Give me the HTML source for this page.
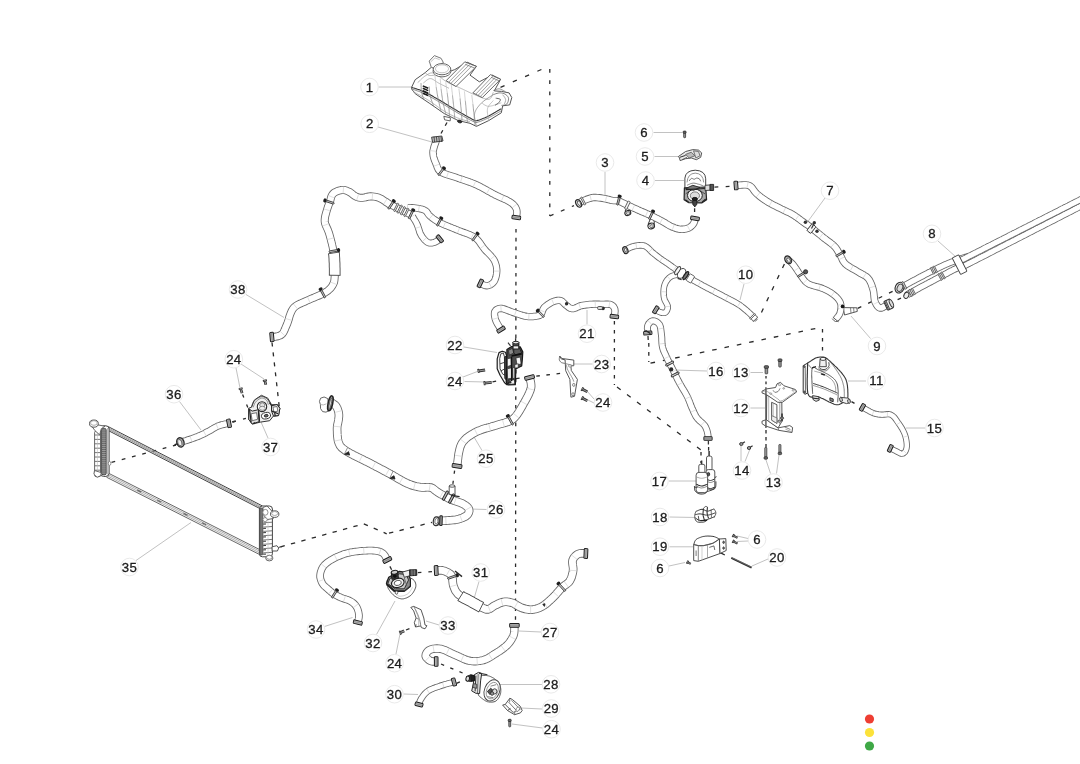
<!DOCTYPE html>
<html><head><meta charset="utf-8"><title>Cooling system</title>
<style>
html,body{margin:0;padding:0;background:#fff;}
body{width:1080px;height:764px;overflow:hidden;font-family:"Liberation Sans",sans-serif;}
svg{display:block;filter:blur(0.45px);}
text{font-family:"Liberation Sans",sans-serif;font-size:13.2px;fill:#1c1c1c;stroke:#1c1c1c;stroke-width:0.3px;letter-spacing:0.3px;}
</style></head><body>
<svg width="1080" height="764" viewBox="0 0 1080 764">
<rect width="1080" height="764" fill="#fff"/>
<path d="M500.5 87.3 L549.5 66" stroke="#2a2a2a" stroke-width="1.3" fill="none" stroke-dasharray="4.4 9"/>
<path d="M549.8 69 L549.8 216" stroke="#2a2a2a" stroke-width="1.3" fill="none" stroke-dasharray="3.8 7.4"/>
<path d="M549.8 216 L574 205.6" stroke="#2a2a2a" stroke-width="1.3" fill="none" stroke-dasharray="4 8"/>
<path d="M516 229 L515.5 620" stroke="#2a2a2a" stroke-width="1.3" fill="none" stroke-dasharray="3.6 5.2"/>
<path d="M447 122.5 L438 139" stroke="#2a2a2a" stroke-width="1.3" fill="none" stroke-dasharray="3.7 5.1"/>
<path d="M714.5 187.1 L731.5 186.3" stroke="#2a2a2a" stroke-width="1.3" fill="none" stroke-dasharray="3.8 7.4"/>
<path d="M694.6 208.3 L694.6 213" stroke="#2a2a2a" stroke-width="1.3" fill="none" stroke-dasharray="3.7 5.1"/>
<path d="M784.4 264 L760 315.5" stroke="#2a2a2a" stroke-width="1.3" fill="none" stroke-dasharray="4.4 7.9"/>
<path d="M857.7 308.4 L893.5 291" stroke="#2a2a2a" stroke-width="1.3" fill="none" stroke-dasharray="4 7.6"/>
<path d="M897.6 299.6 L902.2 297.6" stroke="#2a2a2a" stroke-width="1.3" fill="none" stroke-dasharray="3.7 5.1"/>
<path d="M614.4 321 L614.4 385" stroke="#2a2a2a" stroke-width="1.3" fill="none" stroke-dasharray="3.6 5.4"/>
<path d="M617 387 L701 450" stroke="#2a2a2a" stroke-width="1.3" fill="none" stroke-dasharray="4.6 7.9"/>
<path d="M701 452 L701 463" stroke="#2a2a2a" stroke-width="1.3" fill="none" stroke-dasharray="3.6 5.4"/>
<path d="M708.6 447 L708.6 453" stroke="#2a2a2a" stroke-width="1.3" fill="none" stroke-dasharray="3.7 5.1"/>
<path d="M648.8 343 L648.8 362" stroke="#2a2a2a" stroke-width="1.3" fill="none" stroke-dasharray="3.8 5.2"/>
<path d="M650.5 363.2 L822.5 327" stroke="#2a2a2a" stroke-width="1.3" fill="none" stroke-dasharray="4.6 8"/>
<path d="M822.5 329 L822.5 356" stroke="#2a2a2a" stroke-width="1.3" fill="none" stroke-dasharray="3.6 5.4"/>
<path d="M492.5 381.8 L499.5 380.4" stroke="#2a2a2a" stroke-width="1.3" fill="none" stroke-dasharray="3.7 5.1"/>
<path d="M516 378.6 L563 373" stroke="#2a2a2a" stroke-width="1.3" fill="none" stroke-dasharray="3.6 6.6"/>
<path d="M766 376 L766 387" stroke="#2a2a2a" stroke-width="1.3" fill="none" stroke-dasharray="2.6 3"/>
<path d="M766 430 L766 451" stroke="#2a2a2a" stroke-width="1.3" fill="none" stroke-dasharray="3.4 3.6"/>
<path d="M851.5 401.6 L854.5 403.4" stroke="#2a2a2a" stroke-width="1.3" fill="none" stroke-dasharray="4 4"/>
<path d="M720.7 552.9 L725.2 555.2" stroke="#2a2a2a" stroke-width="1.3" fill="none" stroke-dasharray="4.6 4"/>
<path d="M272 342.5 L279.5 409" stroke="#2a2a2a" stroke-width="1.3" fill="none" stroke-dasharray="4 6"/>
<path d="M242.6 394.6 L248 408" stroke="#2a2a2a" stroke-width="1.3" fill="none" stroke-dasharray="3.2 7.5"/>
<path d="M233 422 L247 418" stroke="#2a2a2a" stroke-width="1.3" fill="none" stroke-dasharray="3 7.4"/>
<path d="M111.5 462.4 L176 445" stroke="#2a2a2a" stroke-width="1.3" fill="none" stroke-dasharray="3.8 6.8"/>
<path d="M280.5 546.8 L363.8 523.8" stroke="#2a2a2a" stroke-width="1.3" fill="none" stroke-dasharray="4.4 6.4"/>
<path d="M363.8 523.8 L386.7 533.8" stroke="#2a2a2a" stroke-width="1.3" fill="none" stroke-dasharray="4.4 6.4"/>
<path d="M389 533.2 L432 522.4" stroke="#2a2a2a" stroke-width="1.3" fill="none" stroke-dasharray="4.4 6.4"/>
<path d="M454.6 470.6 L452.8 484.5" stroke="#2a2a2a" stroke-width="1.3" fill="none" stroke-dasharray="3.2 7"/>
<path d="M389.9 566.4 L392 570.5" stroke="#2a2a2a" stroke-width="1.3" fill="none" stroke-dasharray="3.7 5.1"/>
<path d="M417.8 572.6 L432.2 571.7" stroke="#2a2a2a" stroke-width="1.3" fill="none" stroke-dasharray="3.6 7"/>
<path d="M406 630 L409.8 628.5" stroke="#2a2a2a" stroke-width="1.3" fill="none" stroke-dasharray="3.7 5.1"/>
<path d="M441 664 L465 674" stroke="#2a2a2a" stroke-width="1.3" fill="none" stroke-dasharray="3.4 6.6"/>
<path d="M456.5 683.4 L461 681.4" stroke="#2a2a2a" stroke-width="1.3" fill="none" stroke-dasharray="3.7 5.1"/>
<line x1="378.5" y1="87" x2="412" y2="87" stroke="#c2c2c2" stroke-width="1" />
<line x1="378" y1="127" x2="432" y2="142" stroke="#c2c2c2" stroke-width="1" />
<line x1="605" y1="172" x2="605" y2="196" stroke="#c2c2c2" stroke-width="1" />
<line x1="655" y1="180.5" x2="684" y2="180.5" stroke="#c2c2c2" stroke-width="1" />
<line x1="654.5" y1="156.5" x2="680" y2="156.5" stroke="#c2c2c2" stroke-width="1" />
<line x1="653.5" y1="132.5" x2="682" y2="132.5" stroke="#c2c2c2" stroke-width="1" />
<line x1="825" y1="198" x2="807.5" y2="222" stroke="#c2c2c2" stroke-width="1" />
<line x1="938" y1="241" x2="956" y2="257" stroke="#c2c2c2" stroke-width="1" />
<line x1="870.5" y1="338.5" x2="851" y2="316" stroke="#c2c2c2" stroke-width="1" />
<line x1="744" y1="284" x2="740" y2="300" stroke="#c2c2c2" stroke-width="1" />
<line x1="866" y1="381" x2="848" y2="381" stroke="#c2c2c2" stroke-width="1" />
<line x1="750.5" y1="408" x2="765" y2="408" stroke="#c2c2c2" stroke-width="1" />
<line x1="750.5" y1="372.5" x2="763" y2="372.5" stroke="#c2c2c2" stroke-width="1" />
<line x1="741" y1="461" x2="741" y2="446" stroke="#c2c2c2" stroke-width="1" />
<line x1="745" y1="461.5" x2="750" y2="449" stroke="#c2c2c2" stroke-width="1" />
<line x1="770.5" y1="473.5" x2="766" y2="460" stroke="#c2c2c2" stroke-width="1" />
<line x1="776.5" y1="473.5" x2="779" y2="455" stroke="#c2c2c2" stroke-width="1" />
<line x1="925" y1="428" x2="906" y2="428" stroke="#c2c2c2" stroke-width="1" />
<line x1="707" y1="371" x2="674" y2="370" stroke="#c2c2c2" stroke-width="1" />
<line x1="669" y1="481" x2="696" y2="481" stroke="#c2c2c2" stroke-width="1" />
<line x1="669.5" y1="517" x2="696" y2="517.5" stroke="#c2c2c2" stroke-width="1" />
<line x1="669.5" y1="546.8" x2="693" y2="546.8" stroke="#c2c2c2" stroke-width="1" />
<line x1="669" y1="566" x2="685" y2="562.5" stroke="#c2c2c2" stroke-width="1" />
<line x1="748" y1="538.5" x2="737" y2="536" stroke="#c2c2c2" stroke-width="1" />
<line x1="748" y1="541" x2="737" y2="541.5" stroke="#c2c2c2" stroke-width="1" />
<line x1="768" y1="559" x2="752" y2="566" stroke="#c2c2c2" stroke-width="1" />
<line x1="587" y1="324.5" x2="587" y2="310" stroke="#c2c2c2" stroke-width="1" />
<line x1="464" y1="347" x2="497" y2="352.5" stroke="#c2c2c2" stroke-width="1" />
<line x1="592.5" y1="364" x2="573" y2="364" stroke="#c2c2c2" stroke-width="1" />
<line x1="463" y1="377" x2="480" y2="370.5" stroke="#c2c2c2" stroke-width="1" />
<line x1="464.5" y1="381.5" x2="486" y2="382" stroke="#c2c2c2" stroke-width="1" />
<line x1="594" y1="399" x2="587" y2="391" stroke="#c2c2c2" stroke-width="1" />
<line x1="594" y1="403" x2="588" y2="400" stroke="#c2c2c2" stroke-width="1" />
<line x1="482" y1="450.5" x2="474" y2="437" stroke="#c2c2c2" stroke-width="1" />
<line x1="486.5" y1="509.5" x2="470" y2="509" stroke="#c2c2c2" stroke-width="1" />
<line x1="541" y1="632" x2="519" y2="631" stroke="#c2c2c2" stroke-width="1" />
<line x1="542" y1="684.5" x2="500" y2="684.5" stroke="#c2c2c2" stroke-width="1" />
<line x1="542" y1="709" x2="521" y2="708" stroke="#c2c2c2" stroke-width="1" />
<line x1="542.5" y1="728" x2="512" y2="724" stroke="#c2c2c2" stroke-width="1" />
<line x1="403.5" y1="694" x2="418" y2="694.5" stroke="#c2c2c2" stroke-width="1" />
<line x1="479" y1="581.5" x2="474.5" y2="597" stroke="#c2c2c2" stroke-width="1" />
<line x1="376.5" y1="634.5" x2="395" y2="601" stroke="#c2c2c2" stroke-width="1" />
<line x1="439" y1="625" x2="426" y2="621" stroke="#c2c2c2" stroke-width="1" />
<line x1="396" y1="654" x2="400" y2="634" stroke="#c2c2c2" stroke-width="1" />
<line x1="324.5" y1="626.5" x2="352.5" y2="617.5" stroke="#c2c2c2" stroke-width="1" />
<line x1="136" y1="560.5" x2="191" y2="522.5" stroke="#c2c2c2" stroke-width="1" />
<line x1="179.5" y1="401.5" x2="201" y2="430" stroke="#c2c2c2" stroke-width="1" />
<line x1="268" y1="438" x2="261" y2="422" stroke="#c2c2c2" stroke-width="1" />
<line x1="246" y1="294.5" x2="284" y2="317.5" stroke="#c2c2c2" stroke-width="1" />
<line x1="236" y1="368" x2="240" y2="388" stroke="#c2c2c2" stroke-width="1" />
<line x1="241" y1="364" x2="264" y2="379" stroke="#c2c2c2" stroke-width="1" />
<path d="M436.8 139 L436.5 139.9 L436.1 141.1 L435.6 142.6 L435 144.2 L434.4 145.9 L433.9 147.6 L433.5 149.3 L433.1 150.9 L433 152.4 L433.1 154.1 L433.3 155.8 L433.7 157.5 L434.2 159.1 L434.8 160.7 L435.4 162.2 L436 163.6 L436.6 165.2 L437.1 166.7 L437.7 168.1 L438.4 169.5 L439.5 170.8 L441 172 L442 172.6 L443.2 173.2 L444.6 173.8 L446 174.3 L447.5 174.8 L449.1 175.3 L450.7 175.8 L452.4 176.3 L454 176.8 L455.7 177.3 L457.3 177.9 L458.7 178.4 L460 178.9 L461.4 179.3 L462.9 179.8 L464.3 180.3 L465.7 180.7 L467.2 181.2 L468.6 181.7 L470.1 182.3 L471.6 182.8 L473 183.4 L474.5 184 L475.9 184.6 L477.2 185.2 L478.6 185.9 L480 186.6 L481.3 187.3 L482.7 188 L484.1 188.8 L485.4 189.5 L486.8 190.3 L488.1 191.1 L489.5 191.8 L490.8 192.5 L492.1 193.3 L493.4 193.9 L494.6 194.6 L496.2 195.4 L497.8 196.1 L499.4 196.9 L501 197.6 L502.6 198.3 L504.1 199 L505.6 199.6 L506.9 200.3 L508.2 201 L509.4 201.6 L510.5 202.3 L512.2 203.5 L513.5 204.7 L514.6 205.9 L515.4 207.1 L516.1 208.4 L516.6 209.6 L516.9 211.3 L516.9 213.1 L516.7 214.9 L516.4 216.4 L516.3 217.5" stroke="#666" stroke-width="7.4" fill="none" stroke-linejoin="round"/>
<path d="M436.8 139 L436.5 139.9 L436.1 141.1 L435.6 142.6 L435 144.2 L434.4 145.9 L433.9 147.6 L433.5 149.3 L433.1 150.9 L433 152.4 L433.1 154.1 L433.3 155.8 L433.7 157.5 L434.2 159.1 L434.8 160.7 L435.4 162.2 L436 163.6 L436.6 165.2 L437.1 166.7 L437.7 168.1 L438.4 169.5 L439.5 170.8 L441 172 L442 172.6 L443.2 173.2 L444.6 173.8 L446 174.3 L447.5 174.8 L449.1 175.3 L450.7 175.8 L452.4 176.3 L454 176.8 L455.7 177.3 L457.3 177.9 L458.7 178.4 L460 178.9 L461.4 179.3 L462.9 179.8 L464.3 180.3 L465.7 180.7 L467.2 181.2 L468.6 181.7 L470.1 182.3 L471.6 182.8 L473 183.4 L474.5 184 L475.9 184.6 L477.2 185.2 L478.6 185.9 L480 186.6 L481.3 187.3 L482.7 188 L484.1 188.8 L485.4 189.5 L486.8 190.3 L488.1 191.1 L489.5 191.8 L490.8 192.5 L492.1 193.3 L493.4 193.9 L494.6 194.6 L496.2 195.4 L497.8 196.1 L499.4 196.9 L501 197.6 L502.6 198.3 L504.1 199 L505.6 199.6 L506.9 200.3 L508.2 201 L509.4 201.6 L510.5 202.3 L512.2 203.5 L513.5 204.7 L514.6 205.9 L515.4 207.1 L516.1 208.4 L516.6 209.6 L516.9 211.3 L516.9 213.1 L516.7 214.9 L516.4 216.4 L516.3 217.5" stroke="#fff" stroke-width="5.7" fill="none" stroke-linejoin="round"/>
<line x1="436" y1="151.3" x2="430.3" y2="150.6" stroke="#d2d2d2" stroke-width="0.7" />
<line x1="439.3" y1="164.2" x2="433.9" y2="166.2" stroke="#d2d2d2" stroke-width="0.7" />
<line x1="448.4" y1="172.1" x2="446.6" y2="177.5" stroke="#d2d2d2" stroke-width="0.7" />
<line x1="462.3" y1="176.6" x2="460.5" y2="182" stroke="#d2d2d2" stroke-width="0.7" />
<line x1="475.6" y1="181.3" x2="473.3" y2="186.6" stroke="#d2d2d2" stroke-width="0.7" />
<line x1="489.5" y1="188.6" x2="486.7" y2="193.5" stroke="#d2d2d2" stroke-width="0.7" />
<line x1="503.7" y1="195.7" x2="501.4" y2="200.9" stroke="#d2d2d2" stroke-width="0.7" />
<line x1="516.8" y1="204.1" x2="512.3" y2="207.7" stroke="#d2d2d2" stroke-width="0.7" />
<rect x="440.1" y="167.8" width="1.7" height="8.4" rx="0.8" transform="rotate(37.7 441 172)" fill="#c8c8c8" stroke="#333" stroke-width="0.8"/>
<ellipse cx="444" cy="168.1" rx="2.1" ry="1.6" transform="rotate(37.7 444 168.1)" fill="#1e1e1e"/>
<rect x="514.5" y="213.2" width="3.6" height="8.6" rx="0.8" transform="rotate(98.8 516.3 217.5)" fill="#7a7a7a" stroke="#1e1e1e" stroke-width="1"/>
<line x1="512.6" y1="216.2" x2="520.3" y2="217.4" stroke="#d4d4d4" stroke-width="0.6" />
<line x1="512.3" y1="217.6" x2="520" y2="218.8" stroke="#d4d4d4" stroke-width="0.6" />
<path d="M431.6 137.2 L441.8 136 L443 141 L432.6 142.4 Z" stroke="#333" stroke-width="0.9" fill="#bdbdbd" stroke-linejoin="round" />
<line x1="434" y1="136.6" x2="434.6" y2="142" stroke="#333" stroke-width="0.8" />
<line x1="436.4" y1="136.6" x2="437" y2="142" stroke="#333" stroke-width="0.8" />
<line x1="438.8" y1="136.6" x2="439.4" y2="142" stroke="#333" stroke-width="0.8" />
<line x1="441" y1="136.6" x2="441.6" y2="142" stroke="#333" stroke-width="0.8" />
<path d="M412.3 216.1 L412.8 217 L413.6 218.2 L414.4 219.6 L415.4 221.1 L416.3 222.8 L417.1 224.4 L417.7 225.9 L418.2 227.4 L418.8 229.1 L419.3 230.7 L419.8 232.4 L420.5 233.9 L421.2 235.3 L422.2 236.8 L423.3 238.3 L424.5 239.7 L425.7 240.9 L426.9 241.9 L428.1 242.6 L429.9 243.1 L431.7 243.1 L433.4 242.7 L435 242.2 L436.9 241.2 L438.6 239.8 L439.8 238.8" stroke="#666" stroke-width="7" fill="none" stroke-linejoin="round"/>
<path d="M412.3 216.1 L412.8 217 L413.6 218.2 L414.4 219.6 L415.4 221.1 L416.3 222.8 L417.1 224.4 L417.7 225.9 L418.2 227.4 L418.8 229.1 L419.3 230.7 L419.8 232.4 L420.5 233.9 L421.2 235.3 L422.2 236.8 L423.3 238.3 L424.5 239.7 L425.7 240.9 L426.9 241.9 L428.1 242.6 L429.9 243.1 L431.7 243.1 L433.4 242.7 L435 242.2 L436.9 241.2 L438.6 239.8 L439.8 238.8" stroke="#fff" stroke-width="5.3" fill="none" stroke-linejoin="round"/>
<line x1="420.7" y1="226.6" x2="415.7" y2="228.3" stroke="#d2d2d2" stroke-width="0.7" />
<line x1="426.4" y1="237.8" x2="422.5" y2="241.5" stroke="#d2d2d2" stroke-width="0.7" />
<rect x="438" y="234.7" width="3.6" height="8.2" rx="0.8" transform="rotate(-39.5 439.8 238.8)" fill="#7a7a7a" stroke="#1e1e1e" stroke-width="1"/>
<line x1="441.6" y1="242.1" x2="436.9" y2="236.4" stroke="#d4d4d4" stroke-width="0.6" />
<line x1="442.7" y1="241.2" x2="438" y2="235.5" stroke="#d4d4d4" stroke-width="0.6" />
<path d="M407.5 207.5 L408.6 207.6 L410 207.6 L411.8 207.7 L413.6 207.8 L415.5 208 L417.1 208.2 L418.9 208.5 L420.6 208.9 L422.3 209.3 L423.9 209.9 L425.3 210.6 L426.6 211.7 L427.6 213.1 L428.6 214.6 L430 216.1 L431 216.9 L432 217.8 L433.1 218.6 L434.4 219.5 L435.7 220.4 L437.3 221.3 L439.1 222.3 L440.3 222.9 L441.6 223.5 L443 224.1 L444.4 224.7 L445.9 225.4 L447.5 226 L449.1 226.7 L450.7 227.3 L452.3 228 L453.9 228.6 L455.5 229.3 L457 229.9 L458.5 230.5 L460.1 231.1 L461.6 231.7 L463.2 232.3 L464.8 232.8 L466.4 233.4 L468 234 L469.5 234.6 L470.9 235.2 L472.3 235.9 L473.6 236.6 L474.8 237.4 L476.1 238.4 L477.2 239.5 L478.3 240.6 L479.2 241.8 L480.1 243 L480.9 244.3 L481.8 245.5 L482.6 246.7 L483.5 247.9 L484.4 249.1 L485.5 250.4 L486.7 251.6 L487.9 252.8 L489.1 254 L490.3 255.2 L491.4 256.5 L492.4 257.7 L493.3 258.9 L494.1 260.1 L494.9 261.7 L495.5 263.3 L496 264.8 L496.4 266.4 L496.6 268 L496.8 269.6 L496.8 271.1 L496.7 272.7 L496.5 274.3 L496.2 275.9 L495.8 277.5 L495.3 279 L494.8 280.3 L494.1 281.5 L493 282.9 L491.6 284 L490.2 284.9 L488.6 285.5 L487.2 285.8 L485.3 285.6 L483.3 284.9 L481.5 284 L480.3 283.4" stroke="#666" stroke-width="7.2" fill="none" stroke-linejoin="round"/>
<path d="M407.5 207.5 L408.6 207.6 L410 207.6 L411.8 207.7 L413.6 207.8 L415.5 208 L417.1 208.2 L418.9 208.5 L420.6 208.9 L422.3 209.3 L423.9 209.9 L425.3 210.6 L426.6 211.7 L427.6 213.1 L428.6 214.6 L430 216.1 L431 216.9 L432 217.8 L433.1 218.6 L434.4 219.5 L435.7 220.4 L437.3 221.3 L439.1 222.3 L440.3 222.9 L441.6 223.5 L443 224.1 L444.4 224.7 L445.9 225.4 L447.5 226 L449.1 226.7 L450.7 227.3 L452.3 228 L453.9 228.6 L455.5 229.3 L457 229.9 L458.5 230.5 L460.1 231.1 L461.6 231.7 L463.2 232.3 L464.8 232.8 L466.4 233.4 L468 234 L469.5 234.6 L470.9 235.2 L472.3 235.9 L473.6 236.6 L474.8 237.4 L476.1 238.4 L477.2 239.5 L478.3 240.6 L479.2 241.8 L480.1 243 L480.9 244.3 L481.8 245.5 L482.6 246.7 L483.5 247.9 L484.4 249.1 L485.5 250.4 L486.7 251.6 L487.9 252.8 L489.1 254 L490.3 255.2 L491.4 256.5 L492.4 257.7 L493.3 258.9 L494.1 260.1 L494.9 261.7 L495.5 263.3 L496 264.8 L496.4 266.4 L496.6 268 L496.8 269.6 L496.8 271.1 L496.7 272.7 L496.5 274.3 L496.2 275.9 L495.8 277.5 L495.3 279 L494.8 280.3 L494.1 281.5 L493 282.9 L491.6 284 L490.2 284.9 L488.6 285.5 L487.2 285.8 L485.3 285.6 L483.3 284.9 L481.5 284 L480.3 283.4" stroke="#fff" stroke-width="5.5" fill="none" stroke-linejoin="round"/>
<line x1="419.4" y1="205.8" x2="418.4" y2="211.2" stroke="#d2d2d2" stroke-width="0.7" />
<line x1="432.8" y1="214.9" x2="429.2" y2="219" stroke="#d2d2d2" stroke-width="0.7" />
<line x1="445.5" y1="222.2" x2="443.3" y2="227.3" stroke="#d2d2d2" stroke-width="0.7" />
<line x1="459.5" y1="228" x2="457.5" y2="233.1" stroke="#d2d2d2" stroke-width="0.7" />
<line x1="473.6" y1="233.5" x2="471" y2="238.3" stroke="#d2d2d2" stroke-width="0.7" />
<line x1="484.8" y1="245.1" x2="480.4" y2="248.3" stroke="#d2d2d2" stroke-width="0.7" />
<line x1="494.6" y1="256" x2="490.3" y2="259.4" stroke="#d2d2d2" stroke-width="0.7" />
<line x1="499.5" y1="271.1" x2="494.1" y2="271.1" stroke="#d2d2d2" stroke-width="0.7" />
<line x1="491.4" y1="287.3" x2="488.9" y2="282.4" stroke="#d2d2d2" stroke-width="0.7" />
<rect x="438.2" y="218.2" width="1.7" height="8.2" rx="0.8" transform="rotate(27.8 439.1 222.3)" fill="#c8c8c8" stroke="#333" stroke-width="0.8"/>
<ellipse cx="441.3" cy="218.1" rx="2.1" ry="1.6" transform="rotate(27.8 441.3 218.1)" fill="#1e1e1e"/>
<rect x="473.9" y="233.3" width="1.7" height="8.2" rx="0.8" transform="rotate(35.9 474.8 237.4)" fill="#c8c8c8" stroke="#333" stroke-width="0.8"/>
<ellipse cx="477.6" cy="233.5" rx="2.1" ry="1.6" transform="rotate(35.9 477.6 233.5)" fill="#1e1e1e"/>
<rect x="478.5" y="279.2" width="3.6" height="8.4" rx="0.8" transform="rotate(-154.1 480.3 283.4)" fill="#7a7a7a" stroke="#1e1e1e" stroke-width="1"/>
<line x1="482.6" y1="280.3" x2="479.3" y2="287.1" stroke="#d4d4d4" stroke-width="0.6" />
<line x1="481.3" y1="279.7" x2="478" y2="286.5" stroke="#d4d4d4" stroke-width="0.6" />
<path d="M390.3 204.4 L391.7 205.1 L393.1 205.8 L394.4 206.5 L395.8 207.2 L397.2 207.9 L398.6 208.6 L400 209.3 L401.3 209.9 L402.7 210.6 L404.1 211.3 L405.5 212 L406.9 212.7 L408.2 213.4 L409.6 214.1 L411 214.8" stroke="#666" stroke-width="7.6" fill="none" stroke-linejoin="round"/>
<path d="M390.3 204.4 L391.7 205.1 L393.1 205.8 L394.4 206.5 L395.8 207.2 L397.2 207.9 L398.6 208.6 L400 209.3 L401.3 209.9 L402.7 210.6 L404.1 211.3 L405.5 212 L406.9 212.7 L408.2 213.4 L409.6 214.1 L411 214.8" stroke="#fff" stroke-width="5.9" fill="none" stroke-linejoin="round"/>
<rect x="395.4" y="202.9" width="1.6" height="9" rx="0.8" transform="rotate(26.5 396.2 207.4)" fill="#eee" stroke="#555" stroke-width="0.8"/>
<rect x="398.8" y="204.6" width="1.6" height="9" rx="0.8" transform="rotate(26.5 399.6 209.1)" fill="#eee" stroke="#555" stroke-width="0.8"/>
<rect x="402.2" y="206.3" width="1.6" height="9" rx="0.8" transform="rotate(26.5 403 210.8)" fill="#eee" stroke="#555" stroke-width="0.8"/>
<rect x="405.6" y="208" width="1.6" height="9" rx="0.8" transform="rotate(26.5 406.4 212.5)" fill="#eee" stroke="#555" stroke-width="0.8"/>
<rect x="410" y="210.2" width="1.7" height="9" rx="0.8" transform="rotate(26.5 410.9 214.7)" fill="#c8c8c8" stroke="#333" stroke-width="0.8"/>
<ellipse cx="413.2" cy="210" rx="2.1" ry="1.6" transform="rotate(26.5 413.2 210)" fill="#1e1e1e"/>
<path d="M271.9 337 L273 336.9 L274.7 336.8 L276.4 336.5 L278 336.2 L279.7 335.6 L281.3 334.8 L282.6 333.6 L283.4 332.4 L284.1 331 L284.8 329.5 L285.4 328 L286 326.6 L286.6 325.2 L287.2 323.8 L287.8 322.2 L288.2 320.8 L288.7 319.4 L289.1 317.9 L289.5 316.4 L290 315 L290.6 313.4 L291.3 311.8 L292 310.3 L292.8 309 L294 307.5 L295.4 306.3 L297 305.2 L298.3 304.5 L299.7 303.8 L301.2 303.2 L303 302.4 L304.3 301.8 L305.7 301.2 L307.2 300.5 L308.7 299.8 L310.3 299.1 L312 298.4 L313.5 297.8 L315.1 297.1 L316.8 296.4 L318.5 295.7 L320.2 295 L321.7 294.3 L323 293.7 L324.9 292.7 L326.4 291.7 L327.8 290.7 L329 289.6 L330.2 288.5 L331.3 287.3 L332.2 286 L333 284.6 L333.6 283.3 L334.1 282 L334.4 280.3 L334.6 278 L334.7 276.8 L334.7 275.3 L334.7 273.7 L334.7 272 L334.7 270.3 L334.7 268.5 L334.6 266.7 L334.6 265 L334.6 263.4 L334.5 262 L334.4 260.2 L334.4 258.7 L334.3 257.3 L334.2 255.9 L334.1 254.5 L333.8 252.9 L333.5 251 L333.2 249.7 L332.9 248.3 L332.6 246.8 L332.2 245.3 L331.9 243.6 L331.4 242 L331 240.4 L330.6 238.7 L330.2 237.2 L329.8 235.7 L329.4 234.3 L329 233 L328.3 231.1 L327.6 229.3 L326.9 227.8 L326.2 226.3 L325.6 224.9 L325.1 223.5 L324.8 222 L324.7 220.5 L324.8 218.9 L325 217.4 L325.3 215.9 L325.7 214.4 L326.1 212.9 L326.5 211.5 L327 209.8 L327.5 208.2 L328.1 206.6 L328.6 205 L329.2 203.5 L329.8 202 L330.4 200.2 L330.8 198.4 L331.3 196.7 L332 195.1 L333 193.8 L334.1 192.8 L335.5 192 L337 191.3 L338.6 190.7 L340.1 190.3 L341.5 190 L343.4 189.9 L345.2 190.2 L346.9 190.8 L348.7 191.6 L350.2 192.4 L351.7 193.5 L353.1 194.7 L354.6 195.8 L356 196.6 L357.6 197.2 L359.1 197.6 L360.6 197.8 L362.3 197.8 L363.8 197.6 L365.5 197.3 L367.2 196.8 L369 196.5 L370.7 196.3 L372.4 196.4 L374.1 196.6 L375.8 196.9 L377.5 197.3 L379 197.8 L380.7 198.6 L382.3 199.5 L383.8 200.5 L385.3 201.5 L386.9 202.5 L388.5 203.6 L390 204.6 L391 205.3" stroke="#666" stroke-width="8" fill="none" stroke-linejoin="round"/>
<path d="M271.9 337 L273 336.9 L274.7 336.8 L276.4 336.5 L278 336.2 L279.7 335.6 L281.3 334.8 L282.6 333.6 L283.4 332.4 L284.1 331 L284.8 329.5 L285.4 328 L286 326.6 L286.6 325.2 L287.2 323.8 L287.8 322.2 L288.2 320.8 L288.7 319.4 L289.1 317.9 L289.5 316.4 L290 315 L290.6 313.4 L291.3 311.8 L292 310.3 L292.8 309 L294 307.5 L295.4 306.3 L297 305.2 L298.3 304.5 L299.7 303.8 L301.2 303.2 L303 302.4 L304.3 301.8 L305.7 301.2 L307.2 300.5 L308.7 299.8 L310.3 299.1 L312 298.4 L313.5 297.8 L315.1 297.1 L316.8 296.4 L318.5 295.7 L320.2 295 L321.7 294.3 L323 293.7 L324.9 292.7 L326.4 291.7 L327.8 290.7 L329 289.6 L330.2 288.5 L331.3 287.3 L332.2 286 L333 284.6 L333.6 283.3 L334.1 282 L334.4 280.3 L334.6 278 L334.7 276.8 L334.7 275.3 L334.7 273.7 L334.7 272 L334.7 270.3 L334.7 268.5 L334.6 266.7 L334.6 265 L334.6 263.4 L334.5 262 L334.4 260.2 L334.4 258.7 L334.3 257.3 L334.2 255.9 L334.1 254.5 L333.8 252.9 L333.5 251 L333.2 249.7 L332.9 248.3 L332.6 246.8 L332.2 245.3 L331.9 243.6 L331.4 242 L331 240.4 L330.6 238.7 L330.2 237.2 L329.8 235.7 L329.4 234.3 L329 233 L328.3 231.1 L327.6 229.3 L326.9 227.8 L326.2 226.3 L325.6 224.9 L325.1 223.5 L324.8 222 L324.7 220.5 L324.8 218.9 L325 217.4 L325.3 215.9 L325.7 214.4 L326.1 212.9 L326.5 211.5 L327 209.8 L327.5 208.2 L328.1 206.6 L328.6 205 L329.2 203.5 L329.8 202 L330.4 200.2 L330.8 198.4 L331.3 196.7 L332 195.1 L333 193.8 L334.1 192.8 L335.5 192 L337 191.3 L338.6 190.7 L340.1 190.3 L341.5 190 L343.4 189.9 L345.2 190.2 L346.9 190.8 L348.7 191.6 L350.2 192.4 L351.7 193.5 L353.1 194.7 L354.6 195.8 L356 196.6 L357.6 197.2 L359.1 197.6 L360.6 197.8 L362.3 197.8 L363.8 197.6 L365.5 197.3 L367.2 196.8 L369 196.5 L370.7 196.3 L372.4 196.4 L374.1 196.6 L375.8 196.9 L377.5 197.3 L379 197.8 L380.7 198.6 L382.3 199.5 L383.8 200.5 L385.3 201.5 L386.9 202.5 L388.5 203.6 L390 204.6 L391 205.3" stroke="#fff" stroke-width="6.3" fill="none" stroke-linejoin="round"/>
<line x1="280.3" y1="331.4" x2="284.9" y2="335.8" stroke="#d2d2d2" stroke-width="0.7" />
<line x1="285.6" y1="318.5" x2="291.7" y2="320.3" stroke="#d2d2d2" stroke-width="0.7" />
<line x1="293.4" y1="303.9" x2="297.4" y2="308.7" stroke="#d2d2d2" stroke-width="0.7" />
<line x1="307.5" y1="296.9" x2="310" y2="302.7" stroke="#d2d2d2" stroke-width="0.7" />
<line x1="321.5" y1="290.9" x2="324.5" y2="296.5" stroke="#d2d2d2" stroke-width="0.7" />
<line x1="330.7" y1="282.2" x2="336.5" y2="284.4" stroke="#d2d2d2" stroke-width="0.7" />
<line x1="331.5" y1="268.5" x2="337.8" y2="268.4" stroke="#d2d2d2" stroke-width="0.7" />
<line x1="330.9" y1="254.9" x2="337.2" y2="254.1" stroke="#d2d2d2" stroke-width="0.7" />
<line x1="327.6" y1="239.5" x2="333.7" y2="237.9" stroke="#d2d2d2" stroke-width="0.7" />
<line x1="322.6" y1="226" x2="328.5" y2="223.8" stroke="#d2d2d2" stroke-width="0.7" />
<line x1="323.9" y1="208.9" x2="330" y2="210.8" stroke="#d2d2d2" stroke-width="0.7" />
<line x1="328.4" y1="195.5" x2="334.3" y2="197.9" stroke="#d2d2d2" stroke-width="0.7" />
<line x1="343.6" y1="186.8" x2="343.1" y2="193.1" stroke="#d2d2d2" stroke-width="0.7" />
<line x1="358.6" y1="194.2" x2="356.6" y2="200.2" stroke="#d2d2d2" stroke-width="0.7" />
<line x1="372.6" y1="193.2" x2="372.2" y2="199.5" stroke="#d2d2d2" stroke-width="0.7" />
<line x1="387" y1="198.9" x2="383.6" y2="204.1" stroke="#d2d2d2" stroke-width="0.7" />
<path d="M334.7 275.3 L334.7 273.7 L334.7 272 L334.7 270.3 L334.7 268.5 L334.6 266.7 L334.6 265 L334.6 263.4 L334.5 262 L334.4 260.2 L334.4 258.7 L334.3 257.3 L334.2 255.9 L334.1 254.5 L333.8 252.9" stroke="#3c3c3c" stroke-width="11.6" fill="none" stroke-linejoin="round"/>
<path d="M334.7 275.3 L334.7 273.7 L334.7 272 L334.7 270.3 L334.7 268.5 L334.6 266.7 L334.6 265 L334.6 263.4 L334.5 262 L334.4 260.2 L334.4 258.7 L334.3 257.3 L334.2 255.9 L334.1 254.5 L333.8 252.9" stroke="#fff" stroke-width="9.9" fill="none" stroke-linejoin="round" />
<line x1="328.9" y1="275.2" x2="340.5" y2="275.4" stroke="#3c3c3c" stroke-width="0.8" />
<line x1="328.1" y1="253.8" x2="339.6" y2="252" stroke="#3c3c3c" stroke-width="0.8" />
<rect x="322.1" y="289.2" width="1.7" height="9" rx="0.8" transform="rotate(-28.1 323 293.7)" fill="#c8c8c8" stroke="#333" stroke-width="0.8"/>
<ellipse cx="320.6" cy="289.1" rx="2.1" ry="1.6" transform="rotate(-28.1 320.6 289.1)" fill="#1e1e1e"/>
<rect x="332.6" y="246.5" width="1.7" height="9" rx="0.8" transform="rotate(-100.2 333.5 251)" fill="#c8c8c8" stroke="#333" stroke-width="0.8"/>
<ellipse cx="338.6" cy="250.1" rx="2.1" ry="1.6" transform="rotate(-100.2 338.6 250.1)" fill="#1e1e1e"/>
<rect x="328.9" y="197.5" width="1.7" height="9" rx="0.8" transform="rotate(-71.7 329.8 202)" fill="#c8c8c8" stroke="#333" stroke-width="0.8"/>
<ellipse cx="324.9" cy="200.4" rx="2.1" ry="1.6" transform="rotate(-71.7 324.9 200.4)" fill="#1e1e1e"/>
<rect x="390.1" y="200.8" width="1.7" height="9" rx="0.8" transform="rotate(34.2 391 205.3)" fill="#c8c8c8" stroke="#333" stroke-width="0.8"/>
<ellipse cx="393.9" cy="201" rx="2.1" ry="1.6" transform="rotate(34.2 393.9 201)" fill="#1e1e1e"/>
<rect x="270.1" y="332.4" width="3.6" height="9.2" rx="0.8" transform="rotate(-4.9 271.9 337)" fill="#7a7a7a" stroke="#1e1e1e" stroke-width="1"/>
<line x1="271.6" y1="341.2" x2="270.8" y2="332.9" stroke="#d4d4d4" stroke-width="0.6" />
<line x1="273" y1="341.1" x2="272.2" y2="332.8" stroke="#d4d4d4" stroke-width="0.6" />
<ellipse cx="627.8" cy="213" rx="3" ry="2.5" transform="rotate(-20 627.8 213)" stroke="#2a2a2a" stroke-width="1.1" fill="#fff"/>
<ellipse cx="628.1" cy="213.2" rx="1.7" ry="1.4" transform="rotate(-20 628.1 213.2)" stroke="#555" stroke-width="0.8" fill="#ddd"/>
<line x1="625.1" y1="211.2" x2="627.2" y2="206.4" stroke="#333" stroke-width="1" />
<line x1="630.5" y1="212.4" x2="630.5" y2="207.3" stroke="#333" stroke-width="1" />
<ellipse cx="651.2" cy="226" rx="3.3" ry="2.8" transform="rotate(-20 651.2 226)" stroke="#2a2a2a" stroke-width="1.1" fill="#fff"/>
<ellipse cx="651.5" cy="226.2" rx="1.8" ry="1.5" transform="rotate(-20 651.5 226.2)" stroke="#555" stroke-width="0.8" fill="#ddd"/>
<line x1="648.2" y1="224" x2="650.5" y2="218.7" stroke="#333" stroke-width="1" />
<line x1="654.2" y1="225.3" x2="654.2" y2="219.7" stroke="#333" stroke-width="1" />
<path d="M579.4 202.8 L580.3 202.3 L581.6 201.6 L583.1 200.8 L584.9 200.1 L586.2 199.6 L587.6 199.1 L589.1 198.6 L590.7 198.1 L592.3 197.7 L593.9 197.5 L595.6 197.5 L597.4 197.6 L599.2 197.8 L601 198 L602.7 198.3 L604.3 198.6 L606 198.9 L607.7 199.3 L609.2 199.7 L610.7 200.1 L612.1 200.4 L613.8 200.6 L615.3 200.6 L616.8 200.7 L618.5 201 L619.9 201.5 L621.3 202.1 L622.7 202.9 L624.4 203.7 L626.3 204.6 L627.5 205.2 L628.9 205.8 L630.3 206.4 L631.8 207.1 L633.3 207.8 L634.9 208.5 L636.4 209.2 L637.9 209.9 L639.3 210.5 L640.8 211.2 L642.3 211.8 L643.8 212.4 L645.2 213 L646.7 213.7 L648.1 214.3 L649.6 214.9 L651 215.6 L652.5 216.3 L654 217 L655.5 217.8 L657 218.5 L658.4 219.3 L659.9 220.1 L661.3 220.8 L662.6 221.5 L664.3 222.4 L665.8 223.4 L667.3 224.3 L668.8 225.2 L670.2 226 L671.7 226.7 L673.2 227.3 L674.8 227.9 L676.3 228.4 L677.9 228.8 L679.4 229.1 L680.8 229.3 L682.5 229.3 L684.1 229.2 L685.7 228.9 L687.2 228.5 L688.6 228 L690.2 227.1 L691.6 225.9 L692.8 224.7 L693.7 223.4 L694.5 221.6 L694.8 219.7 L695 218.4" stroke="#666" stroke-width="7.4" fill="none" stroke-linejoin="round"/>
<path d="M579.4 202.8 L580.3 202.3 L581.6 201.6 L583.1 200.8 L584.9 200.1 L586.2 199.6 L587.6 199.1 L589.1 198.6 L590.7 198.1 L592.3 197.7 L593.9 197.5 L595.6 197.5 L597.4 197.6 L599.2 197.8 L601 198 L602.7 198.3 L604.3 198.6 L606 198.9 L607.7 199.3 L609.2 199.7 L610.7 200.1 L612.1 200.4 L613.8 200.6 L615.3 200.6 L616.8 200.7 L618.5 201 L619.9 201.5 L621.3 202.1 L622.7 202.9 L624.4 203.7 L626.3 204.6 L627.5 205.2 L628.9 205.8 L630.3 206.4 L631.8 207.1 L633.3 207.8 L634.9 208.5 L636.4 209.2 L637.9 209.9 L639.3 210.5 L640.8 211.2 L642.3 211.8 L643.8 212.4 L645.2 213 L646.7 213.7 L648.1 214.3 L649.6 214.9 L651 215.6 L652.5 216.3 L654 217 L655.5 217.8 L657 218.5 L658.4 219.3 L659.9 220.1 L661.3 220.8 L662.6 221.5 L664.3 222.4 L665.8 223.4 L667.3 224.3 L668.8 225.2 L670.2 226 L671.7 226.7 L673.2 227.3 L674.8 227.9 L676.3 228.4 L677.9 228.8 L679.4 229.1 L680.8 229.3 L682.5 229.3 L684.1 229.2 L685.7 228.9 L687.2 228.5 L688.6 228 L690.2 227.1 L691.6 225.9 L692.8 224.7 L693.7 223.4 L694.5 221.6 L694.8 219.7 L695 218.4" stroke="#fff" stroke-width="5.7" fill="none" stroke-linejoin="round"/>
<line x1="590" y1="195.3" x2="591.4" y2="200.9" stroke="#d2d2d2" stroke-width="0.7" />
<line x1="606.6" y1="196.1" x2="605.4" y2="201.7" stroke="#d2d2d2" stroke-width="0.7" />
<line x1="620.9" y1="198.8" x2="618.9" y2="204.2" stroke="#d2d2d2" stroke-width="0.7" />
<line x1="634.5" y1="205.2" x2="632.1" y2="210.4" stroke="#d2d2d2" stroke-width="0.7" />
<line x1="647.8" y1="211" x2="645.5" y2="216.3" stroke="#d2d2d2" stroke-width="0.7" />
<line x1="662.6" y1="218.3" x2="659.9" y2="223.3" stroke="#d2d2d2" stroke-width="0.7" />
<line x1="674.3" y1="224.7" x2="672.2" y2="230" stroke="#d2d2d2" stroke-width="0.7" />
<line x1="687.3" y1="225.5" x2="689.9" y2="230.5" stroke="#d2d2d2" stroke-width="0.7" />
<rect x="617.6" y="196.8" width="1.7" height="8.4" rx="0.8" transform="rotate(14.3 618.5 201)" fill="#c8c8c8" stroke="#333" stroke-width="0.8"/>
<ellipse cx="619.7" cy="196.3" rx="2.1" ry="1.6" transform="rotate(14.3 619.7 196.3)" fill="#1e1e1e"/>
<rect x="650.1" y="211.4" width="1.7" height="8.4" rx="0.8" transform="rotate(25.1 651 215.6)" fill="#c8c8c8" stroke="#333" stroke-width="0.8"/>
<ellipse cx="653.1" cy="211.2" rx="2.1" ry="1.6" transform="rotate(25.1 653.1 211.2)" fill="#1e1e1e"/>
<rect x="693.2" y="214.1" width="3.6" height="8.6" rx="0.8" transform="rotate(-80.4 695 218.4)" fill="#7a7a7a" stroke="#1e1e1e" stroke-width="1"/>
<line x1="698.7" y1="219.7" x2="691" y2="218.4" stroke="#d4d4d4" stroke-width="0.6" />
<line x1="699" y1="218.4" x2="691.3" y2="217.1" stroke="#d4d4d4" stroke-width="0.6" />
<rect x="626.2" y="200.9" width="2.4" height="8.6" rx="0.8" transform="rotate(26 627.4 205.2)" fill="#f2f2f2" stroke="#555" stroke-width="0.8"/>
<ellipse cx="578.6" cy="203.4" rx="2.6" ry="4" transform="rotate(-28 578.6 203.4)" stroke="#2a2a2a" stroke-width="1.2" fill="#ddd"/>
<ellipse cx="579" cy="203.2" rx="1.3" ry="2.5" transform="rotate(-28 579 203.2)" stroke="#555" stroke-width="0.8" fill="#f4f4f4"/>
<rect x="582.4" y="196.7" width="1.6" height="8.6" rx="0.8" transform="rotate(-28 583.2 201)" fill="#eee" stroke="#555" stroke-width="0.8"/>
<path d="M736 185.5 L737 185.4 L738.5 185.3 L740.1 185.1 L742 185 L743.9 184.9 L745.8 184.9 L747.5 185.1 L749 185.5 L750.4 186.3 L751.6 187.3 L752.6 188.6 L753.6 189.9 L754.6 191.4 L755.7 192.7 L757 194 L758.1 194.9 L759.2 195.8 L760.4 196.8 L761.6 197.7 L762.9 198.6 L764.1 199.5 L765.4 200.3 L766.7 201.2 L768 202 L769.3 202.8 L770.6 203.5 L771.9 204.2 L773.2 204.9 L774.5 205.6 L775.9 206.2 L777.2 206.9 L778.6 207.6 L780 208.3 L781.4 209 L782.9 209.7 L784.3 210.4 L785.8 211.1 L787.3 211.8 L788.8 212.5 L790.3 213.2 L791.7 214 L793.1 214.8 L794.5 215.7 L795.8 216.6 L797.2 217.5 L798.5 218.5 L799.9 219.5 L801.1 220.5 L802.3 221.4 L803.5 222.2 L804.5 223 L806.1 224.1 L807.3 224.8 L808.3 225.5 L809.5 226.3 L811.1 227.5 L812.2 228.3 L813.3 229.3 L814.5 230.3 L815.8 231.4 L817.2 232.5 L818.5 233.6 L819.9 234.7 L821.2 235.8 L822.5 236.9 L823.8 237.9 L825.2 238.9 L826.5 240 L827.9 241 L829.3 242 L830.6 243 L831.8 244 L833 244.9 L834 245.9 L835.3 247.3 L836.3 248.6 L837.2 249.9 L838 251.3 L838.8 252.7 L839.7 254.1 L840.4 255.4 L841.1 256.8 L841.8 258.3 L842.4 259.7 L843.2 261.2 L844.2 262.6 L845.4 263.9 L846.4 264.8 L847.6 265.7 L848.9 266.5 L850.3 267.4 L851.7 268.2 L853.1 269 L854.6 269.8 L856 270.6 L857.3 271.4 L858.5 272.1 L860.1 273.1 L861.7 273.9 L863.2 274.7 L864.6 275.6 L866 276.4 L867.2 277.4 L868.3 278.6 L869.2 279.8 L869.9 281.1 L870.6 282.5 L871.3 284 L871.8 285.5 L872.3 287 L872.8 288.5 L873.2 290 L873.6 291.7 L873.8 293.4 L874 295.2 L874.1 296.9 L874.3 298.6 L874.5 300.1 L874.9 301.5 L875.7 303.3 L876.6 304.9 L877.6 306.3 L878.7 307.3 L879.8 308 L881.3 308 L883 307.3 L884.5 306.4 L885.6 305.8" stroke="#666" stroke-width="7.4" fill="none" stroke-linejoin="round"/>
<path d="M736 185.5 L737 185.4 L738.5 185.3 L740.1 185.1 L742 185 L743.9 184.9 L745.8 184.9 L747.5 185.1 L749 185.5 L750.4 186.3 L751.6 187.3 L752.6 188.6 L753.6 189.9 L754.6 191.4 L755.7 192.7 L757 194 L758.1 194.9 L759.2 195.8 L760.4 196.8 L761.6 197.7 L762.9 198.6 L764.1 199.5 L765.4 200.3 L766.7 201.2 L768 202 L769.3 202.8 L770.6 203.5 L771.9 204.2 L773.2 204.9 L774.5 205.6 L775.9 206.2 L777.2 206.9 L778.6 207.6 L780 208.3 L781.4 209 L782.9 209.7 L784.3 210.4 L785.8 211.1 L787.3 211.8 L788.8 212.5 L790.3 213.2 L791.7 214 L793.1 214.8 L794.5 215.7 L795.8 216.6 L797.2 217.5 L798.5 218.5 L799.9 219.5 L801.1 220.5 L802.3 221.4 L803.5 222.2 L804.5 223 L806.1 224.1 L807.3 224.8 L808.3 225.5 L809.5 226.3 L811.1 227.5 L812.2 228.3 L813.3 229.3 L814.5 230.3 L815.8 231.4 L817.2 232.5 L818.5 233.6 L819.9 234.7 L821.2 235.8 L822.5 236.9 L823.8 237.9 L825.2 238.9 L826.5 240 L827.9 241 L829.3 242 L830.6 243 L831.8 244 L833 244.9 L834 245.9 L835.3 247.3 L836.3 248.6 L837.2 249.9 L838 251.3 L838.8 252.7 L839.7 254.1 L840.4 255.4 L841.1 256.8 L841.8 258.3 L842.4 259.7 L843.2 261.2 L844.2 262.6 L845.4 263.9 L846.4 264.8 L847.6 265.7 L848.9 266.5 L850.3 267.4 L851.7 268.2 L853.1 269 L854.6 269.8 L856 270.6 L857.3 271.4 L858.5 272.1 L860.1 273.1 L861.7 273.9 L863.2 274.7 L864.6 275.6 L866 276.4 L867.2 277.4 L868.3 278.6 L869.2 279.8 L869.9 281.1 L870.6 282.5 L871.3 284 L871.8 285.5 L872.3 287 L872.8 288.5 L873.2 290 L873.6 291.7 L873.8 293.4 L874 295.2 L874.1 296.9 L874.3 298.6 L874.5 300.1 L874.9 301.5 L875.7 303.3 L876.6 304.9 L877.6 306.3 L878.7 307.3 L879.8 308 L881.3 308 L883 307.3 L884.5 306.4 L885.6 305.8" stroke="#fff" stroke-width="5.7" fill="none" stroke-linejoin="round"/>
<line x1="748.1" y1="182.3" x2="746.9" y2="187.9" stroke="#d2d2d2" stroke-width="0.7" />
<line x1="759.9" y1="192.8" x2="756.2" y2="197.1" stroke="#d2d2d2" stroke-width="0.7" />
<line x1="772" y1="201" x2="769.2" y2="206" stroke="#d2d2d2" stroke-width="0.7" />
<line x1="785.6" y1="207.8" x2="783.1" y2="213" stroke="#d2d2d2" stroke-width="0.7" />
<line x1="798.9" y1="215.2" x2="795.5" y2="219.9" stroke="#d2d2d2" stroke-width="0.7" />
<line x1="811.2" y1="224" x2="807.9" y2="228.7" stroke="#d2d2d2" stroke-width="0.7" />
<line x1="823" y1="233.6" x2="819.4" y2="238.1" stroke="#d2d2d2" stroke-width="0.7" />
<line x1="834.9" y1="242.8" x2="831" y2="247" stroke="#d2d2d2" stroke-width="0.7" />
<line x1="844.3" y1="257" x2="839.2" y2="259.5" stroke="#d2d2d2" stroke-width="0.7" />
<line x1="853.1" y1="265.7" x2="850.3" y2="270.7" stroke="#d2d2d2" stroke-width="0.7" />
<line x1="866.1" y1="273.2" x2="863.1" y2="278" stroke="#d2d2d2" stroke-width="0.7" />
<line x1="875" y1="286.2" x2="869.6" y2="287.9" stroke="#d2d2d2" stroke-width="0.7" />
<line x1="878.2" y1="302" x2="873.1" y2="304.5" stroke="#d2d2d2" stroke-width="0.7" />
<rect x="838.9" y="249.9" width="1.7" height="8.4" rx="0.8" transform="rotate(60.8 839.7 254.1)" fill="#c8c8c8" stroke="#333" stroke-width="0.8"/>
<ellipse cx="844" cy="251.7" rx="2.1" ry="1.6" transform="rotate(60.8 844 251.7)" fill="#1e1e1e"/>
<rect x="734.2" y="181.2" width="3.6" height="8.6" rx="0.8" transform="rotate(-4.6 736 185.5)" fill="#7a7a7a" stroke="#1e1e1e" stroke-width="1"/>
<line x1="735.6" y1="189.4" x2="735" y2="181.7" stroke="#d4d4d4" stroke-width="0.6" />
<line x1="737" y1="189.3" x2="736.4" y2="181.6" stroke="#d4d4d4" stroke-width="0.6" />
<rect x="885.4" y="299.8" width="6.4" height="9.6" rx="0.8" transform="rotate(-24 888.6 304.6)" fill="#f0f0f0" stroke="#333" stroke-width="1"/>
<rect x="886.5" y="300.4" width="1.4" height="9.6" rx="0.8" transform="rotate(-24 887.2 305.2)" fill="#bbb" stroke="#333" stroke-width="0.8"/>
<ellipse cx="891.4" cy="303.4" rx="1.6" ry="4.2" transform="rotate(-24 891.4 303.4)" stroke="#333" stroke-width="0.9" fill="#ddd"/>
<rect x="808.9" y="224.3" width="5" height="8.6" rx="0.8" transform="rotate(38 811.4 228.6)" fill="#f4f4f4" stroke="#333" stroke-width="0.9"/>
<circle cx="805.4" cy="222.2" r="1.7" fill="#333"/>
<circle cx="814.3" cy="222.8" r="1.7" fill="#333"/>
<circle cx="817" cy="231.2" r="1.7" fill="#333"/>
<line x1="811.5" y1="228.5" x2="814.3" y2="223" stroke="#333" stroke-width="1.2" />
<path d="M679.5 274.5 L678.4 274.6 L676.9 274.8 L675.2 275.1 L673.5 275.5 L672 276 L670.4 276.9 L668.9 278.1 L667.6 279.5 L666.5 281 L665.7 282.3 L665.1 283.7 L664.5 285.2 L664.1 286.8 L663.8 288.5 L663.7 290 L663.6 291.7 L663.6 293.5 L663.7 295.2 L663.9 296.9 L664.2 298.5 L664.8 300.3 L665.7 301.9 L666.6 303.5 L667.4 305.1 L667.8 306.5 L667.7 308.3 L667.2 309.9 L666.4 311.4 L665.5 312.4 L664 312.9 L662.2 312.8 L660.5 312.4 L658.7 311.6 L657 310.6 L655.8 309.8" stroke="#666" stroke-width="6.4" fill="none" stroke-linejoin="round"/>
<path d="M679.5 274.5 L678.4 274.6 L676.9 274.8 L675.2 275.1 L673.5 275.5 L672 276 L670.4 276.9 L668.9 278.1 L667.6 279.5 L666.5 281 L665.7 282.3 L665.1 283.7 L664.5 285.2 L664.1 286.8 L663.8 288.5 L663.7 290 L663.6 291.7 L663.6 293.5 L663.7 295.2 L663.9 296.9 L664.2 298.5 L664.8 300.3 L665.7 301.9 L666.6 303.5 L667.4 305.1 L667.8 306.5 L667.7 308.3 L667.2 309.9 L666.4 311.4 L665.5 312.4 L664 312.9 L662.2 312.8 L660.5 312.4 L658.7 311.6 L657 310.6 L655.8 309.8" stroke="#fff" stroke-width="4.7" fill="none" stroke-linejoin="round"/>
<line x1="670.5" y1="279.9" x2="667.4" y2="276.4" stroke="#d2d2d2" stroke-width="0.7" />
<line x1="665.9" y1="291.8" x2="661.2" y2="291.7" stroke="#d2d2d2" stroke-width="0.7" />
<line x1="670.1" y1="306.3" x2="665.5" y2="306.7" stroke="#d2d2d2" stroke-width="0.7" />
<rect x="654" y="306" width="3.6" height="7.6" rx="0.8" transform="rotate(-148.1 655.8 309.8)" fill="#7a7a7a" stroke="#1e1e1e" stroke-width="1"/>
<line x1="658.2" y1="307.3" x2="654.6" y2="313.1" stroke="#d4d4d4" stroke-width="0.6" />
<line x1="657" y1="306.5" x2="653.4" y2="312.3" stroke="#d4d4d4" stroke-width="0.6" />
<path d="M625.6 249.9 L626.6 249.4 L628 248.6 L629.6 247.8 L631.4 247 L633.3 246.4 L634.7 246.1 L636.3 245.8 L638 245.5 L639.7 245.4 L641.3 245.3 L642.9 245.5 L644.4 245.8 L645.7 246.4 L647 247.3 L648.2 248.3 L649.4 249.4 L650.5 250.6 L651.6 251.7 L652.7 252.7 L654 253.7 L655.2 254.7 L656.4 255.6 L657.6 256.6 L658.8 257.5 L660 258.4 L661.3 259.3 L662.6 260.2 L664 261.1 L665.3 262 L666.7 262.9 L668 263.8 L669.3 264.7 L670.7 265.7 L672 266.7 L673.3 267.6 L674.7 268.6 L676 269.5 L677.3 270.4 L678.7 271.3 L680 272.2 L681.3 273.1 L682.7 274 L684 274.8 L685.3 275.6 L686.5 276.3 L687.7 277.1 L689 277.8 L690.4 278.6 L692 279.5 L693.1 280.1 L694.3 280.8 L695.5 281.5 L696.7 282.1 L698 282.9 L699.4 283.6 L700.8 284.4 L702.4 285.3 L704.1 286.2 L705.3 286.8 L706.5 287.5 L707.9 288.2 L709.3 288.9 L710.7 289.7 L712.2 290.4 L713.7 291.2 L715.2 292 L716.6 292.8 L718.1 293.5 L719.6 294.3 L721 295 L722.3 295.7 L723.6 296.4 L725.2 297.2 L726.7 298 L728.2 298.8 L729.7 299.5 L731.1 300.3 L732.5 301 L733.9 301.7 L735.2 302.4 L736.4 303.2 L737.6 303.9 L738.8 304.6 L740.3 305.6 L741.7 306.6 L743 307.6 L744.2 308.6 L745.4 309.6 L746.5 310.5 L747.6 311.5 L748.6 312.4 L750 313.7 L751.4 315 L752.7 316.3 L753.8 317.5 L754.8 318.6 L755.5 319.3" stroke="#666" stroke-width="6.6" fill="none" stroke-linejoin="round"/>
<path d="M625.6 249.9 L626.6 249.4 L628 248.6 L629.6 247.8 L631.4 247 L633.3 246.4 L634.7 246.1 L636.3 245.8 L638 245.5 L639.7 245.4 L641.3 245.3 L642.9 245.5 L644.4 245.8 L645.7 246.4 L647 247.3 L648.2 248.3 L649.4 249.4 L650.5 250.6 L651.6 251.7 L652.7 252.7 L654 253.7 L655.2 254.7 L656.4 255.6 L657.6 256.6 L658.8 257.5 L660 258.4 L661.3 259.3 L662.6 260.2 L664 261.1 L665.3 262 L666.7 262.9 L668 263.8 L669.3 264.7 L670.7 265.7 L672 266.7 L673.3 267.6 L674.7 268.6 L676 269.5 L677.3 270.4 L678.7 271.3 L680 272.2 L681.3 273.1 L682.7 274 L684 274.8 L685.3 275.6 L686.5 276.3 L687.7 277.1 L689 277.8 L690.4 278.6 L692 279.5 L693.1 280.1 L694.3 280.8 L695.5 281.5 L696.7 282.1 L698 282.9 L699.4 283.6 L700.8 284.4 L702.4 285.3 L704.1 286.2 L705.3 286.8 L706.5 287.5 L707.9 288.2 L709.3 288.9 L710.7 289.7 L712.2 290.4 L713.7 291.2 L715.2 292 L716.6 292.8 L718.1 293.5 L719.6 294.3 L721 295 L722.3 295.7 L723.6 296.4 L725.2 297.2 L726.7 298 L728.2 298.8 L729.7 299.5 L731.1 300.3 L732.5 301 L733.9 301.7 L735.2 302.4 L736.4 303.2 L737.6 303.9 L738.8 304.6 L740.3 305.6 L741.7 306.6 L743 307.6 L744.2 308.6 L745.4 309.6 L746.5 310.5 L747.6 311.5 L748.6 312.4 L750 313.7 L751.4 315 L752.7 316.3 L753.8 317.5 L754.8 318.6 L755.5 319.3" stroke="#fff" stroke-width="4.9" fill="none" stroke-linejoin="round"/>
<line x1="635.9" y1="243.4" x2="636.7" y2="248.2" stroke="#d2d2d2" stroke-width="0.7" />
<line x1="652.2" y1="248.8" x2="648.8" y2="252.3" stroke="#d2d2d2" stroke-width="0.7" />
<line x1="662.7" y1="257.3" x2="659.9" y2="261.3" stroke="#d2d2d2" stroke-width="0.7" />
<line x1="676.1" y1="266.6" x2="673.3" y2="270.6" stroke="#d2d2d2" stroke-width="0.7" />
<line x1="687.8" y1="274.2" x2="685.3" y2="278.4" stroke="#d2d2d2" stroke-width="0.7" />
<line x1="700.5" y1="281.5" x2="698.2" y2="285.8" stroke="#d2d2d2" stroke-width="0.7" />
<line x1="714.8" y1="289" x2="712.5" y2="293.4" stroke="#d2d2d2" stroke-width="0.7" />
<line x1="727.8" y1="295.8" x2="725.6" y2="300.2" stroke="#d2d2d2" stroke-width="0.7" />
<line x1="740.1" y1="302.5" x2="737.5" y2="306.7" stroke="#d2d2d2" stroke-width="0.7" />
<line x1="753.1" y1="313.3" x2="749.7" y2="316.8" stroke="#d2d2d2" stroke-width="0.7" />
<line x1="757.9" y1="317" x2="753.1" y2="321.6" stroke="#3c3c3c" stroke-width="0.8" />
<ellipse cx="681.6" cy="273.4" rx="3.6" ry="5.4" transform="rotate(33 681.6 273.4)" stroke="#444" stroke-width="0.9" fill="#fff"/>
<ellipse cx="677.6" cy="270.6" rx="1.8" ry="4.6" transform="rotate(33 677.6 270.6)" stroke="#444" stroke-width="1" fill="#f6f6f6"/>
<ellipse cx="685.8" cy="275.6" rx="1.6" ry="4.6" transform="rotate(33 685.8 275.6)" stroke="#222" stroke-width="1.3" fill="#777"/>
<rect x="687.7" y="274.5" width="5.4" height="7.8" rx="0.8" transform="rotate(31 690.4 278.4)" fill="#fff" stroke="#555" stroke-width="0.8"/>
<line x1="677.6" y1="278.4" x2="681.6" y2="279.6" stroke="#333" stroke-width="1.2" />
<ellipse cx="625.4" cy="250.2" rx="2.4" ry="3.6" transform="rotate(-22 625.4 250.2)" stroke="#2a2a2a" stroke-width="1.2" fill="#ccc"/>
<ellipse cx="625.7" cy="250.1" rx="1.1" ry="2.2" transform="rotate(-22 625.7 250.1)" stroke="#555" stroke-width="0.8" fill="#f4f4f4"/>
<rect x="751.9" y="312.7" width="1.4" height="7.4" rx="0.8" transform="rotate(45 752.6 316.4)" fill="#eee" stroke="#555" stroke-width="0.8"/>
<line x1="755" y1="321.6" x2="757.6" y2="318.8" stroke="#444" stroke-width="0.9" />
<path d="M843.3 307.6 L856.9 307.8 L857.3 311.4 L844.5 315 Z" stroke="#444" stroke-width="0.9" fill="#fff" stroke-linejoin="round" />
<line x1="850.5" y1="307.6" x2="851" y2="313.2" stroke="#666" stroke-width="0.8" />
<line x1="853.6" y1="307.7" x2="854" y2="312.3" stroke="#666" stroke-width="0.8" />
<path d="M788.8 260.2 L789.7 261.1 L791 262.3 L792.5 263.8 L793.9 265.5 L794.8 266.7 L795.7 268 L796.6 269.3 L797.5 270.7 L798.5 272.2 L799.6 273.7 L800.5 274.9 L801.3 276.2 L802.2 277.5 L803.1 278.8 L804.1 280.1 L805.2 281.4 L806.4 282.5 L807.8 283.5 L809 284.2 L810.4 284.8 L811.8 285.3 L813.4 285.7 L814.9 286.2 L816.5 286.6 L818.1 287 L819.7 287.4 L821.1 287.9 L822.5 288.4 L824.1 289.1 L825.7 289.9 L827.3 290.7 L828.8 291.5 L830.2 292.3 L831.6 293.2 L832.8 294.1 L834 295 L835.5 296.2 L836.8 297.5 L838 298.8 L839 300.2 L839.9 301.6 L840.5 303.1 L840.9 304.7 L841 306.4 L840.9 308.2 L840.7 309.9 L840.4 311.5 L840 313 L839.3 314.6 L838.3 316.2 L837.2 317.5 L836.3 318.7 L835.6 319.5" stroke="#666" stroke-width="7" fill="none" stroke-linejoin="round"/>
<path d="M788.8 260.2 L789.7 261.1 L791 262.3 L792.5 263.8 L793.9 265.5 L794.8 266.7 L795.7 268 L796.6 269.3 L797.5 270.7 L798.5 272.2 L799.6 273.7 L800.5 274.9 L801.3 276.2 L802.2 277.5 L803.1 278.8 L804.1 280.1 L805.2 281.4 L806.4 282.5 L807.8 283.5 L809 284.2 L810.4 284.8 L811.8 285.3 L813.4 285.7 L814.9 286.2 L816.5 286.6 L818.1 287 L819.7 287.4 L821.1 287.9 L822.5 288.4 L824.1 289.1 L825.7 289.9 L827.3 290.7 L828.8 291.5 L830.2 292.3 L831.6 293.2 L832.8 294.1 L834 295 L835.5 296.2 L836.8 297.5 L838 298.8 L839 300.2 L839.9 301.6 L840.5 303.1 L840.9 304.7 L841 306.4 L840.9 308.2 L840.7 309.9 L840.4 311.5 L840 313 L839.3 314.6 L838.3 316.2 L837.2 317.5 L836.3 318.7 L835.6 319.5" stroke="#fff" stroke-width="5.3" fill="none" stroke-linejoin="round"/>
<line x1="798.8" y1="267.8" x2="794.4" y2="270.8" stroke="#d2d2d2" stroke-width="0.7" />
<line x1="807.1" y1="279.5" x2="803.4" y2="283.2" stroke="#d2d2d2" stroke-width="0.7" />
<line x1="820.4" y1="284.9" x2="818.9" y2="289.9" stroke="#d2d2d2" stroke-width="0.7" />
<line x1="834.4" y1="292" x2="831.2" y2="296.2" stroke="#d2d2d2" stroke-width="0.7" />
<line x1="843.5" y1="304.3" x2="838.3" y2="305.1" stroke="#d2d2d2" stroke-width="0.7" />
<line x1="838.3" y1="321.7" x2="832.9" y2="317.3" stroke="#3c3c3c" stroke-width="0.8" />
<ellipse cx="788.2" cy="259.8" rx="3" ry="4.2" transform="rotate(-35 788.2 259.8)" stroke="#2a2a2a" stroke-width="1.3" fill="#bbb"/>
<ellipse cx="788.6" cy="260.2" rx="1.5" ry="2.5" transform="rotate(-35 788.6 260.2)" stroke="#444" stroke-width="0.8" fill="#eee"/>
<path d="M832.2 318.6 Q835.5 323.5 838.8 320.4" stroke="#555" stroke-width="0.9" fill="none" />
<circle cx="842.6" cy="306.4" r="1.9" fill="#1a1a1a"/>
<rect x="800.4" y="270.4" width="1.6" height="8.4" rx="0.8" transform="rotate(58 801.2 274.6)" fill="#ccc" stroke="#333" stroke-width="0.8"/>
<circle cx="805.6" cy="271.8" r="2.1" fill="#555" stroke="#222" stroke-width="0.8"/>
<path d="M907.6 294.7 L908.4 294.2 L909.4 293.7 L910.5 293 L911.8 292.2 L913.3 291.4 L914.8 290.5 L916.5 289.5 L918.2 288.6 L920 287.6 L921.1 287 L922.3 286.3 L923.6 285.7 L924.9 285 L926.3 284.2 L927.7 283.5 L929.1 282.7 L930.6 282 L932 281.2 L933.4 280.5 L934.8 279.7 L936.2 279 L937.5 278.3 L938.8 277.6 L940 277 L941.6 276.2 L943.1 275.4 L944.5 274.6 L945.9 273.8 L947.3 273.1 L948.6 272.3 L949.9 271.6 L951.2 270.9 L952.5 270.3 L953.8 269.6 L955.1 269 L956.6 268.3 L958.2 267.6 L959.8 267 L961.5 266.3 L963.1 265.7 L964.6 265.1 L966 264.6 L967.3 264.1 L968.4 263.7 L969.2 263.4" stroke="#666" stroke-width="6.9" fill="none" stroke-linejoin="round"/>
<path d="M907.6 294.7 L908.4 294.2 L909.4 293.7 L910.5 293 L911.8 292.2 L913.3 291.4 L914.8 290.5 L916.5 289.5 L918.2 288.6 L920 287.6 L921.1 287 L922.3 286.3 L923.6 285.7 L924.9 285 L926.3 284.2 L927.7 283.5 L929.1 282.7 L930.6 282 L932 281.2 L933.4 280.5 L934.8 279.7 L936.2 279 L937.5 278.3 L938.8 277.6 L940 277 L941.6 276.2 L943.1 275.4 L944.5 274.6 L945.9 273.8 L947.3 273.1 L948.6 272.3 L949.9 271.6 L951.2 270.9 L952.5 270.3 L953.8 269.6 L955.1 269 L956.6 268.3 L958.2 267.6 L959.8 267 L961.5 266.3 L963.1 265.7 L964.6 265.1 L966 264.6 L967.3 264.1 L968.4 263.7 L969.2 263.4" stroke="#fff" stroke-width="5.2" fill="none" stroke-linejoin="round"/>
<path d="M900.6 287.6 L901.4 287.2 L902.4 286.6 L903.5 286 L904.8 285.3 L906.2 284.6 L907.7 283.8 L909.3 282.9 L910.9 282 L912.5 281.2 L914.1 280.3 L915.7 279.5 L917.2 278.7 L918.7 277.9 L920 277.2 L921.6 276.4 L923.1 275.6 L924.6 274.8 L926.1 274 L927.5 273.3 L928.9 272.5 L930.4 271.8 L931.8 271.1 L933.2 270.4 L934.6 269.7 L936 269 L937.4 268.3 L938.8 267.6 L940.2 267 L941.6 266.3 L943 265.7 L944.4 265 L945.8 264.4 L947.2 263.8 L948.6 263.2 L950.1 262.6 L951.6 262 L953.1 261.5 L954.6 260.9 L956.3 260.3 L958 259.7 L959.7 259.2 L961.4 258.6 L963 258.1 L964.6 257.6 L966 257.1 L967.3 256.7 L968.3 256.4 L969.2 256.1" stroke="#666" stroke-width="6.9" fill="none" stroke-linejoin="round"/>
<path d="M900.6 287.6 L901.4 287.2 L902.4 286.6 L903.5 286 L904.8 285.3 L906.2 284.6 L907.7 283.8 L909.3 282.9 L910.9 282 L912.5 281.2 L914.1 280.3 L915.7 279.5 L917.2 278.7 L918.7 277.9 L920 277.2 L921.6 276.4 L923.1 275.6 L924.6 274.8 L926.1 274 L927.5 273.3 L928.9 272.5 L930.4 271.8 L931.8 271.1 L933.2 270.4 L934.6 269.7 L936 269 L937.4 268.3 L938.8 267.6 L940.2 267 L941.6 266.3 L943 265.7 L944.4 265 L945.8 264.4 L947.2 263.8 L948.6 263.2 L950.1 262.6 L951.6 262 L953.1 261.5 L954.6 260.9 L956.3 260.3 L958 259.7 L959.7 259.2 L961.4 258.6 L963 258.1 L964.6 257.6 L966 257.1 L967.3 256.7 L968.3 256.4 L969.2 256.1" stroke="#fff" stroke-width="5.2" fill="none" stroke-linejoin="round"/>
<path d="M962 267.1 L963.3 266.4 L964.7 265.7 L966 265 L967.4 264.3 L968.7 263.6 L970.1 263 L971.4 262.3 L972.8 261.6 L974.1 260.9 L975.5 260.2 L976.8 259.5 L978.2 258.8 L979.5 258.1 L980.9 257.4 L982.2 256.7 L983.6 256.1 L984.9 255.4 L986.3 254.7 L987.6 254 L989 253.3 L990.3 252.6 L991.7 251.9 L993 251.2 L994.3 250.5 L995.7 249.8 L997 249.2 L998.4 248.5 L999.7 247.8 L1001.1 247.1 L1002.4 246.4 L1003.8 245.7 L1005.1 245 L1006.5 244.3 L1007.8 243.6 L1009.2 242.9 L1010.5 242.3 L1011.9 241.6 L1013.2 240.9 L1014.6 240.2 L1015.9 239.5 L1017.3 238.8 L1018.6 238.1 L1020 237.4 L1021.3 236.7 L1022.7 236 L1024 235.4 L1025.3 234.7 L1026.7 234 L1028 233.3 L1029.4 232.6 L1030.7 231.9 L1032.1 231.2 L1033.4 230.5 L1034.8 229.8 L1036.1 229.1 L1037.5 228.4 L1038.8 227.8 L1040.2 227.1 L1041.5 226.4 L1042.9 225.7 L1044.2 225 L1045.6 224.3 L1046.9 223.6 L1048.3 222.9 L1049.6 222.2 L1051 221.5 L1052.3 220.9 L1053.7 220.2 L1055 219.5 L1056.3 218.8 L1057.7 218.1 L1059 217.4 L1060.4 216.7 L1061.7 216 L1063.1 215.3 L1064.4 214.6 L1065.8 214 L1067.1 213.3 L1068.5 212.6 L1069.8 211.9 L1071.2 211.2 L1072.5 210.5 L1073.9 209.8 L1075.2 209.1 L1076.6 208.4 L1077.9 207.7 L1079.3 207.1 L1080.6 206.4 L1082 205.7 L1083.3 205 L1084.7 204.3 L1086 203.6" stroke="#666" stroke-width="6.7" fill="none" stroke-linejoin="round"/>
<path d="M962 267.1 L963.3 266.4 L964.7 265.7 L966 265 L967.4 264.3 L968.7 263.6 L970.1 263 L971.4 262.3 L972.8 261.6 L974.1 260.9 L975.5 260.2 L976.8 259.5 L978.2 258.8 L979.5 258.1 L980.9 257.4 L982.2 256.7 L983.6 256.1 L984.9 255.4 L986.3 254.7 L987.6 254 L989 253.3 L990.3 252.6 L991.7 251.9 L993 251.2 L994.3 250.5 L995.7 249.8 L997 249.2 L998.4 248.5 L999.7 247.8 L1001.1 247.1 L1002.4 246.4 L1003.8 245.7 L1005.1 245 L1006.5 244.3 L1007.8 243.6 L1009.2 242.9 L1010.5 242.3 L1011.9 241.6 L1013.2 240.9 L1014.6 240.2 L1015.9 239.5 L1017.3 238.8 L1018.6 238.1 L1020 237.4 L1021.3 236.7 L1022.7 236 L1024 235.4 L1025.3 234.7 L1026.7 234 L1028 233.3 L1029.4 232.6 L1030.7 231.9 L1032.1 231.2 L1033.4 230.5 L1034.8 229.8 L1036.1 229.1 L1037.5 228.4 L1038.8 227.8 L1040.2 227.1 L1041.5 226.4 L1042.9 225.7 L1044.2 225 L1045.6 224.3 L1046.9 223.6 L1048.3 222.9 L1049.6 222.2 L1051 221.5 L1052.3 220.9 L1053.7 220.2 L1055 219.5 L1056.3 218.8 L1057.7 218.1 L1059 217.4 L1060.4 216.7 L1061.7 216 L1063.1 215.3 L1064.4 214.6 L1065.8 214 L1067.1 213.3 L1068.5 212.6 L1069.8 211.9 L1071.2 211.2 L1072.5 210.5 L1073.9 209.8 L1075.2 209.1 L1076.6 208.4 L1077.9 207.7 L1079.3 207.1 L1080.6 206.4 L1082 205.7 L1083.3 205 L1084.7 204.3 L1086 203.6" stroke="#fff" stroke-width="5.1" fill="none" stroke-linejoin="round"/>
<path d="M958 261.8 L959.3 261.1 L960.7 260.4 L962 259.7 L963.4 259.1 L964.7 258.4 L966.1 257.7 L967.4 257 L968.8 256.3 L970.1 255.6 L971.5 255 L972.8 254.3 L974.2 253.6 L975.5 252.9 L976.9 252.2 L978.2 251.5 L979.6 250.9 L980.9 250.2 L982.3 249.5 L983.6 248.8 L984.9 248.1 L986.3 247.4 L987.6 246.7 L989 246.1 L990.3 245.4 L991.7 244.7 L993 244 L994.4 243.3 L995.7 242.6 L997.1 242 L998.4 241.3 L999.8 240.6 L1001.1 239.9 L1002.5 239.2 L1003.8 238.5 L1005.2 237.9 L1006.5 237.2 L1007.9 236.5 L1009.2 235.8 L1010.5 235.1 L1011.9 234.4 L1013.2 233.7 L1014.6 233.1 L1015.9 232.4 L1017.3 231.7 L1018.6 231 L1020 230.3 L1021.3 229.6 L1022.7 229 L1024 228.3 L1025.4 227.6 L1026.7 226.9 L1028.1 226.2 L1029.4 225.5 L1030.8 224.9 L1032.1 224.2 L1033.5 223.5 L1034.8 222.8 L1036.1 222.1 L1037.5 221.4 L1038.8 220.7 L1040.2 220.1 L1041.5 219.4 L1042.9 218.7 L1044.2 218 L1045.6 217.3 L1046.9 216.6 L1048.3 216 L1049.6 215.3 L1051 214.6 L1052.3 213.9 L1053.7 213.2 L1055 212.5 L1056.4 211.9 L1057.7 211.2 L1059.1 210.5 L1060.4 209.8 L1061.7 209.1 L1063.1 208.4 L1064.4 207.7 L1065.8 207.1 L1067.1 206.4 L1068.5 205.7 L1069.8 205 L1071.2 204.3 L1072.5 203.6 L1073.9 203 L1075.2 202.3 L1076.6 201.6 L1077.9 200.9 L1079.3 200.2 L1080.6 199.5 L1082 198.9 L1083.3 198.2 L1084.7 197.5 L1086 196.8" stroke="#666" stroke-width="6.7" fill="none" stroke-linejoin="round"/>
<path d="M958 261.8 L959.3 261.1 L960.7 260.4 L962 259.7 L963.4 259.1 L964.7 258.4 L966.1 257.7 L967.4 257 L968.8 256.3 L970.1 255.6 L971.5 255 L972.8 254.3 L974.2 253.6 L975.5 252.9 L976.9 252.2 L978.2 251.5 L979.6 250.9 L980.9 250.2 L982.3 249.5 L983.6 248.8 L984.9 248.1 L986.3 247.4 L987.6 246.7 L989 246.1 L990.3 245.4 L991.7 244.7 L993 244 L994.4 243.3 L995.7 242.6 L997.1 242 L998.4 241.3 L999.8 240.6 L1001.1 239.9 L1002.5 239.2 L1003.8 238.5 L1005.2 237.9 L1006.5 237.2 L1007.9 236.5 L1009.2 235.8 L1010.5 235.1 L1011.9 234.4 L1013.2 233.7 L1014.6 233.1 L1015.9 232.4 L1017.3 231.7 L1018.6 231 L1020 230.3 L1021.3 229.6 L1022.7 229 L1024 228.3 L1025.4 227.6 L1026.7 226.9 L1028.1 226.2 L1029.4 225.5 L1030.8 224.9 L1032.1 224.2 L1033.5 223.5 L1034.8 222.8 L1036.1 222.1 L1037.5 221.4 L1038.8 220.7 L1040.2 220.1 L1041.5 219.4 L1042.9 218.7 L1044.2 218 L1045.6 217.3 L1046.9 216.6 L1048.3 216 L1049.6 215.3 L1051 214.6 L1052.3 213.9 L1053.7 213.2 L1055 212.5 L1056.4 211.9 L1057.7 211.2 L1059.1 210.5 L1060.4 209.8 L1061.7 209.1 L1063.1 208.4 L1064.4 207.7 L1065.8 207.1 L1067.1 206.4 L1068.5 205.7 L1069.8 205 L1071.2 204.3 L1072.5 203.6 L1073.9 203 L1075.2 202.3 L1076.6 201.6 L1077.9 200.9 L1079.3 200.2 L1080.6 199.5 L1082 198.9 L1083.3 198.2 L1084.7 197.5 L1086 196.8" stroke="#fff" stroke-width="5.1" fill="none" stroke-linejoin="round"/>
<rect x="931.8" y="267.1" width="1.5" height="7.4" rx="0.8" transform="rotate(-27 932.5 270.8)" fill="#ddd" stroke="#555" stroke-width="0.8"/>
<rect x="934.5" y="265.7" width="1.5" height="7.4" rx="0.8" transform="rotate(-27 935.2 269.4)" fill="#ddd" stroke="#555" stroke-width="0.8"/>
<rect x="939.5" y="273.2" width="1.5" height="7.4" rx="0.8" transform="rotate(-28 940.2 276.9)" fill="#ddd" stroke="#555" stroke-width="0.8"/>
<rect x="942.2" y="271.7" width="1.5" height="7.4" rx="0.8" transform="rotate(-28 943 275.4)" fill="#ddd" stroke="#555" stroke-width="0.8"/>
<rect x="956" y="255.4" width="7.2" height="18.5" rx="0.8" transform="rotate(-27 959.6 264.6)" fill="#fff" stroke="#444" stroke-width="0.9"/>
<ellipse cx="899.6" cy="287.6" rx="4.3" ry="5.6" transform="rotate(25 899.6 287.6)" stroke="#333" stroke-width="1.1" fill="#f0f0f0"/>
<ellipse cx="899.9" cy="287.8" rx="2.6" ry="3.8" transform="rotate(25 899.9 287.8)" stroke="#444" stroke-width="1" fill="#ddd"/>
<rect x="903.3" y="281.3" width="1.8" height="8.2" rx="0.8" transform="rotate(-27 904.2 285.4)" fill="#ddd" stroke="#444" stroke-width="0.8"/>
<ellipse cx="906.4" cy="295.3" rx="2.4" ry="3.2" transform="rotate(25 906.4 295.3)" stroke="#333" stroke-width="1" fill="#eee"/>
<rect x="909.7" y="289.4" width="1.8" height="7.2" rx="0.8" transform="rotate(-28 910.6 293)" fill="#ddd" stroke="#444" stroke-width="0.8"/>
<rect x="912.7" y="288" width="1.4" height="7" rx="0.8" transform="rotate(-28 913.4 291.5)" fill="#eee" stroke="#555" stroke-width="0.8"/>
<path d="M501 329.6 L500.4 328.6 L499.5 327.2 L498.5 325.6 L497.4 323.8 L496.5 322.1 L495.8 320.5 L495.2 318.6 L494.8 316.7 L494.5 314.9 L494.5 313.2 L494.8 311.8 L495.7 310.4 L497 309.3 L498.8 308.6 L501 308.4 L502.1 308.5 L503.4 308.8 L504.8 309.3 L506.3 309.8 L507.8 310.4 L509.3 311 L510.9 311.6 L512.4 312.2 L513.9 312.7 L515.4 313.2 L516.8 313.6 L518.3 314.1 L519.8 314.6 L521.3 315.1 L522.8 315.5 L524.2 315.9 L525.6 316.2 L526.9 316.4 L528.9 316.6 L530.8 316.6 L532.7 316.6 L534.4 316.4 L536 316.2 L537.3 316 L539.7 315.4 L541.1 314 L541.8 312.7 L542.4 311 L543.1 309.3 L544.2 307.6 L545.3 306.5 L546.7 305.4 L548.2 304.3 L549.8 303.3 L551.3 302.4 L552.8 301.7 L554.5 301.1 L556.1 300.7 L557.7 300.4 L559.2 300.4 L560.6 300.6 L562.1 301.3 L563.3 302.5 L564.5 303.8 L565.8 305 L567.3 306.1 L568.8 307.3 L570.5 308.3 L572.3 308.7 L573.6 308.6 L575.1 308.1 L576.6 307.5 L578.1 306.8 L579.7 306.1 L581.3 305.6 L583 305.3 L584.7 305 L586.4 304.8 L588.2 304.6 L590 304.4 L591.7 304.3 L593.5 304.2 L595.2 304.2 L597 304.2 L598.8 304.2 L600.5 304.3 L602.1 304.3 L604 304.3 L605.9 304.2 L607.7 304.2 L609.4 304.3 L610.8 304.6 L612.2 305.4 L613.4 306.5 L614.2 307.8 L614.8 309.2 L615 311 L614.8 313.2 L614.6 315.2 L614.4 316.6" stroke="#666" stroke-width="7.3" fill="none" stroke-linejoin="round"/>
<path d="M501 329.6 L500.4 328.6 L499.5 327.2 L498.5 325.6 L497.4 323.8 L496.5 322.1 L495.8 320.5 L495.2 318.6 L494.8 316.7 L494.5 314.9 L494.5 313.2 L494.8 311.8 L495.7 310.4 L497 309.3 L498.8 308.6 L501 308.4 L502.1 308.5 L503.4 308.8 L504.8 309.3 L506.3 309.8 L507.8 310.4 L509.3 311 L510.9 311.6 L512.4 312.2 L513.9 312.7 L515.4 313.2 L516.8 313.6 L518.3 314.1 L519.8 314.6 L521.3 315.1 L522.8 315.5 L524.2 315.9 L525.6 316.2 L526.9 316.4 L528.9 316.6 L530.8 316.6 L532.7 316.6 L534.4 316.4 L536 316.2 L537.3 316 L539.7 315.4 L541.1 314 L541.8 312.7 L542.4 311 L543.1 309.3 L544.2 307.6 L545.3 306.5 L546.7 305.4 L548.2 304.3 L549.8 303.3 L551.3 302.4 L552.8 301.7 L554.5 301.1 L556.1 300.7 L557.7 300.4 L559.2 300.4 L560.6 300.6 L562.1 301.3 L563.3 302.5 L564.5 303.8 L565.8 305 L567.3 306.1 L568.8 307.3 L570.5 308.3 L572.3 308.7 L573.6 308.6 L575.1 308.1 L576.6 307.5 L578.1 306.8 L579.7 306.1 L581.3 305.6 L583 305.3 L584.7 305 L586.4 304.8 L588.2 304.6 L590 304.4 L591.7 304.3 L593.5 304.2 L595.2 304.2 L597 304.2 L598.8 304.2 L600.5 304.3 L602.1 304.3 L604 304.3 L605.9 304.2 L607.7 304.2 L609.4 304.3 L610.8 304.6 L612.2 305.4 L613.4 306.5 L614.2 307.8 L614.8 309.2 L615 311 L614.8 313.2 L614.6 315.2 L614.4 316.6" stroke="#fff" stroke-width="5.6" fill="none" stroke-linejoin="round"/>
<line x1="492.5" y1="319.4" x2="497.9" y2="317.9" stroke="#d2d2d2" stroke-width="0.7" />
<line x1="500.8" y1="305.6" x2="501.2" y2="311.2" stroke="#d2d2d2" stroke-width="0.7" />
<line x1="516.2" y1="310.5" x2="514.5" y2="315.8" stroke="#d2d2d2" stroke-width="0.7" />
<line x1="529" y1="313.8" x2="528.7" y2="319.4" stroke="#d2d2d2" stroke-width="0.7" />
<line x1="539.8" y1="309.8" x2="544.9" y2="312.3" stroke="#d2d2d2" stroke-width="0.7" />
<line x1="551.7" y1="299.1" x2="553.9" y2="304.3" stroke="#d2d2d2" stroke-width="0.7" />
<line x1="567.6" y1="302.9" x2="564" y2="307.1" stroke="#d2d2d2" stroke-width="0.7" />
<line x1="578.8" y1="303.4" x2="580.6" y2="308.7" stroke="#d2d2d2" stroke-width="0.7" />
<line x1="595.2" y1="301.4" x2="595.3" y2="307" stroke="#d2d2d2" stroke-width="0.7" />
<line x1="609.9" y1="301.5" x2="608.9" y2="307" stroke="#d2d2d2" stroke-width="0.7" />
<rect x="540.2" y="309.9" width="1.7" height="8.3" rx="0.8" transform="rotate(-44.5 541.1 314)" fill="#c8c8c8" stroke="#333" stroke-width="0.8"/>
<ellipse cx="537.7" cy="310.5" rx="2.1" ry="1.6" transform="rotate(-44.5 537.7 310.5)" fill="#1e1e1e"/>
<rect x="499.2" y="325.4" width="3.6" height="8.5" rx="0.8" transform="rotate(-122.3 501 329.6)" fill="#7a7a7a" stroke="#1e1e1e" stroke-width="1"/>
<line x1="504.6" y1="328.1" x2="498.1" y2="332.3" stroke="#d4d4d4" stroke-width="0.6" />
<line x1="503.9" y1="326.9" x2="497.4" y2="331.1" stroke="#d4d4d4" stroke-width="0.6" />
<rect x="612.6" y="312.4" width="3.6" height="8.5" rx="0.8" transform="rotate(97.5 614.4 316.6)" fill="#7a7a7a" stroke="#1e1e1e" stroke-width="1"/>
<line x1="610.7" y1="315.4" x2="618.3" y2="316.4" stroke="#d4d4d4" stroke-width="0.6" />
<line x1="610.5" y1="316.8" x2="618.1" y2="317.8" stroke="#d4d4d4" stroke-width="0.6" />
<circle cx="566.6" cy="303.8" r="1.7" fill="#2a2a2a"/>
<circle cx="603" cy="308.4" r="1.8" fill="#2a2a2a"/>
<rect x="597.7" y="306.5" width="4.6" height="3" rx="0.8" transform="rotate(0 600 308)" fill="#ddd" stroke="#333" stroke-width="0.8"/>
<path d="M529.5 377.5 L529.7 378.4 L530.1 379.6 L530.5 381 L530.9 382.6 L531.1 384.4 L531.2 386.2 L531 388 L530.7 389.2 L530.3 390.4 L529.8 391.7 L529.2 393.1 L528.6 394.5 L527.9 395.9 L527.2 397.3 L526.4 398.7 L525.6 400.2 L524.8 401.6 L524 403 L523.2 404.3 L522.5 405.7 L521.6 407.2 L520.8 408.6 L520 410.1 L519.1 411.6 L518.1 413 L517.2 414.4 L516.2 415.7 L515.2 416.9 L514.1 418 L513 419 L511.8 419.9 L510.5 420.7 L509.1 421.3 L507.8 421.9 L506.3 422.3 L504.9 422.8 L503.4 423.2 L501.9 423.6 L500.3 424 L498.7 424.5 L497 425 L495.6 425.5 L494.2 425.9 L492.7 426.3 L491.2 426.8 L489.6 427.2 L488 427.7 L486.4 428.1 L484.8 428.6 L483.2 429.1 L481.7 429.6 L480.2 430.2 L478.7 430.7 L477.3 431.3 L476 432 L474.5 432.8 L473.1 433.6 L471.7 434.4 L470.3 435.3 L469 436.1 L467.7 437.1 L466.5 438 L465.4 439.1 L464.3 440.2 L463.3 441.4 L462.3 442.6 L461.5 444 L460.9 445.3 L460.3 446.8 L459.8 448.4 L459.4 450.2 L459 452 L458.6 453.9 L458.3 455.8 L458.1 457.6 L457.9 459.4 L457.7 461 L457.5 462.6 L457.3 463.9 L457.2 465.1 L457 466" stroke="#666" stroke-width="8.5" fill="none" stroke-linejoin="round"/>
<path d="M529.5 377.5 L529.7 378.4 L530.1 379.6 L530.5 381 L530.9 382.6 L531.1 384.4 L531.2 386.2 L531 388 L530.7 389.2 L530.3 390.4 L529.8 391.7 L529.2 393.1 L528.6 394.5 L527.9 395.9 L527.2 397.3 L526.4 398.7 L525.6 400.2 L524.8 401.6 L524 403 L523.2 404.3 L522.5 405.7 L521.6 407.2 L520.8 408.6 L520 410.1 L519.1 411.6 L518.1 413 L517.2 414.4 L516.2 415.7 L515.2 416.9 L514.1 418 L513 419 L511.8 419.9 L510.5 420.7 L509.1 421.3 L507.8 421.9 L506.3 422.3 L504.9 422.8 L503.4 423.2 L501.9 423.6 L500.3 424 L498.7 424.5 L497 425 L495.6 425.5 L494.2 425.9 L492.7 426.3 L491.2 426.8 L489.6 427.2 L488 427.7 L486.4 428.1 L484.8 428.6 L483.2 429.1 L481.7 429.6 L480.2 430.2 L478.7 430.7 L477.3 431.3 L476 432 L474.5 432.8 L473.1 433.6 L471.7 434.4 L470.3 435.3 L469 436.1 L467.7 437.1 L466.5 438 L465.4 439.1 L464.3 440.2 L463.3 441.4 L462.3 442.6 L461.5 444 L460.9 445.3 L460.3 446.8 L459.8 448.4 L459.4 450.2 L459 452 L458.6 453.9 L458.3 455.8 L458.1 457.6 L457.9 459.4 L457.7 461 L457.5 462.6 L457.3 463.9 L457.2 465.1 L457 466" stroke="#fff" stroke-width="6.8" fill="none" stroke-linejoin="round"/>
<line x1="534" y1="390" x2="527.4" y2="388.4" stroke="#d2d2d2" stroke-width="0.7" />
<line x1="527" y1="404.7" x2="521" y2="401.3" stroke="#d2d2d2" stroke-width="0.7" />
<line x1="518.8" y1="417.8" x2="513.5" y2="413.5" stroke="#d2d2d2" stroke-width="0.7" />
<line x1="504.3" y1="426.4" x2="502.5" y2="419.9" stroke="#d2d2d2" stroke-width="0.7" />
<line x1="490.5" y1="430.5" x2="488.7" y2="423.9" stroke="#d2d2d2" stroke-width="0.7" />
<line x1="477.5" y1="435" x2="474.5" y2="429" stroke="#d2d2d2" stroke-width="0.7" />
<line x1="465.9" y1="443.5" x2="460.6" y2="439.3" stroke="#d2d2d2" stroke-width="0.7" />
<line x1="461.7" y1="456.3" x2="455" y2="455.2" stroke="#d2d2d2" stroke-width="0.7" />
<rect x="509.6" y="415.9" width="1.7" height="9.5" rx="0.8" transform="rotate(151.2 510.5 420.7)" fill="#c8c8c8" stroke="#333" stroke-width="0.8"/>
<ellipse cx="507.8" cy="415.9" rx="2.1" ry="1.6" transform="rotate(151.2 507.8 415.9)" fill="#1e1e1e"/>
<rect x="527.7" y="372.6" width="3.6" height="9.7" rx="0.8" transform="rotate(74.9 529.5 377.5)" fill="#7a7a7a" stroke="#1e1e1e" stroke-width="1"/>
<line x1="525" y1="378" x2="533.6" y2="375.7" stroke="#d4d4d4" stroke-width="0.6" />
<line x1="525.4" y1="379.3" x2="534" y2="377" stroke="#d4d4d4" stroke-width="0.6" />
<rect x="455.2" y="461.1" width="3.6" height="9.7" rx="0.8" transform="rotate(98.7 457 466)" fill="#7a7a7a" stroke="#1e1e1e" stroke-width="1"/>
<line x1="452.7" y1="464.6" x2="461.5" y2="466" stroke="#d4d4d4" stroke-width="0.6" />
<line x1="452.5" y1="466" x2="461.3" y2="467.4" stroke="#d4d4d4" stroke-width="0.6" />
<path d="M647.8 333 L647.7 331.9 L647.6 330.4 L647.4 328.7 L647.5 326.9 L647.8 325.5 L648.6 323.9 L649.8 322.5 L651.2 321.3 L652.7 320.8 L654 320.9 L655.5 321.3 L657 322.1 L658.3 323.2 L659.4 324.5 L660 325.7 L660.4 327 L660.7 328.6 L660.9 330.2 L661.1 331.9 L661.3 333.6 L661.5 335.3 L661.7 336.9 L661.8 338.6 L661.8 340.3 L661.9 342 L662 343.7 L662.2 345.4 L662.5 347.1 L662.9 348.6 L663.4 350.1 L664 351.6 L664.7 353.1 L665.4 354.6 L666.1 356.1 L666.8 357.5 L667.4 358.9 L668.1 360.4 L668.8 361.7 L669.4 363 L670.1 364.3 L670.8 365.7 L671.6 367.1 L672.4 368.7 L673 369.9 L673.6 371.2 L674.3 372.5 L674.9 373.9 L675.6 375.4 L676.3 376.8 L677 378.2 L677.7 379.7 L678.5 381.1 L679.2 382.5 L680 383.9 L680.8 385.3 L681.6 386.7 L682.4 388.1 L683.3 389.5 L684.1 390.9 L684.9 392.2 L685.7 393.6 L686.4 394.9 L687.1 396.2 L687.9 397.8 L688.5 399.3 L689.2 400.9 L689.7 402.3 L690.3 403.8 L690.8 405.2 L691.4 406.6 L692 408 L692.7 409.5 L693.3 411 L693.9 412.4 L694.6 413.8 L695.3 415.2 L696 416.5 L696.9 417.8 L697.9 419 L699.1 420.2 L700.3 421.3 L701.6 422.4 L702.8 423.5 L703.9 424.6 L704.8 425.7 L705.7 427.3 L706.4 429 L707 430.7 L707.4 432.2 L707.7 433.6 L708 435.6 L708 437.3 L708 438.5" stroke="#666" stroke-width="7" fill="none" stroke-linejoin="round"/>
<path d="M647.8 333 L647.7 331.9 L647.6 330.4 L647.4 328.7 L647.5 326.9 L647.8 325.5 L648.6 323.9 L649.8 322.5 L651.2 321.3 L652.7 320.8 L654 320.9 L655.5 321.3 L657 322.1 L658.3 323.2 L659.4 324.5 L660 325.7 L660.4 327 L660.7 328.6 L660.9 330.2 L661.1 331.9 L661.3 333.6 L661.5 335.3 L661.7 336.9 L661.8 338.6 L661.8 340.3 L661.9 342 L662 343.7 L662.2 345.4 L662.5 347.1 L662.9 348.6 L663.4 350.1 L664 351.6 L664.7 353.1 L665.4 354.6 L666.1 356.1 L666.8 357.5 L667.4 358.9 L668.1 360.4 L668.8 361.7 L669.4 363 L670.1 364.3 L670.8 365.7 L671.6 367.1 L672.4 368.7 L673 369.9 L673.6 371.2 L674.3 372.5 L674.9 373.9 L675.6 375.4 L676.3 376.8 L677 378.2 L677.7 379.7 L678.5 381.1 L679.2 382.5 L680 383.9 L680.8 385.3 L681.6 386.7 L682.4 388.1 L683.3 389.5 L684.1 390.9 L684.9 392.2 L685.7 393.6 L686.4 394.9 L687.1 396.2 L687.9 397.8 L688.5 399.3 L689.2 400.9 L689.7 402.3 L690.3 403.8 L690.8 405.2 L691.4 406.6 L692 408 L692.7 409.5 L693.3 411 L693.9 412.4 L694.6 413.8 L695.3 415.2 L696 416.5 L696.9 417.8 L697.9 419 L699.1 420.2 L700.3 421.3 L701.6 422.4 L702.8 423.5 L703.9 424.6 L704.8 425.7 L705.7 427.3 L706.4 429 L707 430.7 L707.4 432.2 L707.7 433.6 L708 435.6 L708 437.3 L708 438.5" stroke="#fff" stroke-width="5.3" fill="none" stroke-linejoin="round"/>
<line x1="648" y1="320.5" x2="651.7" y2="324.4" stroke="#d2d2d2" stroke-width="0.7" />
<line x1="663.3" y1="328.1" x2="658.1" y2="329.1" stroke="#d2d2d2" stroke-width="0.7" />
<line x1="664.6" y1="343.4" x2="659.3" y2="344" stroke="#d2d2d2" stroke-width="0.7" />
<line x1="669.2" y1="356.4" x2="664.4" y2="358.7" stroke="#d2d2d2" stroke-width="0.7" />
<line x1="676" y1="370.1" x2="671.2" y2="372.4" stroke="#d2d2d2" stroke-width="0.7" />
<line x1="682.3" y1="382.6" x2="677.6" y2="385.2" stroke="#d2d2d2" stroke-width="0.7" />
<line x1="690.3" y1="396.7" x2="685.4" y2="398.9" stroke="#d2d2d2" stroke-width="0.7" />
<line x1="695.7" y1="409.9" x2="690.9" y2="412.1" stroke="#d2d2d2" stroke-width="0.7" />
<line x1="704.7" y1="421.6" x2="701" y2="425.4" stroke="#d2d2d2" stroke-width="0.7" />
<rect x="646" y="328.9" width="3.6" height="8.2" rx="0.8" transform="rotate(-95.2 647.8 333)" fill="#7a7a7a" stroke="#1e1e1e" stroke-width="1"/>
<line x1="651.5" y1="333.4" x2="644.2" y2="334" stroke="#d4d4d4" stroke-width="0.6" />
<line x1="651.4" y1="332" x2="644.1" y2="332.6" stroke="#d4d4d4" stroke-width="0.6" />
<rect x="706.2" y="434.4" width="3.6" height="8.2" rx="0.8" transform="rotate(90.1 708 438.5)" fill="#7a7a7a" stroke="#1e1e1e" stroke-width="1"/>
<line x1="704.3" y1="437.8" x2="711.7" y2="437.8" stroke="#d4d4d4" stroke-width="0.6" />
<line x1="704.3" y1="439.2" x2="711.7" y2="439.2" stroke="#d4d4d4" stroke-width="0.6" />
<rect x="668.7" y="359.3" width="1.8" height="8.6" rx="0.8" transform="rotate(63 669.6 363.6)" fill="#ddd" stroke="#333" stroke-width="0.9"/>
<rect x="674.3" y="370.1" width="1.8" height="8.6" rx="0.8" transform="rotate(63 675.2 374.4)" fill="#ddd" stroke="#333" stroke-width="0.9"/>
<circle cx="671.2" cy="369.4" r="2.1" fill="#2a2a2a"/>
<line x1="645.4" y1="330.2" x2="650.5" y2="333.6" stroke="#2a2a2a" stroke-width="1.3" />
<line x1="648" y1="336" x2="648.2" y2="340" stroke="#333" stroke-width="1.3" />
<line x1="708.4" y1="441" x2="708.4" y2="444.5" stroke="#333" stroke-width="1.3" />
<path d="M862.4 407.4 L863.4 408 L865 408.8 L866.7 409.7 L868.3 410.6 L869.8 411.4 L871.4 412.2 L873 413 L874.7 413.6 L876.5 414 L878.4 414.4 L880.3 414.6 L882.1 414.7 L883.9 414.6 L885.7 414.4 L887.4 414.2 L889 414.2 L890.7 414.6 L892.1 415.4 L893.6 416.6 L894.6 417.7 L895.6 419 L896.6 420.4 L897.6 421.9 L898.6 423.4 L899.6 424.8 L900.6 426.3 L901.5 427.7 L902.4 429.2 L903.2 430.7 L903.9 432.2 L904.5 433.6 L905 435.1 L905.5 436.6 L905.9 438.1 L906.2 439.7 L906.5 441.4 L906.7 443.2 L906.8 444.8 L906.8 446.3 L906.5 448.5 L905.8 450.5 L905 452 L903.4 453.4 L901.3 453.7 L900.1 453.3 L898.7 452.6 L897.2 451.8 L895.8 451 L894.3 450.3 L892.7 449.5 L891.3 448.9 L890.3 448.4" stroke="#666" stroke-width="6.2" fill="none" stroke-linejoin="round"/>
<path d="M862.4 407.4 L863.4 408 L865 408.8 L866.7 409.7 L868.3 410.6 L869.8 411.4 L871.4 412.2 L873 413 L874.7 413.6 L876.5 414 L878.4 414.4 L880.3 414.6 L882.1 414.7 L883.9 414.6 L885.7 414.4 L887.4 414.2 L889 414.2 L890.7 414.6 L892.1 415.4 L893.6 416.6 L894.6 417.7 L895.6 419 L896.6 420.4 L897.6 421.9 L898.6 423.4 L899.6 424.8 L900.6 426.3 L901.5 427.7 L902.4 429.2 L903.2 430.7 L903.9 432.2 L904.5 433.6 L905 435.1 L905.5 436.6 L905.9 438.1 L906.2 439.7 L906.5 441.4 L906.7 443.2 L906.8 444.8 L906.8 446.3 L906.5 448.5 L905.8 450.5 L905 452 L903.4 453.4 L901.3 453.7 L900.1 453.3 L898.7 452.6 L897.2 451.8 L895.8 451 L894.3 450.3 L892.7 449.5 L891.3 448.9 L890.3 448.4" stroke="#fff" stroke-width="4.5" fill="none" stroke-linejoin="round"/>
<line x1="873.8" y1="410.9" x2="872.2" y2="415.1" stroke="#d2d2d2" stroke-width="0.7" />
<line x1="887.4" y1="411.9" x2="887.4" y2="416.4" stroke="#d2d2d2" stroke-width="0.7" />
<line x1="900.5" y1="422.1" x2="896.7" y2="424.7" stroke="#d2d2d2" stroke-width="0.7" />
<line x1="907.7" y1="436" x2="903.3" y2="437.2" stroke="#d2d2d2" stroke-width="0.7" />
<line x1="906.6" y1="453.6" x2="903.4" y2="450.4" stroke="#d2d2d2" stroke-width="0.7" />
<rect x="860.6" y="403.7" width="3.6" height="7.4" rx="0.8" transform="rotate(29 862.4 407.4)" fill="#7a7a7a" stroke="#1e1e1e" stroke-width="1"/>
<line x1="860.2" y1="409.9" x2="863.4" y2="404.2" stroke="#d4d4d4" stroke-width="0.6" />
<line x1="861.4" y1="410.6" x2="864.6" y2="404.9" stroke="#d4d4d4" stroke-width="0.6" />
<rect x="888.5" y="444.7" width="3.6" height="7.4" rx="0.8" transform="rotate(-154.8 890.3 448.4)" fill="#7a7a7a" stroke="#1e1e1e" stroke-width="1"/>
<line x1="892.3" y1="445.7" x2="889.5" y2="451.7" stroke="#d4d4d4" stroke-width="0.6" />
<line x1="891.1" y1="445.1" x2="888.3" y2="451.1" stroke="#d4d4d4" stroke-width="0.6" />
<path d="M229 423.3 L228.1 423.5 L226.8 423.8 L225.2 424 L223.6 424.4 L221.8 424.8 L220.1 425.3 L218.6 425.8 L217.2 426.4 L215.8 427.1 L214.4 427.9 L213 428.7 L211.7 429.5 L210.3 430.3 L208.9 431.1 L207.5 431.8 L206.1 432.5 L204.7 433.3 L203.4 434 L202 434.6 L200.6 435.3 L199.2 435.9 L197.6 436.6 L195.9 437.2 L194.3 437.8 L192.6 438.4 L191 439 L189.4 439.5 L187.7 440 L186 440.6 L184.3 441.1 L182.7 441.5 L181.4 441.9 L180.4 442.2" stroke="#666" stroke-width="7.2" fill="none" stroke-linejoin="round"/>
<path d="M229 423.3 L228.1 423.5 L226.8 423.8 L225.2 424 L223.6 424.4 L221.8 424.8 L220.1 425.3 L218.6 425.8 L217.2 426.4 L215.8 427.1 L214.4 427.9 L213 428.7 L211.7 429.5 L210.3 430.3 L208.9 431.1 L207.5 431.8 L206.1 432.5 L204.7 433.3 L203.4 434 L202 434.6 L200.6 435.3 L199.2 435.9 L197.6 436.6 L195.9 437.2 L194.3 437.8 L192.6 438.4 L191 439 L189.4 439.5 L187.7 440 L186 440.6 L184.3 441.1 L182.7 441.5 L181.4 441.9 L180.4 442.2" stroke="#fff" stroke-width="5.5" fill="none" stroke-linejoin="round"/>
<line x1="218.3" y1="428.9" x2="216" y2="423.9" stroke="#d2d2d2" stroke-width="0.7" />
<line x1="206" y1="435.7" x2="203.5" y2="430.8" stroke="#d2d2d2" stroke-width="0.7" />
<line x1="191.9" y1="441.6" x2="190.1" y2="436.4" stroke="#d2d2d2" stroke-width="0.7" />
<rect x="227.2" y="419.1" width="3.6" height="8.4" rx="0.8" transform="rotate(168.6 229 423.3)" fill="#7a7a7a" stroke="#1e1e1e" stroke-width="1"/>
<line x1="228.9" y1="419.4" x2="230.4" y2="426.9" stroke="#d4d4d4" stroke-width="0.6" />
<line x1="227.6" y1="419.7" x2="229.1" y2="427.2" stroke="#d4d4d4" stroke-width="0.6" />
<ellipse cx="180.4" cy="442.4" rx="3.6" ry="4.8" transform="rotate(-18 180.4 442.4)" stroke="#2a2a2a" stroke-width="1.3" fill="#aaa"/>
<ellipse cx="179.8" cy="442.6" rx="2" ry="3.2" transform="rotate(-18 179.8 442.6)" stroke="#555" stroke-width="0.8" fill="#f2f2f2"/>
<line x1="174.6" y1="444.6" x2="177.4" y2="443.8" stroke="#222" stroke-width="1.3" />
<line x1="232" y1="422" x2="235.6" y2="421" stroke="#333" stroke-width="1.3" />
<path d="M327.8 398.6 Q324 395.6 320.6 398.2 Q318.4 401.5 320.4 404.6 Q319.6 409 322.6 411.6 Q326 413.2 329.2 410.6 Z" stroke="#555" stroke-width="0.9" fill="#fff" />
<path d="M320.4 404.6 Q323.5 405.6 326.5 403.8" stroke="#999" stroke-width="0.7" fill="none" />
<path d="M331 402.5 L332 403 L333.3 403.8 L334.8 404.8 L336 406 L336.7 407.2 L337.4 408.5 L337.9 410 L338.4 411.5 L338.7 413 L338.9 414.7 L338.9 416.4 L338.7 418.1 L338.5 420 L338.2 421.5 L337.9 423.1 L337.5 424.7 L337.2 426.6 L337.1 428.7 L337.1 430.1 L337.2 431.7 L337.2 433.4 L337.3 435.1 L337.5 436.9 L337.7 438.7 L338 440.4 L338.4 441.9 L338.9 443.3 L339.6 444.8 L340.3 446 L341.2 447.1 L342.2 448.1 L343.5 449.1 L345.1 450.3 L347.2 451.6 L348.2 452.2 L349.3 452.9 L350.5 453.5 L351.8 454.2 L353.2 454.9 L354.6 455.7 L356.1 456.4 L357.6 457.2 L359.1 457.9 L360.7 458.7 L362.2 459.4 L363.8 460.2 L365.3 461 L366.8 461.7 L368.3 462.4 L369.7 463.1 L371 463.8 L372.5 464.6 L373.9 465.3 L375.3 466.1 L376.7 466.8 L378.1 467.5 L379.5 468.3 L380.8 469 L382.2 469.7 L383.5 470.4 L384.8 471.1 L386.1 471.8 L387.4 472.5 L388.6 473.2 L389.9 473.8 L391.1 474.5 L392.6 475.3 L394.1 476.2 L395.6 477 L397 477.9 L398.4 478.7 L399.8 479.5 L401.2 480.3 L402.5 481 L403.8 481.7 L405.1 482.4 L406.4 483 L407.6 483.6 L409.4 484.3 L411.1 485 L412.8 485.5 L414.4 486 L416 486.4 L417.5 486.7 L419 487 L420.5 487.3 L422.2 487.5 L423.8 487.5 L425.4 487.4 L426.9 487.3 L428.3 487.3 L429.7 487.4 L431 487.6 L432.5 488.2 L433.7 489.1 L434.8 490.1 L436.1 491.1 L437.8 492.3 L439 493 L440.2 493.7 L441.6 494.5 L443.1 495.3 L444.6 496.1 L446.1 497 L447.6 497.8 L449.1 498.5 L450.6 499.2 L452.1 499.8 L453.6 500.4 L455.1 501 L456.6 501.5 L458.1 502 L459.6 502.5 L461 503 L462.2 503.5 L463.3 504.1 L465 505.1 L466.5 506.2 L467.6 507.3 L468.5 508.4 L469 509.5 L469.2 511 L468.8 512.5 L468.1 513.9 L467 515.2 L465.9 516.1 L464.4 516.9 L462.8 517.7 L461.1 518.3 L459.4 518.9 L457.8 519.3 L456.2 519.7 L454.5 519.9 L452.7 520.1 L450.6 520.3 L449.2 520.4 L447.6 520.5 L445.9 520.6 L444.1 520.7 L442.4 520.8 L440.7 520.8 L439.2 520.9 L437.9 521 L437 521" stroke="#666" stroke-width="8.6" fill="none" stroke-linejoin="round"/>
<path d="M331 402.5 L332 403 L333.3 403.8 L334.8 404.8 L336 406 L336.7 407.2 L337.4 408.5 L337.9 410 L338.4 411.5 L338.7 413 L338.9 414.7 L338.9 416.4 L338.7 418.1 L338.5 420 L338.2 421.5 L337.9 423.1 L337.5 424.7 L337.2 426.6 L337.1 428.7 L337.1 430.1 L337.2 431.7 L337.2 433.4 L337.3 435.1 L337.5 436.9 L337.7 438.7 L338 440.4 L338.4 441.9 L338.9 443.3 L339.6 444.8 L340.3 446 L341.2 447.1 L342.2 448.1 L343.5 449.1 L345.1 450.3 L347.2 451.6 L348.2 452.2 L349.3 452.9 L350.5 453.5 L351.8 454.2 L353.2 454.9 L354.6 455.7 L356.1 456.4 L357.6 457.2 L359.1 457.9 L360.7 458.7 L362.2 459.4 L363.8 460.2 L365.3 461 L366.8 461.7 L368.3 462.4 L369.7 463.1 L371 463.8 L372.5 464.6 L373.9 465.3 L375.3 466.1 L376.7 466.8 L378.1 467.5 L379.5 468.3 L380.8 469 L382.2 469.7 L383.5 470.4 L384.8 471.1 L386.1 471.8 L387.4 472.5 L388.6 473.2 L389.9 473.8 L391.1 474.5 L392.6 475.3 L394.1 476.2 L395.6 477 L397 477.9 L398.4 478.7 L399.8 479.5 L401.2 480.3 L402.5 481 L403.8 481.7 L405.1 482.4 L406.4 483 L407.6 483.6 L409.4 484.3 L411.1 485 L412.8 485.5 L414.4 486 L416 486.4 L417.5 486.7 L419 487 L420.5 487.3 L422.2 487.5 L423.8 487.5 L425.4 487.4 L426.9 487.3 L428.3 487.3 L429.7 487.4 L431 487.6 L432.5 488.2 L433.7 489.1 L434.8 490.1 L436.1 491.1 L437.8 492.3 L439 493 L440.2 493.7 L441.6 494.5 L443.1 495.3 L444.6 496.1 L446.1 497 L447.6 497.8 L449.1 498.5 L450.6 499.2 L452.1 499.8 L453.6 500.4 L455.1 501 L456.6 501.5 L458.1 502 L459.6 502.5 L461 503 L462.2 503.5 L463.3 504.1 L465 505.1 L466.5 506.2 L467.6 507.3 L468.5 508.4 L469 509.5 L469.2 511 L468.8 512.5 L468.1 513.9 L467 515.2 L465.9 516.1 L464.4 516.9 L462.8 517.7 L461.1 518.3 L459.4 518.9 L457.8 519.3 L456.2 519.7 L454.5 519.9 L452.7 520.1 L450.6 520.3 L449.2 520.4 L447.6 520.5 L445.9 520.6 L444.1 520.7 L442.4 520.8 L440.7 520.8 L439.2 520.9 L437.9 521 L437 521" stroke="#fff" stroke-width="6.9" fill="none" stroke-linejoin="round"/>
<line x1="341.7" y1="410.7" x2="335" y2="412.4" stroke="#d2d2d2" stroke-width="0.7" />
<line x1="340.6" y1="426.9" x2="333.8" y2="426.2" stroke="#d2d2d2" stroke-width="0.7" />
<line x1="341.4" y1="439.6" x2="334.6" y2="441.1" stroke="#d2d2d2" stroke-width="0.7" />
<line x1="350" y1="449.3" x2="346.4" y2="455.2" stroke="#d2d2d2" stroke-width="0.7" />
<line x1="362.2" y1="455.6" x2="359.2" y2="461.8" stroke="#d2d2d2" stroke-width="0.7" />
<line x1="375.5" y1="462.3" x2="372.3" y2="468.4" stroke="#d2d2d2" stroke-width="0.7" />
<line x1="389" y1="469.4" x2="385.7" y2="475.5" stroke="#d2d2d2" stroke-width="0.7" />
<line x1="402.9" y1="477.3" x2="399.5" y2="483.3" stroke="#d2d2d2" stroke-width="0.7" />
<line x1="415.3" y1="482.7" x2="413.5" y2="489.3" stroke="#d2d2d2" stroke-width="0.7" />
<line x1="430.2" y1="483.9" x2="429.2" y2="490.8" stroke="#d2d2d2" stroke-width="0.7" />
<line x1="443.3" y1="491.5" x2="439.9" y2="497.5" stroke="#d2d2d2" stroke-width="0.7" />
<line x1="456.3" y1="497.7" x2="453.9" y2="504.2" stroke="#d2d2d2" stroke-width="0.7" />
<line x1="471.5" y1="506.7" x2="465.5" y2="510.1" stroke="#d2d2d2" stroke-width="0.7" />
<line x1="462.3" y1="521.6" x2="459.9" y2="515.1" stroke="#d2d2d2" stroke-width="0.7" />
<line x1="446.1" y1="524.1" x2="445.7" y2="517.2" stroke="#d2d2d2" stroke-width="0.7" />
<ellipse cx="330.4" cy="403.3" rx="2.3" ry="7.6" transform="rotate(12 330.4 403.3)" stroke="#222" stroke-width="1.5" fill="#999"/>
<ellipse cx="330.4" cy="403.3" rx="0.9" ry="5.4" transform="rotate(12 330.4 403.3)" stroke="#444" stroke-width="0.7" fill="#eee"/>
<path d="M344.4 454.3 l4.2 -2.6 l1 3.4 z" stroke="#1e1e1e" stroke-width="0.8" fill="#1e1e1e" />
<path d="M389.8 478.3 l4.2 -2.6 l1 3.4 z" stroke="#1e1e1e" stroke-width="0.8" fill="#1e1e1e" />
<line x1="347.6" y1="447.6" x2="344.2" y2="454.5" stroke="#777" stroke-width="0.8" />
<line x1="393.2" y1="471" x2="389.8" y2="478" stroke="#777" stroke-width="0.8" />
<path d="M449.2 486 L455 486 L455 496 L449.2 494 Z" stroke="#444" stroke-width="0.9" fill="#fff" stroke-linejoin="round" />
<ellipse cx="452.1" cy="486" rx="2.9" ry="1.2" transform="rotate(0 452.1 486)" stroke="#444" stroke-width="0.9" fill="#fff"/>
<rect x="444.3" y="490.6" width="2.2" height="10" rx="0.8" transform="rotate(28 445.4 495.6)" fill="#bbb" stroke="#2a2a2a" stroke-width="1"/>
<rect x="450.5" y="493.6" width="2.2" height="10" rx="0.8" transform="rotate(28 451.6 498.6)" fill="#bbb" stroke="#2a2a2a" stroke-width="1"/>
<line x1="451" y1="495.4" x2="459.6" y2="496.6" stroke="#2a2a2a" stroke-width="1.4" />
<rect x="439.8" y="515.8" width="2.4" height="9.6" rx="0.8" transform="rotate(2 441 520.6)" fill="#999" stroke="#222" stroke-width="1"/>
<ellipse cx="436.2" cy="521.2" rx="2.9" ry="4.4" transform="rotate(8 436.2 521.2)" stroke="#333" stroke-width="1.2" fill="#f2f2f2"/>
<ellipse cx="436.4" cy="521.2" rx="1.5" ry="2.9" transform="rotate(8 436.4 521.2)" stroke="#666" stroke-width="0.8" fill="#fff"/>
<path d="M387.3 560 L386.7 559 L386 557.5 L385.1 555.8 L383.9 554.2 L382.6 553 L381.3 552.3 L380 551.7 L378.4 551.3 L376.8 551 L375 550.8 L373.1 550.6 L371.7 550.5 L370.3 550.5 L368.7 550.5 L367.1 550.6 L365.4 550.7 L363.8 550.8 L362.1 550.9 L360.5 551 L359 551.2 L357.3 551.4 L355.7 551.6 L354 551.8 L352.4 552.1 L350.8 552.3 L349.2 552.7 L347.6 553.1 L346 553.5 L344.5 553.9 L343.1 554.4 L341.6 555 L340.1 555.6 L338.6 556.2 L337.1 556.8 L335.7 557.4 L334.4 558.1 L333.1 558.8 L331.5 559.7 L330 560.6 L328.5 561.6 L327.1 562.6 L325.9 563.7 L324.7 564.7 L323.7 565.9 L322.7 567.3 L321.8 568.9 L321.2 570.5 L320.6 572.2 L320.3 573.8 L320.1 575.3 L320.1 577.1 L320.5 578.8 L321 580.5 L321.7 582.1 L322.5 583.6 L323.5 585 L324.6 586.2 L325.9 587.3 L327.2 588.4 L328.4 589.5 L329.6 590.5 L330.7 591.5 L331.9 592.5 L333 593.4 L334.3 594.2 L335.6 595 L336.9 595.7 L338.3 596.4 L339.7 597 L341.3 597.7 L342.8 598.3 L344.4 598.8 L346.1 599.4 L347.8 599.9 L349.4 600.6 L350.8 601.3 L352.3 602.3 L353.6 603.3 L354.8 604.5 L355.8 605.7 L356.7 607.1 L357.4 608.6 L358 610.3 L358.5 612 L358.8 613.8 L359 615.4 L358.9 617.4 L358.5 619.5 L358.1 621.3 L357.8 622.5" stroke="#666" stroke-width="7.6" fill="none" stroke-linejoin="round"/>
<path d="M387.3 560 L386.7 559 L386 557.5 L385.1 555.8 L383.9 554.2 L382.6 553 L381.3 552.3 L380 551.7 L378.4 551.3 L376.8 551 L375 550.8 L373.1 550.6 L371.7 550.5 L370.3 550.5 L368.7 550.5 L367.1 550.6 L365.4 550.7 L363.8 550.8 L362.1 550.9 L360.5 551 L359 551.2 L357.3 551.4 L355.7 551.6 L354 551.8 L352.4 552.1 L350.8 552.3 L349.2 552.7 L347.6 553.1 L346 553.5 L344.5 553.9 L343.1 554.4 L341.6 555 L340.1 555.6 L338.6 556.2 L337.1 556.8 L335.7 557.4 L334.4 558.1 L333.1 558.8 L331.5 559.7 L330 560.6 L328.5 561.6 L327.1 562.6 L325.9 563.7 L324.7 564.7 L323.7 565.9 L322.7 567.3 L321.8 568.9 L321.2 570.5 L320.6 572.2 L320.3 573.8 L320.1 575.3 L320.1 577.1 L320.5 578.8 L321 580.5 L321.7 582.1 L322.5 583.6 L323.5 585 L324.6 586.2 L325.9 587.3 L327.2 588.4 L328.4 589.5 L329.6 590.5 L330.7 591.5 L331.9 592.5 L333 593.4 L334.3 594.2 L335.6 595 L336.9 595.7 L338.3 596.4 L339.7 597 L341.3 597.7 L342.8 598.3 L344.4 598.8 L346.1 599.4 L347.8 599.9 L349.4 600.6 L350.8 601.3 L352.3 602.3 L353.6 603.3 L354.8 604.5 L355.8 605.7 L356.7 607.1 L357.4 608.6 L358 610.3 L358.5 612 L358.8 613.8 L359 615.4 L358.9 617.4 L358.5 619.5 L358.1 621.3 L357.8 622.5" stroke="#fff" stroke-width="5.9" fill="none" stroke-linejoin="round"/>
<line x1="379" y1="554.5" x2="380.9" y2="549" stroke="#d2d2d2" stroke-width="0.7" />
<line x1="364" y1="553.7" x2="363.6" y2="547.8" stroke="#d2d2d2" stroke-width="0.7" />
<line x1="349.9" y1="555.6" x2="348.6" y2="549.8" stroke="#d2d2d2" stroke-width="0.7" />
<line x1="337" y1="560.1" x2="334.4" y2="554.8" stroke="#d2d2d2" stroke-width="0.7" />
<line x1="326" y1="567.7" x2="321.4" y2="564.1" stroke="#d2d2d2" stroke-width="0.7" />
<line x1="323.8" y1="579.5" x2="318.2" y2="581.5" stroke="#d2d2d2" stroke-width="0.7" />
<line x1="332.6" y1="589.3" x2="328.8" y2="593.8" stroke="#d2d2d2" stroke-width="0.7" />
<line x1="345.4" y1="596" x2="343.5" y2="601.6" stroke="#d2d2d2" stroke-width="0.7" />
<line x1="358.2" y1="604" x2="353.4" y2="607.5" stroke="#d2d2d2" stroke-width="0.7" />
<rect x="333.4" y="589.9" width="1.7" height="8.6" rx="0.8" transform="rotate(32.6 334.3 594.2)" fill="#c8c8c8" stroke="#333" stroke-width="0.8"/>
<ellipse cx="337" cy="590" rx="2.1" ry="1.6" transform="rotate(32.6 337 590)" fill="#1e1e1e"/>
<rect x="385.5" y="555.6" width="3.6" height="8.8" rx="0.8" transform="rotate(-117.5 387.3 560)" fill="#7a7a7a" stroke="#1e1e1e" stroke-width="1"/>
<line x1="391.2" y1="558.8" x2="384.1" y2="562.5" stroke="#d4d4d4" stroke-width="0.6" />
<line x1="390.5" y1="557.5" x2="383.4" y2="561.2" stroke="#d4d4d4" stroke-width="0.6" />
<rect x="356" y="618.1" width="3.6" height="8.8" rx="0.8" transform="rotate(103.8 357.8 622.5)" fill="#7a7a7a" stroke="#1e1e1e" stroke-width="1"/>
<line x1="354.1" y1="620.9" x2="361.9" y2="622.8" stroke="#d4d4d4" stroke-width="0.6" />
<line x1="353.7" y1="622.2" x2="361.5" y2="624.1" stroke="#d4d4d4" stroke-width="0.6" />
<path d="M436.2 570.5 L437.2 570.5 L438.7 570.4 L440.4 570.3 L442.2 570.4 L443.8 570.8 L445.1 571.3 L446.6 571.9 L448 572.6 L449.4 573.4 L450.6 574.4 L451.5 575.6 L452.1 577 L452.5 578.7 L452.6 580.5 L452.8 582.3 L453 584.1 L453.4 585.8 L454 587.3 L454.6 588.8 L455.2 590.3 L456.1 591.7 L457.1 593 L458.3 594.3 L459.4 595.2 L460.8 596.1 L462.2 597 L463.8 597.8 L465.4 598.6 L467 599.4 L468.5 600.2 L470 601 L471.5 601.8 L472.9 602.7 L474.4 603.5 L475.9 604.3 L477.3 605.1 L478.7 605.9 L480 606.5 L481.2 607.1 L483.2 608.1 L484.9 608.9 L486.4 609.4 L488 609.4 L489.3 609 L490.7 608.2 L492 607.3 L493.4 606.3 L494.9 605.4 L496.2 604.8 L497.6 604.1 L499 603.4 L500.5 602.8 L502 602.3 L503.4 602 L505.1 601.8 L506.7 601.8 L508.4 602 L510.1 602.3 L511.9 602.8 L513.3 603.3 L514.7 604.1 L516.2 604.9 L517.6 605.8 L519.1 606.6 L520.6 607.4 L522.1 608 L523.8 608.5 L525.5 609 L527.2 609.3 L528.9 609.6 L530.6 609.7 L532.3 609.6 L533.8 609.4 L535.2 609.1 L536.7 608.8 L538.1 608.3 L539.6 607.7 L541 607 L542.5 606.2 L543.8 605.4 L545.1 604.5 L546.4 603.5 L547.7 602.4 L548.9 601.2 L550.2 600.1 L551.5 598.9 L552.7 597.7 L553.8 596.6 L554.9 595.5 L556 594.3 L557 593.1 L558.1 591.9 L559.1 590.7 L560.1 589.6 L561.1 588.5 L562.1 587.5 L563.5 586.2 L564.9 585.2 L566.3 584.3 L567.5 583.3 L568.7 582.3 L569.7 581 L570.4 579.7 L571.1 578.3 L571.7 576.8 L572.1 575.2 L572.5 573.6 L572.9 572 L573.1 570.5 L573.2 568.7 L573 566.9 L572.7 565.1 L572.5 563.4 L572.4 561.8 L572.6 560.3 L573.3 558.7 L574.3 557.2 L575.5 555.9 L576.8 554.8 L578.2 554 L579.7 553.5 L581.5 553.4 L583.3 553.4 L584.8 553.5 L585.9 553.5" stroke="#666" stroke-width="8.6" fill="none" stroke-linejoin="round"/>
<path d="M436.2 570.5 L437.2 570.5 L438.7 570.4 L440.4 570.3 L442.2 570.4 L443.8 570.8 L445.1 571.3 L446.6 571.9 L448 572.6 L449.4 573.4 L450.6 574.4 L451.5 575.6 L452.1 577 L452.5 578.7 L452.6 580.5 L452.8 582.3 L453 584.1 L453.4 585.8 L454 587.3 L454.6 588.8 L455.2 590.3 L456.1 591.7 L457.1 593 L458.3 594.3 L459.4 595.2 L460.8 596.1 L462.2 597 L463.8 597.8 L465.4 598.6 L467 599.4 L468.5 600.2 L470 601 L471.5 601.8 L472.9 602.7 L474.4 603.5 L475.9 604.3 L477.3 605.1 L478.7 605.9 L480 606.5 L481.2 607.1 L483.2 608.1 L484.9 608.9 L486.4 609.4 L488 609.4 L489.3 609 L490.7 608.2 L492 607.3 L493.4 606.3 L494.9 605.4 L496.2 604.8 L497.6 604.1 L499 603.4 L500.5 602.8 L502 602.3 L503.4 602 L505.1 601.8 L506.7 601.8 L508.4 602 L510.1 602.3 L511.9 602.8 L513.3 603.3 L514.7 604.1 L516.2 604.9 L517.6 605.8 L519.1 606.6 L520.6 607.4 L522.1 608 L523.8 608.5 L525.5 609 L527.2 609.3 L528.9 609.6 L530.6 609.7 L532.3 609.6 L533.8 609.4 L535.2 609.1 L536.7 608.8 L538.1 608.3 L539.6 607.7 L541 607 L542.5 606.2 L543.8 605.4 L545.1 604.5 L546.4 603.5 L547.7 602.4 L548.9 601.2 L550.2 600.1 L551.5 598.9 L552.7 597.7 L553.8 596.6 L554.9 595.5 L556 594.3 L557 593.1 L558.1 591.9 L559.1 590.7 L560.1 589.6 L561.1 588.5 L562.1 587.5 L563.5 586.2 L564.9 585.2 L566.3 584.3 L567.5 583.3 L568.7 582.3 L569.7 581 L570.4 579.7 L571.1 578.3 L571.7 576.8 L572.1 575.2 L572.5 573.6 L572.9 572 L573.1 570.5 L573.2 568.7 L573 566.9 L572.7 565.1 L572.5 563.4 L572.4 561.8 L572.6 560.3 L573.3 558.7 L574.3 557.2 L575.5 555.9 L576.8 554.8 L578.2 554 L579.7 553.5 L581.5 553.4 L583.3 553.4 L584.8 553.5 L585.9 553.5" stroke="#fff" stroke-width="6.9" fill="none" stroke-linejoin="round"/>
<line x1="449.7" y1="569.6" x2="446.3" y2="575.6" stroke="#d2d2d2" stroke-width="0.7" />
<line x1="456.7" y1="584.9" x2="450.1" y2="586.7" stroke="#d2d2d2" stroke-width="0.7" />
<line x1="463.9" y1="594" x2="460.5" y2="600" stroke="#d2d2d2" stroke-width="0.7" />
<line x1="477.6" y1="601.3" x2="474.2" y2="607.3" stroke="#d2d2d2" stroke-width="0.7" />
<line x1="488.1" y1="605.8" x2="490.6" y2="612.2" stroke="#d2d2d2" stroke-width="0.7" />
<line x1="501.1" y1="599" x2="502.8" y2="605.7" stroke="#d2d2d2" stroke-width="0.7" />
<line x1="517.8" y1="601.9" x2="514.5" y2="607.9" stroke="#d2d2d2" stroke-width="0.7" />
<line x1="530.6" y1="606.2" x2="530.6" y2="613.1" stroke="#d2d2d2" stroke-width="0.7" />
<line x1="543" y1="601.7" x2="547.1" y2="607.2" stroke="#d2d2d2" stroke-width="0.7" />
<line x1="553.4" y1="592" x2="558.5" y2="596.6" stroke="#d2d2d2" stroke-width="0.7" />
<line x1="564.2" y1="581.5" x2="568.4" y2="587" stroke="#d2d2d2" stroke-width="0.7" />
<line x1="569.7" y1="570.3" x2="576.5" y2="570.7" stroke="#d2d2d2" stroke-width="0.7" />
<line x1="571.6" y1="555.1" x2="577" y2="559.3" stroke="#d2d2d2" stroke-width="0.7" />
<path d="M460.8 596.1 L462.2 597 L463.8 597.8 L465.4 598.6 L467 599.4 L468.5 600.2 L470 601 L471.5 601.8 L472.9 602.7 L474.4 603.5 L475.9 604.3 L477.3 605.1 L478.7 605.9 L480 606.5 L481.2 607.1" stroke="#3c3c3c" stroke-width="11.4" fill="none" stroke-linejoin="round"/>
<path d="M460.8 596.1 L462.2 597 L463.8 597.8 L465.4 598.6 L467 599.4 L468.5 600.2 L470 601 L471.5 601.8 L472.9 602.7 L474.4 603.5 L475.9 604.3 L477.3 605.1 L478.7 605.9 L480 606.5 L481.2 607.1" stroke="#fff" stroke-width="9.7" fill="none" stroke-linejoin="round" />
<line x1="463.8" y1="591.3" x2="457.7" y2="600.9" stroke="#3c3c3c" stroke-width="0.8" />
<line x1="483.7" y1="602" x2="478.7" y2="612.2" stroke="#3c3c3c" stroke-width="0.8" />
<rect x="561.2" y="582.7" width="1.7" height="9.6" rx="0.8" transform="rotate(-42.3 562.1 587.5)" fill="#c8c8c8" stroke="#333" stroke-width="0.8"/>
<ellipse cx="558.4" cy="583.4" rx="2.1" ry="1.6" transform="rotate(-42.3 558.4 583.4)" fill="#1e1e1e"/>
<rect x="451.3" y="572.2" width="1.7" height="9.6" rx="0.8" transform="rotate(71 452.1 577)" fill="#c8c8c8" stroke="#333" stroke-width="0.8"/>
<ellipse cx="457.3" cy="575.2" rx="2.1" ry="1.6" transform="rotate(71 457.3 575.2)" fill="#1e1e1e"/>
<rect x="434.4" y="565.6" width="3.6" height="9.8" rx="0.8" transform="rotate(-2.7 436.2 570.5)" fill="#7a7a7a" stroke="#1e1e1e" stroke-width="1"/>
<line x1="435.7" y1="575" x2="435.3" y2="566" stroke="#d4d4d4" stroke-width="0.6" />
<line x1="437.1" y1="575" x2="436.7" y2="566" stroke="#d4d4d4" stroke-width="0.6" />
<rect x="584.1" y="548.6" width="3.6" height="9.8" rx="0.8" transform="rotate(2.5 585.9 553.5)" fill="#7a7a7a" stroke="#1e1e1e" stroke-width="1"/>
<line x1="585" y1="558" x2="585.4" y2="549" stroke="#d4d4d4" stroke-width="0.6" />
<line x1="586.4" y1="558" x2="586.8" y2="549" stroke="#d4d4d4" stroke-width="0.6" />
<line x1="455" y1="571" x2="462" y2="576.6" stroke="#2a2a2a" stroke-width="1.4" />
<path d="M542.8 604.2 l2.2 -0.4 l-0.6 2.6 z" stroke="#222" stroke-width="0.8" fill="#222" />
<path d="M514.4 625.4 L514.4 626.5 L514.4 627.9 L514.4 629.7 L514.3 631.5 L514.1 633.4 L513.6 635.2 L513.1 636.5 L512.4 637.8 L511.7 639.1 L510.9 640.4 L510 641.7 L509 643 L507.9 644.2 L506.8 645.4 L505.7 646.4 L504.5 647.4 L503.2 648.4 L501.9 649.4 L500.5 650.4 L499.1 651.3 L497.6 652.2 L496.3 653.1 L494.9 653.9 L493.4 654.8 L492 655.8 L490.5 656.7 L489.1 657.6 L487.6 658.4 L486.1 659.1 L484.6 659.7 L483 660.2 L481.6 660.5 L480.1 660.8 L478.6 661 L477.1 661.2 L475.6 661.3 L474.1 661.3 L472.5 661.2 L470.9 661 L469.3 660.7 L468 660.4 L466.6 660 L465.2 659.5 L463.8 658.9 L462.4 658.3 L460.9 657.6 L459.5 656.9 L458.1 656.3 L456.7 655.6 L455.3 655 L454 654.4 L452.4 653.7 L450.8 653 L449.2 652.2 L447.7 651.5 L446.2 650.8 L444.7 650.1 L443.2 649.6 L441.8 649.1 L440.4 648.8 L438.6 648.6 L436.9 648.5 L435.2 648.6 L433.5 648.8 L432 649.1 L430.7 649.5 L429.5 650 L427.8 651.2 L426.6 652.8 L425.8 654.5 L425.6 656 L426.2 657.4 L427.5 658.8 L429 660.1 L430.5 661 L432.6 661.5 L434.7 661.5 L436.2 661.5" stroke="#666" stroke-width="8.3" fill="none" stroke-linejoin="round"/>
<path d="M514.4 625.4 L514.4 626.5 L514.4 627.9 L514.4 629.7 L514.3 631.5 L514.1 633.4 L513.6 635.2 L513.1 636.5 L512.4 637.8 L511.7 639.1 L510.9 640.4 L510 641.7 L509 643 L507.9 644.2 L506.8 645.4 L505.7 646.4 L504.5 647.4 L503.2 648.4 L501.9 649.4 L500.5 650.4 L499.1 651.3 L497.6 652.2 L496.3 653.1 L494.9 653.9 L493.4 654.8 L492 655.8 L490.5 656.7 L489.1 657.6 L487.6 658.4 L486.1 659.1 L484.6 659.7 L483 660.2 L481.6 660.5 L480.1 660.8 L478.6 661 L477.1 661.2 L475.6 661.3 L474.1 661.3 L472.5 661.2 L470.9 661 L469.3 660.7 L468 660.4 L466.6 660 L465.2 659.5 L463.8 658.9 L462.4 658.3 L460.9 657.6 L459.5 656.9 L458.1 656.3 L456.7 655.6 L455.3 655 L454 654.4 L452.4 653.7 L450.8 653 L449.2 652.2 L447.7 651.5 L446.2 650.8 L444.7 650.1 L443.2 649.6 L441.8 649.1 L440.4 648.8 L438.6 648.6 L436.9 648.5 L435.2 648.6 L433.5 648.8 L432 649.1 L430.7 649.5 L429.5 650 L427.8 651.2 L426.6 652.8 L425.8 654.5 L425.6 656 L426.2 657.4 L427.5 658.8 L429 660.1 L430.5 661 L432.6 661.5 L434.7 661.5 L436.2 661.5" stroke="#fff" stroke-width="6.6" fill="none" stroke-linejoin="round"/>
<line x1="515.4" y1="639.3" x2="509.5" y2="636.2" stroke="#d2d2d2" stroke-width="0.7" />
<line x1="505.2" y1="651.1" x2="501.2" y2="645.8" stroke="#d2d2d2" stroke-width="0.7" />
<line x1="492.2" y1="659.5" x2="488.8" y2="653.9" stroke="#d2d2d2" stroke-width="0.7" />
<line x1="477.4" y1="664.5" x2="476.9" y2="657.9" stroke="#d2d2d2" stroke-width="0.7" />
<line x1="461" y1="661.3" x2="463.7" y2="655.2" stroke="#d2d2d2" stroke-width="0.7" />
<line x1="446.3" y1="654.5" x2="449.1" y2="648.5" stroke="#d2d2d2" stroke-width="0.7" />
<line x1="434.1" y1="652.1" x2="433" y2="645.5" stroke="#d2d2d2" stroke-width="0.7" />
<line x1="429.8" y1="656.5" x2="425.1" y2="661.2" stroke="#d2d2d2" stroke-width="0.7" />
<rect x="512.6" y="620.6" width="3.6" height="9.5" rx="0.8" transform="rotate(89.7 514.4 625.4)" fill="#7a7a7a" stroke="#1e1e1e" stroke-width="1"/>
<line x1="510" y1="624.7" x2="518.7" y2="624.7" stroke="#d4d4d4" stroke-width="0.6" />
<line x1="510.1" y1="626.1" x2="518.8" y2="626.1" stroke="#d4d4d4" stroke-width="0.6" />
<rect x="434.4" y="656.8" width="3.6" height="9.5" rx="0.8" transform="rotate(-0.3 436.2 661.5)" fill="#7a7a7a" stroke="#1e1e1e" stroke-width="1"/>
<line x1="435.5" y1="665.9" x2="435.5" y2="657.2" stroke="#d4d4d4" stroke-width="0.6" />
<line x1="436.9" y1="665.8" x2="436.9" y2="657.1" stroke="#d4d4d4" stroke-width="0.6" />
<path d="M454 682 L453 682.3 L451.8 682.6 L450.3 683 L448.6 683.4 L446.9 683.9 L445 684.4 L443.2 685 L441.5 685.5 L440 686 L438.4 686.6 L436.7 687.1 L435.1 687.7 L433.6 688.2 L432 688.9 L430.6 689.5 L429.2 690.2 L428 691 L426.7 692 L425.5 693.1 L424.4 694.3 L423.4 695.6 L422.5 696.8 L421.7 698 L421 699 L419.9 701.2 L419.3 703.2 L419 704.5" stroke="#666" stroke-width="6.6" fill="none" stroke-linejoin="round"/>
<path d="M454 682 L453 682.3 L451.8 682.6 L450.3 683 L448.6 683.4 L446.9 683.9 L445 684.4 L443.2 685 L441.5 685.5 L440 686 L438.4 686.6 L436.7 687.1 L435.1 687.7 L433.6 688.2 L432 688.9 L430.6 689.5 L429.2 690.2 L428 691 L426.7 692 L425.5 693.1 L424.4 694.3 L423.4 695.6 L422.5 696.8 L421.7 698 L421 699 L419.9 701.2 L419.3 703.2 L419 704.5" stroke="#fff" stroke-width="4.9" fill="none" stroke-linejoin="round"/>
<line x1="444" y1="687.3" x2="442.5" y2="682.6" stroke="#d2d2d2" stroke-width="0.7" />
<line x1="429.4" y1="693" x2="426.6" y2="689" stroke="#d2d2d2" stroke-width="0.7" />
<rect x="452.2" y="678.1" width="3.6" height="7.8" rx="0.8" transform="rotate(164.8 454 682)" fill="#7a7a7a" stroke="#1e1e1e" stroke-width="1"/>
<line x1="453.8" y1="678.4" x2="455.6" y2="685.2" stroke="#d4d4d4" stroke-width="0.6" />
<line x1="452.4" y1="678.8" x2="454.2" y2="685.6" stroke="#d4d4d4" stroke-width="0.6" />
<rect x="417.2" y="700.6" width="3.6" height="7.8" rx="0.8" transform="rotate(105.2 419 704.5)" fill="#7a7a7a" stroke="#1e1e1e" stroke-width="1"/>
<line x1="415.8" y1="702.9" x2="422.6" y2="704.7" stroke="#d4d4d4" stroke-width="0.6" />
<line x1="415.4" y1="704.3" x2="422.2" y2="706.1" stroke="#d4d4d4" stroke-width="0.6" />
<path d="M411.7 87.1 L415.2 79.7 L425.1 72.7 L431.3 67.3 L433.8 68.4 L451.3 70.8 L454.8 69.6 L467.1 62.2 L476.4 66.4 L470 75.1 L479.3 81.8 L492.2 75.1 L500.6 79.3 L494.3 90.9 L501.5 91.4 L509.1 92.9 L511.8 97.6 L509.7 104.9 L502.7 105.8 L501.3 112.8 L488.7 120.6 L476.4 126.4 L470 123.3 L458.3 120.6 L444.3 113.6 L429.2 103.1 L415.2 93.7 L411.7 89.1 Z" stroke="#555" stroke-width="1" fill="#fff" stroke-linejoin="round" />
<path d="M431.3 67.3 L429.2 61.1 L434.4 55.6 L441.1 58.3 L443.4 62.6 L438.5 65.5" stroke="#666" stroke-width="0.9" fill="#fff" stroke-linejoin="round" />
<path d="M430.6 62 L435 57.9 L439.7 59.7" stroke="#aaa" stroke-width="0.7" fill="none" stroke-linejoin="round" />
<path d="M411.7 87.4 L412.2 87.6 L412.9 87.8 L413.7 88 L414.6 88.3 L415.5 88.6 L416.6 88.9 L417.6 89.3 L418.8 89.6 L419.9 90 L421.1 90.5 L422.2 90.9 L423.3 91.4 L424.1 91.8 L424.9 92.2 L425.8 92.6 L426.6 93 L427.5 93.4 L428.3 93.9 L429.2 94.3 L430.1 94.8 L431 95.3 L431.9 95.8 L432.8 96.3 L433.8 96.9 L434.7 97.4 L435.6 97.9 L436.6 98.5 L437.5 99 L438.5 99.6 L439.3 100 L440.2 100.5 L441 101 L441.9 101.5 L442.7 102.1 L443.6 102.6 L444.5 103.1 L445.4 103.7 L446.3 104.2 L447.2 104.8 L448.1 105.3 L449 105.9 L449.9 106.4 L450.8 106.9 L451.7 107.5 L452.5 108 L453.4 108.5 L454.3 109.1 L455.2 109.6 L456 110.1 L457 110.6 L457.9 111.2 L458.9 111.8 L459.9 112.3 L460.9 112.9 L462 113.5 L463 114.1 L464 114.6 L465 115.2 L465.9 115.7 L466.9 116.3 L467.8 116.8 L468.7 117.2 L469.5 117.7 L470.3 118.1 L471 118.5 L471.7 118.9 L472.3 119.2 L474.2 120.2 L475 120.7 L475.6 120.8 L477 120.6 L477.7 120.4 L478.5 120.2 L479.4 119.9 L480.3 119.6 L481.3 119.2 L482.3 118.8 L483.4 118.3 L484.5 117.9 L485.5 117.4 L486.6 116.9 L487.6 116.4 L488.7 115.9 L489.6 115.4 L490.5 114.9 L491.5 114.4 L492.6 113.8 L493.6 113.2 L494.7 112.6 L495.7 112 L496.7 111.4 L497.7 110.8 L498.6 110.3 L499.4 109.8 L500.1 109.3 L500.8 109 L501.3 108.7" stroke="#333" stroke-width="1.1" fill="none" stroke-linejoin="round"/>
<path d="M412.1 89.1 L412.7 89.3 L413.4 89.5 L414.3 89.8 L415.2 90.1 L416.2 90.5 L417.3 90.9 L418.5 91.3 L419.7 91.7 L420.9 92.2 L422.1 92.7 L423.3 93.3 L424.1 93.6 L424.9 94 L425.7 94.4 L426.6 94.9 L427.4 95.3 L428.3 95.8 L429.2 96.2 L430.1 96.7 L431 97.2 L431.9 97.7 L432.8 98.2 L433.7 98.7 L434.7 99.3 L435.6 99.8 L436.6 100.3 L437.5 100.9 L438.5 101.4 L439.3 101.9 L440.2 102.4 L441 102.9 L441.9 103.4 L442.7 103.9 L443.6 104.5 L444.5 105 L445.4 105.5 L446.3 106.1 L447.2 106.6 L448.1 107.2 L449 107.7 L449.9 108.3 L450.8 108.8 L451.7 109.4 L452.5 109.9 L453.4 110.4 L454.3 110.9 L455.2 111.4 L456 111.9 L457 112.5 L457.9 113.1 L458.9 113.6 L459.9 114.2 L460.9 114.8 L462 115.4 L463 115.9 L464 116.5 L465 117.1 L465.9 117.6 L466.9 118.1 L467.8 118.6 L468.7 119.1 L469.5 119.6 L470.3 120 L471 120.4 L471.7 120.7 L472.3 121 L474.2 122 L475 122.5 L475.6 122.6 L477 122.3 L477.7 122.2 L478.5 121.9 L479.4 121.7 L480.3 121.3 L481.3 121 L482.3 120.6 L483.4 120.1 L484.5 119.7 L485.5 119.2 L486.6 118.7 L487.6 118.3 L488.7 117.8 L489.6 117.3 L490.5 116.8 L491.5 116.3 L492.6 115.7 L493.6 115.2 L494.7 114.6 L495.7 114 L496.7 113.4 L497.7 112.9 L498.6 112.3 L499.4 111.9 L500.1 111.4 L500.8 111.1 L501.3 110.8" stroke="#666" stroke-width="0.8" fill="none" stroke-linejoin="round"/>
<path d="M413.1 91.4 L413.6 91.7 L414.2 92 L414.8 92.4 L415.6 92.8 L416.4 93.3 L417.3 93.8 L418.2 94.3 L419.2 94.8 L420.2 95.4 L421.2 96 L422.2 96.6 L423.3 97.2 L424.3 97.8 L425.3 98.4 L426.4 99 L427.3 99.6 L428.3 100.2 L429.2 100.7 L430 101.3 L430.9 101.9 L431.8 102.5 L432.6 103.1 L433.5 103.7 L434.3 104.3 L435.2 104.9 L436 105.5 L436.9 106.1 L437.7 106.7 L438.6 107.4 L439.4 108 L440.2 108.5 L441.1 109.1 L441.9 109.7 L442.7 110.2 L443.5 110.7 L444.3 111.2 L445.3 111.8 L446.3 112.4 L447.2 112.9 L448.2 113.4 L449.2 114 L450.1 114.5 L451.1 114.9 L452 115.4 L453 115.9 L453.9 116.3 L454.8 116.7 L455.7 117.1 L456.6 117.5 L457.5 117.9 L458.3 118.2 L459.4 118.7 L460.6 119.1 L461.7 119.4 L462.8 119.8 L464 120.1 L465 120.4 L466.1 120.7 L467.1 121 L468 121.2 L468.8 121.4 L469.4 121.6 L470 121.7" stroke="#999" stroke-width="0.7" fill="none" stroke-linejoin="round"/>
<path d="M417.5 83 L417.9 82.6 L418.5 82 L419.2 81.3 L419.9 80.5 L420.7 79.7 L421.6 78.8 L422.5 78 L423.4 77.3 L424.2 76.6 L425.1 76 L426 75.4 L426.9 74.9 L427.8 74.3 L428.7 73.8 L429.6 73.4 L430.6 73 L431.6 72.9 L432.7 72.9 L433.8 73.1 L434.6 73.3 L435.3 73.7 L436.1 74.1 L436.9 74.6 L437.8 75.2 L438.6 75.9 L439.5 76.5 L440.4 77.2 L441.3 77.9 L442.2 78.7 L443.1 79.4 L444 80 L444.9 80.7 L445.8 81.3 L446.7 81.8 L447.6 82.3 L448.5 82.8 L449.4 83.3 L450.3 83.7 L451.2 84.1 L452.2 84.6 L453.1 85 L454.1 85.4 L455 85.8 L456 86.2 L456.9 86.6 L457.9 87 L458.8 87.4 L459.7 87.8 L460.7 88.3 L461.6 88.7 L462.5 89.1 L463.5 89.6 L464.4 90 L465.3 90.5 L466.3 90.9 L467.2 91.3 L468.1 91.8 L469.1 92.2 L470 92.7 L470.9 93.1 L471.9 93.5 L472.8 93.9 L473.7 94.3 L474.7 94.7 L475.7 95.1 L476.8 95.5 L477.8 96 L478.9 96.5 L480.1 96.9 L481.2 97.4 L482.3 97.8 L483.3 98.2 L484.4 98.6 L485.4 98.9 L486.3 99.1 L487.2 99.3 L488 99.4 L488.7 99.3 L489.7 99 L490.6 98.2 L491.3 97.3 L491.9 96.1 L492.3 95 L492.7 93.9 L493 93 L493.3 92.3" stroke="#999" stroke-width="0.7" fill="none" stroke-linejoin="round"/>
<path d="M423.3 83 L423.9 82.6 L424.6 82 L425.4 81.3 L426.3 80.5 L427.3 79.8 L428.3 79.2 L429.4 78.7 L430.3 78.6 L431.2 78.7 L432 78.9 L432.9 79.4 L433.8 79.9 L434.6 80.5 L435.6 81.1 L436.5 81.8 L437.5 82.4 L438.5 83 L439.4 83.5 L440.4 84 L441.5 84.5 L442.6 85.1 L443.7 85.6 L444.8 86.2 L445.9 86.7 L446.8 87.2 L447.7 87.6 L448.4 88 L449 88.3" stroke="#999" stroke-width="0.7" fill="none" stroke-linejoin="round"/>
<path d="M425.1 72.7 L425.8 73.3 L426.8 74.1 L427.9 74.9 L429.2 75.4 L430.3 75.5 L431.7 75.5 L433 75.3 L434.2 75.2 L435 75.1" stroke="#999" stroke-width="0.7" fill="none" stroke-linejoin="round"/>
<path d="M436.2 87.1 L436.3 87.7 L436.4 88.4 L436.5 89.3 L436.7 90.3 L436.9 91.3 L437 92.4 L437.2 93.6 L437.4 94.8 L437.6 96 L437.9 97.2 L438.1 98.3 L438.3 99.3 L438.5 100.4 L438.7 101.5 L439 102.7 L439.3 103.9 L439.5 105.1 L439.8 106.2 L440.1 107.4 L440.3 108.4 L440.5 109.4 L440.8 110.3 L440.9 111 L441.1 111.6" stroke="#8a8a8a" stroke-width="0.8" fill="none" stroke-linejoin="round"/>
<path d="M441.1 89.1 L441.2 89.7 L441.3 90.5 L441.4 91.4 L441.5 92.4 L441.7 93.5 L441.8 94.7 L442 96 L442.2 97.2 L442.4 98.5 L442.5 99.7 L442.7 100.8 L442.9 101.9 L443.1 103 L443.4 104.1 L443.6 105.2 L443.9 106.4 L444.2 107.6 L444.5 108.7 L444.7 109.8 L445 110.8 L445.2 111.8 L445.4 112.6 L445.6 113.3 L445.7 113.9" stroke="#8a8a8a" stroke-width="0.8" fill="none" stroke-linejoin="round"/>
<path d="M447.3 92.9 L447.3 93.5 L447.4 94.3 L447.5 95.2 L447.6 96.1 L447.8 97.2 L447.9 98.4 L448 99.6 L448.2 100.8 L448.3 102 L448.4 103.1 L448.6 104.3 L448.7 105.4 L448.8 106.3 L448.9 107.6 L449 108.8 L449.1 110.1 L449.2 111.3 L449.3 112.5 L449.4 113.7 L449.4 114.7 L449.5 115.7 L449.5 116.4 L449.6 117.1" stroke="#8a8a8a" stroke-width="0.8" fill="none" stroke-linejoin="round"/>
<path d="M452.5 95.3 L452.6 95.9 L452.6 96.6 L452.7 97.5 L452.8 98.5 L453 99.6 L453.1 100.7 L453.2 101.9 L453.3 103.1 L453.5 104.3 L453.6 105.5 L453.7 106.6 L453.8 107.7 L453.9 108.7 L454 109.9 L454.1 111.1 L454.2 112.4 L454.4 113.6 L454.5 114.8 L454.6 115.9 L454.6 116.9 L454.7 117.8 L454.8 118.6 L454.8 119.2" stroke="#8a8a8a" stroke-width="0.8" fill="none" stroke-linejoin="round"/>
<path d="M460.1 98.4 L460.1 99 L460.2 99.8 L460.3 100.7 L460.4 101.8 L460.5 102.9 L460.6 104.1 L460.7 105.3 L460.8 106.6 L461 107.8 L461.1 108.9 L461.2 110 L461.3 111 L461.4 112.3 L461.5 113.5 L461.6 114.8 L461.7 116 L461.8 117.1 L461.9 118.2 L461.9 119.1 L462 119.9 L462.1 120.6" stroke="#8a8a8a" stroke-width="0.8" fill="none" stroke-linejoin="round"/>
<path d="M465.3 100.7 L465.4 101.4 L465.5 102.2 L465.6 103.1 L465.6 104.1 L465.8 105.3 L465.9 106.5 L466 107.7 L466.1 108.9 L466.2 110.2 L466.3 111.3 L466.4 112.4 L466.5 113.3 L466.6 114.7 L466.8 116 L466.9 117.3 L467 118.6 L467.2 119.7 L467.3 120.7 L467.4 121.5 L467.4 122.2" stroke="#8a8a8a" stroke-width="0.8" fill="none" stroke-linejoin="round"/>
<path d="M472.9 104.2 L473 104.9 L473.1 105.6 L473.2 106.6 L473.3 107.6 L473.4 108.8 L473.5 110 L473.6 111.2 L473.8 112.4 L473.9 113.6 L474 114.7 L474.1 115.7 L474.2 116.9 L474.3 118.1 L474.4 119.3 L474.5 120.5 L474.6 121.6 L474.7 122.7 L474.8 123.6 L474.9 124.4 L474.9 125" stroke="#8a8a8a" stroke-width="0.8" fill="none" stroke-linejoin="round"/>
<path d="M421 83 L421 83.6 L421.1 84.5 L421.1 85.5 L421.1 86.6 L421.2 87.8 L421.2 89 L421.3 90.2 L421.4 91.3 L421.6 92.3 L421.8 93.5 L422.2 94.8 L422.6 96 L423 97.1 L423.4 98.1 L423.7 98.9 L423.9 99.6" stroke="#8a8a8a" stroke-width="0.8" fill="none" stroke-linejoin="round"/>
<path d="M429.2 86.5 L429.2 87.1 L429.3 87.9 L429.3 88.9 L429.4 89.9 L429.4 91.1 L429.5 92.3 L429.7 93.5 L429.9 94.7 L430.1 95.8 L430.3 96.8 L430.7 97.8 L431 98.9 L431.4 100 L431.8 101.1 L432.2 102.2 L432.6 103.2 L433 104.2 L433.3 105.1 L433.6 105.8 L433.8 106.3" stroke="#8a8a8a" stroke-width="0.8" fill="none" stroke-linejoin="round"/>
<path d="M436.2 87.1 L436.1 86.1 L436 85.1 L435.9 84.1 L435.7 83.1 L435.6 82 L435.5 81 L435.4 80 L435.3 79 L435.2 78 L435.1 77 L435 76" stroke="#bdbdbd" stroke-width="0.7" fill="none" stroke-linejoin="round"/>
<path d="M441.1 89.1 L441 88 L440.9 87 L440.8 85.9 L440.7 84.9 L440.7 83.8 L440.6 82.8 L440.5 81.7 L440.4 80.7 L440.3 79.6 L440.3 78.6" stroke="#bdbdbd" stroke-width="0.7" fill="none" stroke-linejoin="round"/>
<path d="M447.3 92.9 L447.1 91.9 L446.9 90.8 L446.8 89.8 L446.6 88.7 L446.5 87.7 L446.3 86.6 L446.2 85.6 L446 84.5 L445.9 83.5 L445.7 82.4" stroke="#bdbdbd" stroke-width="0.7" fill="none" stroke-linejoin="round"/>
<path d="M452.5 95.3 L452.4 94.2 L452.3 93.2 L452.2 92.2 L452 91.2 L451.9 90.2 L451.8 89.2 L451.7 88.1 L451.6 87.1 L451.5 86.1 L451.3 85.1" stroke="#bdbdbd" stroke-width="0.7" fill="none" stroke-linejoin="round"/>
<path d="M460.1 98.4 L460 97.3 L459.8 96.2 L459.7 95.1 L459.6 94 L459.4 93 L459.3 91.9 L459.2 90.8 L459 89.7 L458.9 88.6" stroke="#bdbdbd" stroke-width="0.7" fill="none" stroke-linejoin="round"/>
<path d="M465.3 100.7 L465.2 99.7 L465.1 98.7 L465 97.6 L464.9 96.6 L464.8 95.6 L464.7 94.5 L464.6 93.5 L464.5 92.4 L464.4 91.4" stroke="#bdbdbd" stroke-width="0.7" fill="none" stroke-linejoin="round"/>
<path d="M472.9 104.2 L472.8 103.2 L472.7 102.2 L472.5 101.1 L472.4 100.1 L472.3 99.1 L472.1 98 L472 97 L471.9 95.9 L471.8 94.9" stroke="#bdbdbd" stroke-width="0.7" fill="none" stroke-linejoin="round"/>
<path d="M476.4 126.4 L476.3 125.8 L476.2 125.1 L476 124.2 L475.7 123.3 L475.5 122.2 L475.2 121.1 L475 119.9 L474.8 118.8 L474.6 117.6 L474.5 116.4 L474.5 115.3 L474.5 114.3 L474.7 113.3 L474.9 112.4 L475.3 111.4 L475.7 110.5 L476.2 109.6 L476.7 108.7 L477.3 107.8 L478 106.9 L478.7 106.1 L479.4 105.2 L480.1 104.4 L480.9 103.6 L481.7 102.8 L482.4 102.2 L483.2 101.5 L484.1 100.8 L485 100.1 L486 99.4 L487 98.7 L487.9 98.1 L488.9 97.5 L489.8 96.9 L490.7 96.3 L491.5 95.8 L492.2 95.4 L492.9 95 L493.3 94.7" stroke="#888" stroke-width="0.8" fill="none" stroke-linejoin="round"/>
<path d="M488.7 120.6 L488.6 119.9 L488.4 119.1 L488.2 118.1 L488 117 L487.8 115.8 L487.6 114.5 L487.5 113.2 L487.3 112 L487.3 110.8 L487.4 109.7 L487.5 108.7 L487.8 107.7 L488.3 106.7 L488.9 105.7 L489.6 104.7 L490.3 103.8 L491.1 103 L491.8 102.2 L492.4 101.6 L493 101 L493.3 100.5" stroke="#aaa" stroke-width="0.7" fill="none" stroke-linejoin="round"/>
<path d="M481.7 102.8 L482.3 103.2 L483 103.8 L483.9 104.5 L484.9 105.1 L486.1 105.7 L487.3 106.2 L488.7 106.3 L489.5 106.3 L490.4 106.1 L491.5 105.9 L492.5 105.7 L493.7 105.3 L494.8 105 L496 104.6 L497.1 104.2 L498.1 103.9 L499.1 103.5 L500 103.3 L500.7 103 L501.3 102.8" stroke="#aaa" stroke-width="0.7" fill="none" stroke-linejoin="round"/>
<path d="M446.1 80.7 L464.8 61.8 L476.4 66.4 L456 86.5 Z" stroke="#555" stroke-width="0.9" fill="#fff" stroke-linejoin="round" />
<path d="M472.9 92.9 L490.4 74.6 L500.6 79.3 L482.3 97.6 Z" stroke="#555" stroke-width="0.9" fill="#fff" stroke-linejoin="round" />
<path d="M448.8 82.1 L467.1 63.4" stroke="#888" stroke-width="0.8" fill="none" stroke-linejoin="round" />
<path d="M451.1 83.2 L469.8 64.3" stroke="#888" stroke-width="0.8" fill="none" stroke-linejoin="round" />
<path d="M453.4 84.6 L472.3 65.5" stroke="#888" stroke-width="0.8" fill="none" stroke-linejoin="round" />
<path d="M475.6 94.3 L492.8 76.2" stroke="#888" stroke-width="0.8" fill="none" stroke-linejoin="round" />
<path d="M477.9 95.5 L495.4 77.2" stroke="#888" stroke-width="0.8" fill="none" stroke-linejoin="round" />
<path d="M480.3 96.5 L498 78.3" stroke="#888" stroke-width="0.8" fill="none" stroke-linejoin="round" />
<path d="M465.3 64.3 L474.7 68.1" stroke="#777" stroke-width="0.8" fill="none" stroke-linejoin="round" />
<path d="M491 77.2 L499.2 80.9" stroke="#777" stroke-width="0.8" fill="none" stroke-linejoin="round" />
<ellipse cx="442" cy="71.1" rx="9" ry="5.8" transform="rotate(0 442 71.1)" stroke="#555" stroke-width="0.9" fill="#fff"/>
<ellipse cx="442" cy="69.2" rx="8.8" ry="5.6" transform="rotate(0 442 69.2)" stroke="#555" stroke-width="0.9" fill="#fff"/>
<ellipse cx="442" cy="68.8" rx="6.6" ry="4" transform="rotate(0 442 68.8)" stroke="#aaa" stroke-width="0.7" fill="#fff"/>
<path d="M493.3 94.7 L494 94.4 L494.9 94.1 L495.9 93.7 L497 93.4 L498.1 93.1 L499.2 92.9 L500.4 92.9 L501.6 93 L502.8 93.3 L504 93.6 L505 94.1 L505.9 94.7 L506.8 95.4 L507.6 96.3 L508.2 97.2 L508.5 98.2 L508.6 99.1 L508.4 100.1 L508.2 101.3 L507.8 102.3 L507.3 103.3 L506.8 104 L505.8 104.6 L504.7 104.9 L503.4 105.2 L502.3 105.3 L501.5 105.4" stroke="#666" stroke-width="0.8" fill="none" stroke-linejoin="round"/>
<path d="M495.7 98.2 L496.7 98.3 L498.1 98.5 L499.5 98.9 L500.3 99.3 L500.3 100.4 L499.5 101.7 L498.6 102.8 L497.8 103.6 L496.7 104.2 L495.8 104.8 L495.1 105.2" stroke="#555" stroke-width="0.9" fill="none" stroke-linejoin="round"/>
<path d="M502.7 94.7 L503.1 95.3 L503.8 96.2 L504.6 97.2 L505.2 98.3 L505.6 99.3 L505.6 100.6 L505.2 102 L504.7 103.2 L504.4 104" stroke="#888" stroke-width="0.7" fill="none" stroke-linejoin="round"/>
<path d="M493.3 90.6 L494 90.3 L494.8 90 L495.9 89.5 L497 89.1 L498.1 88.9 L499.2 88.8 L500.1 89 L501.1 89.4 L502.2 89.9 L503.3 90.5 L504.2 91 L505 91.4 L505.6 91.8" stroke="#777" stroke-width="0.8" fill="none" stroke-linejoin="round"/>
<line x1="422.8" y1="85.9" x2="428.2" y2="88.3" stroke="#1a1a1a" stroke-width="1.5" />
<line x1="422.8" y1="88.3" x2="428.2" y2="90.6" stroke="#1a1a1a" stroke-width="1.5" />
<line x1="422.8" y1="90.8" x2="428.2" y2="93.2" stroke="#1a1a1a" stroke-width="1.5" />
<line x1="422.8" y1="93.2" x2="428.2" y2="95.5" stroke="#1a1a1a" stroke-width="1.5" />
<path d="M443.8 116.3 L444.6 119.8 L450.2 120.9 L450.4 117.8 Z" stroke="#555" stroke-width="0.9" fill="#fff" stroke-linejoin="round" />
<ellipse cx="459.7" cy="121.5" rx="2.2" ry="1.3" transform="rotate(15 459.7 121.5)" stroke="#222" stroke-width="0.8" fill="#333"/>
<rect x="683.7" y="132.2" width="1.9" height="5.5" rx="0.6" fill="#999" stroke="#333" stroke-width="0.8"/>
<rect x="683.1" y="131.1" width="3" height="2.2" rx="0.8" fill="#666" stroke="#2a2a2a" stroke-width="0.8"/>
<path d="M678.4 156.5 L685.6 151.5 L692.8 149.6 L698.5 150.1 L701.7 152.9 L700.7 157.3 L696.4 159.7 L691.3 158 L685.6 158.7 L680.1 160.6 L679.5 158 Z" stroke="#444" stroke-width="0.9" fill="#e9e9e9" stroke-linejoin="round" />
<path d="M685.6 154.4 L691.3 152.2 L694.9 155.8 L689.2 158 Z" stroke="#555" stroke-width="0.8" fill="#bbb" stroke-linejoin="round" />
<path d="M693.5 150.8 L698.5 151.5 L700 155.8 L695.9 158 Z" stroke="#555" stroke-width="0.8" fill="#ddd" stroke-linejoin="round" />
<line x1="679.8" y1="157.3" x2="685.6" y2="155.4" stroke="#333" stroke-width="1" />
<line x1="682" y1="159.7" x2="687" y2="157.3" stroke="#555" stroke-width="0.8" />
<path d="M684.9 189.6 L684.9 178.1 Q685.6 170.6 695.2 170.2 Q705.4 170.6 705.7 178.8 L705.7 189.6 Z" stroke="#444" stroke-width="1" fill="#fff" />
<path d="M687 182.4 Q687.7 173.5 695.2 173.1 Q703.1 173.5 703.7 182.4" stroke="#777" stroke-width="0.8" fill="none" />
<path d="M689.2 181 L689.7 180.2 L690.5 179.1 L691.3 178.4 L692.3 178.5 L693.3 179 L694.2 179.3 L695.3 178.7 L696.4 178.1 L697.9 178.2 L699.3 178.8 L700.2 180.1 L700.7 181.3" stroke="#555" stroke-width="0.8" fill="none" stroke-linejoin="round"/>
<path d="M687 185.3 L687.6 185 L688.5 184.6 L689.5 184.2 L690.6 183.7 L691.8 183.4 L692.8 183.2 L693.9 183.1 L695.1 183.3 L696.3 183.5 L697.4 183.9 L698.5 184.2 L699.7 184.5 L700.8 184.9 L702 185.4 L702.9 185.8 L703.6 186" stroke="#666" stroke-width="0.8" fill="none" stroke-linejoin="round"/>
<path d="M684.4 187.9 L705.7 187 L706.6 199.7 L701.7 202.9 L688.5 202.6 L684.1 199.7 Z" stroke="#222" stroke-width="1.2" fill="#a8a8a8" stroke-linejoin="round" />
<ellipse cx="694.9" cy="195.4" rx="7.4" ry="6.2" transform="rotate(0 694.9 195.4)" stroke="#222" stroke-width="1" fill="#f4f4f4"/>
<ellipse cx="694.9" cy="195.7" rx="4.6" ry="3.8" transform="rotate(0 694.9 195.7)" stroke="#666" stroke-width="0.8" fill="#ddd"/>
<path d="M685.6 188.5 L692.8 185.3 L700 187.5 L693.5 190.3 Z" stroke="#222" stroke-width="0.9" fill="#777" stroke-linejoin="round" />
<line x1="685.6" y1="189.6" x2="705" y2="188.5" stroke="#222" stroke-width="1.2" />
<line x1="685.3" y1="199.7" x2="688.5" y2="202" stroke="#222" stroke-width="1.2" />
<line x1="705.7" y1="199" x2="702.1" y2="202.3" stroke="#222" stroke-width="1.2" />
<line x1="698.5" y1="189.6" x2="705" y2="193.9" stroke="#444" stroke-width="0.9" />
<line x1="685.6" y1="193.9" x2="689.2" y2="191.1" stroke="#444" stroke-width="0.9" />
<path d="M705 185.3 L710.3 184.9 L710.3 190.2 L705 190.5 Z" stroke="#333" stroke-width="0.9" fill="#ddd" stroke-linejoin="round" />
<path d="M710 184.4 L713.6 184.4 L713.6 190.5 L710 190.5 Z" stroke="#222" stroke-width="0.9" fill="#555" stroke-linejoin="round" />
<path d="M692.8 198 L696.8 198 L696.8 204.3 L694.8 206.9 L692.8 204.3 Z" stroke="#222" stroke-width="0.9" fill="#444" stroke-linejoin="round" />
<ellipse cx="694.8" cy="199" rx="2.6" ry="1.6" transform="rotate(0 694.8 199)" stroke="#111" stroke-width="0.8" fill="#222"/>
<line x1="478.2" y1="371" x2="485.1" y2="370" stroke="#333" stroke-width="2.8" />
<line x1="478.2" y1="371" x2="485.1" y2="370" stroke="#999" stroke-width="1.1" />
<line x1="477.6" y1="371.1" x2="479.3" y2="370.8" stroke="#2a2a2a" stroke-width="4.1" />
<line x1="478" y1="371" x2="478.9" y2="370.9" stroke="#8a8a8a" stroke-width="2.5" />
<line x1="484.2" y1="383.2" x2="491.7" y2="382.3" stroke="#333" stroke-width="2.8" />
<line x1="484.2" y1="383.2" x2="491.7" y2="382.3" stroke="#999" stroke-width="1.1" />
<line x1="483.6" y1="383.3" x2="485.3" y2="383.1" stroke="#2a2a2a" stroke-width="4.1" />
<line x1="484" y1="383.2" x2="484.9" y2="383.1" stroke="#8a8a8a" stroke-width="2.5" />
<line x1="582" y1="389" x2="587.3" y2="391.8" stroke="#333" stroke-width="2.7" />
<line x1="582" y1="389" x2="587.3" y2="391.8" stroke="#999" stroke-width="1" />
<line x1="581.5" y1="388.7" x2="583" y2="389.5" stroke="#2a2a2a" stroke-width="4" />
<line x1="581.8" y1="388.9" x2="582.6" y2="389.3" stroke="#8a8a8a" stroke-width="2.4" />
<line x1="582" y1="398" x2="587.3" y2="400.8" stroke="#333" stroke-width="2.7" />
<line x1="582" y1="398" x2="587.3" y2="400.8" stroke="#999" stroke-width="1" />
<line x1="581.5" y1="397.7" x2="583" y2="398.5" stroke="#2a2a2a" stroke-width="4" />
<line x1="581.8" y1="397.9" x2="582.6" y2="398.3" stroke="#8a8a8a" stroke-width="2.4" />
<path d="M499 352.6 L502.2 351.2 L505.5 352.3 L506.9 356.6 L507.1 375.3 L506.9 384.7 L504.4 382.5 L500.1 375.3 L497.2 368.8 L497.2 358.8 Z" stroke="#1e1e1e" stroke-width="1.2" fill="#f4f4f4" stroke-linejoin="round" />
<path d="M500.8 353.9 L503.3 353 L504.4 356.6 L504.8 375.3 L502.6 373.9 L500.1 368.8 L499.7 358.8 Z" stroke="#333" stroke-width="0.9" fill="#fff" stroke-linejoin="round" />
<path d="M504.8 356.6 L506.9 356.6 L507.1 381.1 L504.8 378.2 Z" stroke="#1a1a1a" stroke-width="0.9" fill="#4a4a4a" stroke-linejoin="round" />
<line x1="500.1" y1="363.8" x2="504.4" y2="362.4" stroke="#333" stroke-width="0.9" />
<line x1="500.8" y1="371" x2="504.8" y2="368.8" stroke="#333" stroke-width="0.9" />
<path d="M506.9 349.4 L511.6 346.5 L520.2 346.9 L522.8 351.9 L522.4 358.8 L521.7 366 L515.9 368.8 L515.3 384.7 L508 385 L506.2 381.8 L506.9 363.8 Z" stroke="#161616" stroke-width="1.2" fill="#4c4c4c" stroke-linejoin="round" />
<path d="M507.3 358.8 L510.9 358 L511.2 365.2 L507.3 366.7 Z" stroke="#222" stroke-width="0.7" fill="#f2f2f2" stroke-linejoin="round" />
<path d="M507.3 368.8 L511.6 367.8 L512 378.2 L507.6 378.9 Z" stroke="#222" stroke-width="0.7" fill="#e8e8e8" stroke-linejoin="round" />
<path d="M512.5 367.8 L514.8 367.3 L514.8 378.2 L512.7 378.6 Z" stroke="#222" stroke-width="0.7" fill="#cfcfcf" stroke-linejoin="round" />
<path d="M508 380.4 L514.5 379.6 L514.8 384 L508.7 384.5 Z" stroke="#111" stroke-width="0.8" fill="#f0f0f0" stroke-linejoin="round" />
<path d="M515.9 358 L520.2 357 L521.1 363.8 L517 365.2 Z" stroke="#222" stroke-width="0.7" fill="#f6f6f6" stroke-linejoin="round" />
<path d="M514.8 364.5 L518.4 363.8 L518.2 367.8 L514.8 368.1 Z" stroke="#222" stroke-width="0.7" fill="#eee" stroke-linejoin="round" />
<path d="M508.4 350.5 L512.3 348.3 L513.8 353 L509.4 355.2 Z" stroke="#222" stroke-width="0.7" fill="#8a8a8a" stroke-linejoin="round" />
<path d="M513.8 348 L519.5 348.3 L521.7 353 L515.9 354.8 L513.8 353 Z" stroke="#111" stroke-width="0.7" fill="#5a5a5a" stroke-linejoin="round" />
<line x1="511.6" y1="355.9" x2="521.7" y2="353.9" stroke="#0e0e0e" stroke-width="1.6" />
<line x1="511.6" y1="356.6" x2="511.6" y2="381.1" stroke="#111" stroke-width="1.3" />
<ellipse cx="509.8" cy="382.2" rx="1.3" ry="1" transform="rotate(0 509.8 382.2)" stroke="#111" stroke-width="0.8" fill="#444"/>
<path d="M513.2 343.6 L518.7 343.6 L518.8 349 L513 349 Z" stroke="#1e1e1e" stroke-width="1" fill="#f0f0f0" stroke-linejoin="round" />
<path d="M512.9 342.2 L518.9 342.2 L518.7 345.8 L513.2 345.8 Z" stroke="#1a1a1a" stroke-width="1" fill="#555" stroke-linejoin="round" />
<ellipse cx="515.9" cy="342.6" rx="3" ry="1.3" transform="rotate(0 515.9 342.6)" stroke="#1e1e1e" stroke-width="0.9" fill="#e8e8e8"/>
<line x1="515.6" y1="338.2" x2="515.6" y2="341.8" stroke="#333" stroke-width="1.3" />
<line x1="508" y1="342.6" x2="510.5" y2="345.8" stroke="#333" stroke-width="1.1" />
<path d="M559.7 356.1 L561.2 358.9 L565.1 359.9 L565.7 370.7 L569.9 379.4 L570.9 397.2 L574.5 396.3 L577.4 379.4 L571.3 370.5 L570.9 365.9 L573.8 365.7 L573.8 360.1 L562.1 358.5 Z" stroke="#444" stroke-width="0.9" fill="#fff" stroke-linejoin="round" />
<path d="M566.3 364.7 L566.4 365.4 L566.6 366.2 L566.9 367.3 L567.2 368.5 L567.7 369.8 L568.1 370.6 L568.6 371.5 L569.1 372.4 L569.7 373.5 L570.3 374.5 L570.9 375.5 L571.4 376.4 L571.9 377.2 L572.3 378 L573.1 379.6 L573.5 380.8 L573.8 381.6" stroke="#777" stroke-width="0.8" fill="none" stroke-linejoin="round"/>
<path d="M559.7 356.1 L559.5 357.1 L559.3 358.6 L559.3 359.9 L559.8 360.9 L560.5 361.8 L561.5 362.6 L562.8 363 L564.3 363.3 L565.3 363.5" stroke="#555" stroke-width="0.8" fill="none" stroke-linejoin="round"/>
<line x1="565.3" y1="363.5" x2="573.5" y2="365.7" stroke="#777" stroke-width="0.8" />
<ellipse cx="573.8" cy="384.9" rx="1.2" ry="1.5" transform="rotate(0 573.8 384.9)" stroke="#555" stroke-width="0.7" fill="#fff"/>
<ellipse cx="573" cy="394.2" rx="1.2" ry="1.5" transform="rotate(0 573 394.2)" stroke="#555" stroke-width="0.7" fill="#fff"/>
<ellipse cx="569.9" cy="365.9" rx="1.4" ry="1.2" transform="rotate(0 569.9 365.9)" stroke="#777" stroke-width="0.7" fill="#fff"/>
<line x1="108.2" y1="426.6" x2="262.5" y2="506" stroke="#444" stroke-width="1" />
<line x1="108.2" y1="427.9" x2="262.5" y2="507.3" stroke="#8a8a8a" stroke-width="0.8" />
<line x1="108.2" y1="429.1" x2="262.5" y2="508.5" stroke="#777" stroke-width="0.8" />
<line x1="108.2" y1="430.5" x2="262.5" y2="509.9" stroke="#444" stroke-width="1" />
<line x1="106.5" y1="472.2" x2="260.5" y2="550" stroke="#555" stroke-width="0.9" />
<line x1="106.5" y1="473.8" x2="260.5" y2="551.6" stroke="#999" stroke-width="0.8" />
<line x1="106.5" y1="475.5" x2="260.5" y2="553.3" stroke="#999" stroke-width="0.8" />
<line x1="106.5" y1="477.2" x2="260.5" y2="555" stroke="#555" stroke-width="0.9" />
<line x1="137.3" y1="490.1" x2="141.3" y2="492.1" stroke="#666" stroke-width="1.2" />
<line x1="157.3" y1="500.2" x2="161.3" y2="502.2" stroke="#666" stroke-width="1.2" />
<line x1="183.5" y1="513.4" x2="187.5" y2="515.4" stroke="#666" stroke-width="1.2" />
<line x1="202" y1="522.7" x2="206" y2="524.8" stroke="#666" stroke-width="1.2" />
<rect x="100.3" y="425.8" width="8.8" height="50.6" rx="3.2" fill="#fff" stroke="#444" stroke-width="1"/>
<rect x="101.6" y="428.4" width="4.6" height="46.4" rx="1.6" fill="#6a6a6a" stroke="#333" stroke-width="0.8"/>
<line x1="102" y1="430" x2="105.8" y2="430" stroke="#bdbdbd" stroke-width="0.6" />
<line x1="102" y1="432.1" x2="105.8" y2="432.1" stroke="#bdbdbd" stroke-width="0.6" />
<line x1="102" y1="434.1" x2="105.8" y2="434.1" stroke="#bdbdbd" stroke-width="0.6" />
<line x1="102" y1="436.1" x2="105.8" y2="436.1" stroke="#bdbdbd" stroke-width="0.6" />
<line x1="102" y1="438.2" x2="105.8" y2="438.2" stroke="#bdbdbd" stroke-width="0.6" />
<line x1="102" y1="440.2" x2="105.8" y2="440.2" stroke="#bdbdbd" stroke-width="0.6" />
<line x1="102" y1="442.3" x2="105.8" y2="442.3" stroke="#bdbdbd" stroke-width="0.6" />
<line x1="102" y1="444.4" x2="105.8" y2="444.4" stroke="#bdbdbd" stroke-width="0.6" />
<line x1="102" y1="446.4" x2="105.8" y2="446.4" stroke="#bdbdbd" stroke-width="0.6" />
<line x1="102" y1="448.4" x2="105.8" y2="448.4" stroke="#bdbdbd" stroke-width="0.6" />
<line x1="102" y1="450.5" x2="105.8" y2="450.5" stroke="#bdbdbd" stroke-width="0.6" />
<line x1="102" y1="452.6" x2="105.8" y2="452.6" stroke="#bdbdbd" stroke-width="0.6" />
<line x1="102" y1="454.6" x2="105.8" y2="454.6" stroke="#bdbdbd" stroke-width="0.6" />
<line x1="102" y1="456.6" x2="105.8" y2="456.6" stroke="#bdbdbd" stroke-width="0.6" />
<line x1="102" y1="458.7" x2="105.8" y2="458.7" stroke="#bdbdbd" stroke-width="0.6" />
<line x1="102" y1="460.8" x2="105.8" y2="460.8" stroke="#bdbdbd" stroke-width="0.6" />
<line x1="102" y1="462.8" x2="105.8" y2="462.8" stroke="#bdbdbd" stroke-width="0.6" />
<line x1="102" y1="464.9" x2="105.8" y2="464.9" stroke="#bdbdbd" stroke-width="0.6" />
<line x1="102" y1="466.9" x2="105.8" y2="466.9" stroke="#bdbdbd" stroke-width="0.6" />
<line x1="102" y1="468.9" x2="105.8" y2="468.9" stroke="#bdbdbd" stroke-width="0.6" />
<line x1="102" y1="471" x2="105.8" y2="471" stroke="#bdbdbd" stroke-width="0.6" />
<line x1="102" y1="473.1" x2="105.8" y2="473.1" stroke="#bdbdbd" stroke-width="0.6" />
<line x1="107.6" y1="428" x2="107.6" y2="474.5" stroke="#999" stroke-width="0.7" />
<rect x="94.6" y="431" width="6" height="45.6" rx="1.5" fill="#fff" stroke="#555" stroke-width="0.9"/>
<line x1="94.8" y1="435" x2="100.2" y2="435" stroke="#666" stroke-width="0.9" />
<line x1="94.8" y1="439.4" x2="100.2" y2="439.4" stroke="#666" stroke-width="0.9" />
<line x1="94.8" y1="443.8" x2="100.2" y2="443.8" stroke="#666" stroke-width="0.9" />
<line x1="94.8" y1="448.2" x2="100.2" y2="448.2" stroke="#666" stroke-width="0.9" />
<line x1="94.8" y1="452.6" x2="100.2" y2="452.6" stroke="#666" stroke-width="0.9" />
<line x1="94.8" y1="457" x2="100.2" y2="457" stroke="#666" stroke-width="0.9" />
<line x1="94.8" y1="461.4" x2="100.2" y2="461.4" stroke="#666" stroke-width="0.9" />
<line x1="94.8" y1="465.8" x2="100.2" y2="465.8" stroke="#666" stroke-width="0.9" />
<line x1="94.8" y1="470.2" x2="100.2" y2="470.2" stroke="#666" stroke-width="0.9" />
<line x1="94.8" y1="474.6" x2="100.2" y2="474.6" stroke="#666" stroke-width="0.9" />
<line x1="97.4" y1="432" x2="97.4" y2="476" stroke="#bbb" stroke-width="0.6" />
<path d="M91.3 425.5 L95 430.7 L99.7 434.9 L101.3 428.7 L104.9 426.3 L98.7 425 Z" stroke="#555" stroke-width="0.9" fill="#fff" stroke-linejoin="round" />
<ellipse cx="93.9" cy="423.6" rx="4.4" ry="3.6" transform="rotate(0 93.9 423.6)" stroke="#444" stroke-width="0.9" fill="#fff"/>
<ellipse cx="93.9" cy="423" rx="3.4" ry="2.3" transform="rotate(0 93.9 423)" stroke="#888" stroke-width="0.7" fill="#fff"/>
<path d="M94.5 470.5 L93.9 474.2 L97.1 477.3 L100.7 475.7 L101.3 472.6 Z" stroke="#555" stroke-width="0.9" fill="#fff" stroke-linejoin="round" />
<ellipse cx="109.6" cy="463.4" rx="1.3" ry="2" transform="rotate(0 109.6 463.4)" stroke="#777" stroke-width="0.8" fill="#fff"/>
<rect x="259.4" y="506" width="13" height="50.8" rx="3" fill="#fff" stroke="#444" stroke-width="1"/>
<rect x="259.8" y="508" width="3.1" height="47" rx="1" fill="#777" stroke="#444" stroke-width="0.7"/>
<line x1="263.4" y1="518.5" x2="272" y2="517.9" stroke="#666" stroke-width="0.9" />
<line x1="263.2" y1="519.8" x2="266" y2="519.7" stroke="#333" stroke-width="1" />
<line x1="263.4" y1="522.8" x2="272" y2="522.2" stroke="#666" stroke-width="0.9" />
<line x1="263.2" y1="524.1" x2="266" y2="524" stroke="#333" stroke-width="1" />
<line x1="263.4" y1="527.1" x2="272" y2="526.5" stroke="#666" stroke-width="0.9" />
<line x1="263.2" y1="528.4" x2="266" y2="528.3" stroke="#333" stroke-width="1" />
<line x1="263.4" y1="531.4" x2="272" y2="530.8" stroke="#666" stroke-width="0.9" />
<line x1="263.2" y1="532.7" x2="266" y2="532.6" stroke="#333" stroke-width="1" />
<line x1="263.4" y1="535.7" x2="272" y2="535.1" stroke="#666" stroke-width="0.9" />
<line x1="263.2" y1="537" x2="266" y2="536.9" stroke="#333" stroke-width="1" />
<line x1="263.4" y1="540" x2="272" y2="539.4" stroke="#666" stroke-width="0.9" />
<line x1="263.2" y1="541.3" x2="266" y2="541.2" stroke="#333" stroke-width="1" />
<line x1="263.4" y1="544.3" x2="272" y2="543.7" stroke="#666" stroke-width="0.9" />
<line x1="263.2" y1="545.6" x2="266" y2="545.5" stroke="#333" stroke-width="1" />
<line x1="263.4" y1="548.6" x2="272" y2="548" stroke="#666" stroke-width="0.9" />
<line x1="263.2" y1="549.9" x2="266" y2="549.8" stroke="#333" stroke-width="1" />
<line x1="263.4" y1="552.9" x2="272" y2="552.3" stroke="#666" stroke-width="0.9" />
<line x1="263.2" y1="554.2" x2="266" y2="554.1" stroke="#333" stroke-width="1" />
<line x1="268" y1="516" x2="268" y2="555" stroke="#c4c4c4" stroke-width="0.6" />
<path d="M262.8 507.5 L267 506 L272.2 511.4 L273.3 518.5 L267 519.6 L264 515.4 Z" stroke="#555" stroke-width="0.9" fill="#fff" stroke-linejoin="round" />
<ellipse cx="265.4" cy="512.3" rx="2.6" ry="2.9" transform="rotate(0 265.4 512.3)" stroke="#777" stroke-width="0.8" fill="#fff"/>
<ellipse cx="265.1" cy="519.6" rx="2.2" ry="2" transform="rotate(0 265.1 519.6)" stroke="#777" stroke-width="0.8" fill="#fff"/>
<ellipse cx="274.7" cy="514.1" rx="4.2" ry="3.3" transform="rotate(0 274.7 514.1)" stroke="#444" stroke-width="0.9" fill="#fff"/>
<ellipse cx="274.7" cy="513.5" rx="3" ry="2" transform="rotate(0 274.7 513.5)" stroke="#888" stroke-width="0.7" fill="#fff"/>
<path d="M272 546.8 L276.9 545.7 L278.7 548 L277.4 551 L272.2 551 Z" stroke="#444" stroke-width="0.9" fill="#fff" stroke-linejoin="round" />
<line x1="278.7" y1="547.3" x2="283.2" y2="546.4" stroke="#333" stroke-width="1" />
<ellipse cx="269.3" cy="558.1" rx="3.6" ry="2.8" transform="rotate(0 269.3 558.1)" stroke="#555" stroke-width="0.9" fill="#fff"/>
<ellipse cx="269.3" cy="557.3" rx="2.8" ry="2" transform="rotate(0 269.3 557.3)" stroke="#777" stroke-width="0.8" fill="#fff"/>
<line x1="240.6" y1="388.4" x2="242.1" y2="393.2" stroke="#333" stroke-width="2.7" />
<line x1="240.6" y1="388.4" x2="242.1" y2="393.2" stroke="#999" stroke-width="1" />
<line x1="240.4" y1="387.8" x2="240.9" y2="389.4" stroke="#2a2a2a" stroke-width="4" />
<line x1="240.5" y1="388.2" x2="240.8" y2="389.1" stroke="#8a8a8a" stroke-width="2.4" />
<line x1="264.8" y1="380.2" x2="265.8" y2="384.7" stroke="#333" stroke-width="2.7" />
<line x1="264.8" y1="380.2" x2="265.8" y2="384.7" stroke="#999" stroke-width="1" />
<line x1="264.7" y1="379.6" x2="265" y2="381.3" stroke="#2a2a2a" stroke-width="4" />
<line x1="264.8" y1="380" x2="264.9" y2="380.9" stroke="#8a8a8a" stroke-width="2.4" />
<path d="M248.6 408.3 L251.5 407.2 L254.3 400.1 L261.4 395.3 L267.8 398.2 L271.5 404.7 L277.9 404.7 L279.9 408.3 L278.4 415.7 L273.3 416.1 L269.7 420.7 L260.5 422.1 L252.2 424.1 L248.6 419.3 Z" stroke="#333" stroke-width="1" fill="#f2f2f2" stroke-linejoin="round" />
<path d="M251.5 407.2 L251.7 406.5 L252 405.5 L252.3 404.4 L252.8 403.2 L253.3 402 L254.1 401 L254.8 400.3 L255.6 399.6 L256.5 398.9 L257.5 398.2 L258.6 397.7 L259.6 397.2 L260.5 396.8 L261.4 396.6 L262.5 396.6 L263.6 396.8 L264.7 397.3 L265.7 397.9 L266.6 398.5 L267.4 399.2 L268.2 400.1 L268.8 401.2 L269.4 402.4 L269.8 403.5 L270.1 404.2" stroke="#444" stroke-width="0.9" fill="none" stroke-linejoin="round"/>
<path d="M253.2 407.4 L253.4 406.8 L253.7 405.9 L254.1 404.9 L254.5 403.8 L255.1 402.8 L255.7 401.9 L256.4 401.2 L257.2 400.5 L258.1 399.8 L259 399.2 L259.9 398.7 L260.8 398.3 L261.6 398.1 L262.7 398.1 L263.8 398.4 L264.8 398.9 L265.7 399.6 L266.5 400.3 L267.2 401.3 L267.7 402.6 L268 403.8 L268.3 404.7" stroke="#777" stroke-width="0.8" fill="none" stroke-linejoin="round"/>
<ellipse cx="262" cy="406.7" rx="4.7" ry="4.9" transform="rotate(0 262 406.7)" stroke="#2a2a2a" stroke-width="1.1" fill="#fff"/>
<ellipse cx="262.3" cy="405.1" rx="2.6" ry="2.3" transform="rotate(0 262.3 405.1)" stroke="#666" stroke-width="0.8" fill="#e4e4e4"/>
<ellipse cx="262.3" cy="408.3" rx="3" ry="2" transform="rotate(0 262.3 408.3)" stroke="#777" stroke-width="0.8" fill="#eee"/>
<path d="M248.8 408.8 L252.2 411.1 L258.5 409.7 L259.4 421.6 L252.2 423.9 L248.8 419.3 Z" stroke="#2a2a2a" stroke-width="1" fill="#e0e0e0" stroke-linejoin="round" />
<path d="M251.1 413.8 L256.6 412.7 L257.6 419.3 L252.2 420.7 Z" stroke="#555" stroke-width="0.8" fill="#fff" stroke-linejoin="round" />
<line x1="249.5" y1="409.2" x2="251.1" y2="422.1" stroke="#222" stroke-width="1.2" />
<line x1="258.5" y1="411.1" x2="259.4" y2="421.6" stroke="#222" stroke-width="1.4" />
<line x1="254.1" y1="422.1" x2="254.3" y2="424.1" stroke="#222" stroke-width="1.1" />
<ellipse cx="266" cy="415.7" rx="4.6" ry="3.2" transform="rotate(-12 266 415.7)" stroke="#333" stroke-width="0.9" fill="#fff"/>
<ellipse cx="266.2" cy="415.7" rx="2" ry="1.3" transform="rotate(-12 266.2 415.7)" stroke="#222" stroke-width="0.8" fill="#666"/>
<path d="M271.5 405.8 L277 404.5 L279.9 408.3 L278.6 415.5 L273.5 416.1 L271.5 411.1 Z" stroke="#2a2a2a" stroke-width="1" fill="#e6e6e6" stroke-linejoin="round" />
<path d="M273 407.2 L277 406.5 L277.9 411.1 L273.9 412 Z" stroke="#555" stroke-width="0.8" fill="#fff" stroke-linejoin="round" />
<line x1="272" y1="411.1" x2="278.1" y2="413.8" stroke="#222" stroke-width="1.2" />
<line x1="274.7" y1="412.9" x2="275.2" y2="416.1" stroke="#222" stroke-width="1.2" />
<line x1="269.7" y1="402.8" x2="272" y2="406.5" stroke="#222" stroke-width="1.2" />
<rect x="765.1" y="367" width="2.6" height="6.8" rx="0.6" fill="#999" stroke="#333" stroke-width="0.8"/>
<rect x="764.3" y="365.7" width="4.2" height="2.6" rx="0.8" fill="#666" stroke="#2a2a2a" stroke-width="0.8"/>
<rect x="778.8" y="360.2" width="2.4" height="6.8" rx="0.6" fill="#999" stroke="#333" stroke-width="0.8"/>
<rect x="778.1" y="358.9" width="3.8" height="2.6" rx="0.8" fill="#666" stroke="#2a2a2a" stroke-width="0.8"/>
<path d="M762 421.2 L766.5 419.5 L778.1 427.9 L789.8 425.6 L792.6 427.5 L792 432.5 L778.7 430.3 L765.3 425.9 L762 423.6 Z" stroke="#444" stroke-width="0.9" fill="#fff" stroke-linejoin="round" />
<line x1="778.1" y1="427.9" x2="778.7" y2="430.3" stroke="#666" stroke-width="0.8" />
<line x1="784.3" y1="426.8" x2="790.4" y2="429.5" stroke="#666" stroke-width="0.8" />
<line x1="785.4" y1="429.2" x2="791.8" y2="431.8" stroke="#888" stroke-width="0.7" />
<path d="M766.7 394.7 L781.8 402.3 L782 421.2 L778.1 427.9 L766.5 419.9 Z" stroke="#444" stroke-width="0.9" fill="#fff" stroke-linejoin="round" />
<path d="M771.6 402.3 L776.9 404.7 L776.9 423.4 L771.6 420.1 Z" stroke="#444" stroke-width="0.9" fill="#fff" stroke-linejoin="round" />
<line x1="773.1" y1="403.2" x2="773.1" y2="421.2" stroke="#888" stroke-width="0.7" />
<path d="M771.6 415.6 L776.9 417.9 L776.9 423.4 L771.6 420.1 Z" stroke="#666" stroke-width="0.8" fill="#eee" stroke-linejoin="round" />
<line x1="768.7" y1="395.8" x2="768.7" y2="421.4" stroke="#999" stroke-width="0.7" />
<line x1="779.8" y1="401.4" x2="779.8" y2="424.7" stroke="#777" stroke-width="0.7" />
<path d="M762 391.2 L766.5 388.9 L775.6 387.5 L777 383.9 L780.5 382.3 L784 385.8 L795.4 389.5 L796.7 391.9 L782.3 402.3 L777.8 402.3 L766.5 394.7 L762 392.9 Z" stroke="#444" stroke-width="0.9" fill="#fff" stroke-linejoin="round" />
<path d="M773.1 390.3 L773.8 391.3 L774.8 392.3 L775.8 392.3 L777.1 391.9 L778.1 391.4 L778.9 390.4 L779.6 389.2 L780 388.4" stroke="#555" stroke-width="0.8" fill="none" stroke-linejoin="round"/>
<path d="M762 392.9 L762.6 392.4 L763.5 391.6 L764.8 391 L766.5 391.2 L767.1 391.5 L767.9 391.9 L768.7 392.4 L769.7 393 L770.6 393.7 L771.6 394.5 L772.6 395.2 L773.6 396 L774.6 396.7 L775.5 397.4 L776.4 398 L777.1 398.5 L777.8 398.9 L779.2 400.1 L779.9 400.9 L780.6 401.1 L782.3 400.6 L782.9 400.3 L783.6 399.9 L784.4 399.5 L785.2 398.9 L786.2 398.3 L787.1 397.6 L788.1 397 L789.1 396.2 L790.2 395.5 L791.2 394.8 L792.1 394.1 L793.1 393.4 L793.9 392.8 L794.7 392.2 L795.4 391.7 L796 391.3 L796.5 390.9" stroke="#888" stroke-width="0.7" fill="none" stroke-linejoin="round"/>
<ellipse cx="779.6" cy="384.7" rx="1.3" ry="0.9" transform="rotate(0 779.6 384.7)" stroke="#777" stroke-width="0.7" fill="#fff"/>
<ellipse cx="793.2" cy="390.3" rx="1" ry="0.8" transform="rotate(0 793.2 390.3)" stroke="#777" stroke-width="0.7" fill="#fff"/>
<ellipse cx="783.7" cy="388.4" rx="0.9" ry="0.7" transform="rotate(0 783.7 388.4)" stroke="#777" stroke-width="0.7" fill="#fff"/>
<ellipse cx="770.7" cy="393.6" rx="1" ry="0.7" transform="rotate(0 770.7 393.6)" stroke="#777" stroke-width="0.7" fill="#fff"/>
<line x1="765.9" y1="387.3" x2="765.9" y2="427.9" stroke="#333" stroke-width="1.3" />
<line x1="765.9" y1="387.3" x2="765.9" y2="427.9" stroke="#bbb" stroke-width="0.4" />
<line x1="782" y1="413.4" x2="782" y2="421.2" stroke="#333" stroke-width="1.6" />
<ellipse cx="782" cy="418.1" rx="1.8" ry="1" transform="rotate(0 782 418.1)" stroke="#333" stroke-width="0.8" fill="#aaa"/>
<ellipse cx="779.3" cy="421.2" rx="1.6" ry="1" transform="rotate(0 779.3 421.2)" stroke="#444" stroke-width="0.8" fill="#ccc"/>
<path d="M803.2 365.6 L807.6 363.1 L808.2 392.8 L804.8 394.3 L803.2 392.3 Z" stroke="#333" stroke-width="1" fill="#f4f4f4" stroke-linejoin="round" />
<line x1="805.2" y1="366.7" x2="805.6" y2="392.8" stroke="#555" stroke-width="0.8" />
<ellipse cx="804.3" cy="366.5" rx="0.9" ry="0.9" transform="rotate(0 804.3 366.5)" stroke="#333" stroke-width="0.8" fill="#888"/>
<ellipse cx="804.5" cy="392" rx="0.9" ry="0.9" transform="rotate(0 804.5 392)" stroke="#333" stroke-width="0.8" fill="#888"/>
<path d="M807.6 363.1 L808.2 362.8 L808.8 362.3 L809.7 361.8 L810.6 361.1 L811.6 360.5 L812.6 359.8 L813.6 359.2 L814.7 358.6 L815.6 358.1 L816.5 357.8 L817.7 357.4 L818.9 357.2 L820 357 L821.2 357 L822.3 357 L823.3 357.1 L824.3 357.3 L825.2 357.6 L826 358 L826.7 358.4 L827.4 358.9 L828.1 359.6 L829 360.4 L830.1 361.3 L830.7 361.9 L831.3 362.5 L832 363.1 L832.8 363.8 L833.5 364.5 L834.3 365.3 L835.1 366.1 L836 366.9 L836.8 367.7 L837.6 368.5 L838.3 369.3 L839.1 370.1 L839.8 370.8 L840.4 371.6 L841 372.2 L841.8 373.2 L842.5 374.1 L843.2 375 L843.8 375.8 L844.4 376.7 L844.9 377.5 L845.4 378.4 L845.8 379.3 L846.2 380.3 L846.5 381.4 L846.8 382.3 L847 383.2 L847.2 384.3 L847.4 385.4 L847.5 386.5 L847.6 387.6 L847.7 388.7 L847.8 389.9 L847.8 390.9 L847.8 391.9 L847.9 392.9 L847.9 393.7 L847.9 394.5 L847.9 396 L847.9 397.1 L847.7 397.9 L847.3 398.6 L846.5 399.5 L845.9 400.1 L845.2 400.8 L844.3 401.5 L843.3 402.2 L842.3 402.9 L841.2 403.5 L840.2 404.1 L839.2 404.5 L838.2 404.7 L837.2 404.8 L836.2 404.7 L835.2 404.5 L834.2 404.2 L833.2 403.7 L832.1 403.3 L831 402.8 L829.9 402.3 L829 401.9 L828.2 401.5 L827.3 401.1 L826.3 400.6 L825.4 400.1 L824.4 399.6 L823.5 399.1 L822.5 398.6 L821.5 398.2 L820.6 397.7 L819.7 397.3 L818.7 396.9 L817.6 396.7 L816.4 396.7 L815.2 396.8 L814 397 L812.8 397.1 L811.7 397.1 L810.6 396.9 L809.6 396.4 L808.8 395.5 L808.2 394 L808 393.4 L807.8 392.7 L807.7 392 L807.6 391.1 L807.5 390.2 L807.4 389.2 L807.3 388.1 L807.3 387 L807.3 385.9 L807.2 384.7 L807.2 383.5 L807.2 382.2 L807.2 381 L807.2 379.7 L807.2 378.4 L807.3 377.1 L807.3 375.9 L807.3 374.6 L807.4 373.4 L807.4 372.2 L807.4 371 L807.5 369.9 L807.5 368.8 L807.5 367.8 L807.6 366.8 L807.6 365.9 L807.6 365.1 L807.6 364.3 L807.6 363.7 L807.6 363.1 Z" stroke="#333" stroke-width="1.1" fill="#fff" stroke-linejoin="round"/>
<path d="M812.6 393.9 L812.6 393.4 L812.6 392.7 L812.5 391.9 L812.5 391.1 L812.4 390.1 L812.4 389.1 L812.3 388 L812.2 386.9 L812.2 385.7 L812.1 384.5 L812 383.2 L812 382 L811.9 380.7 L811.8 379.5 L811.8 378.2 L811.8 377 L811.7 375.9 L811.7 374.7 L811.7 373.7 L811.7 372.6 L811.8 371.7 L811.8 370.9 L811.9 370.1 L812 369.4 L812.1 368.9 L812.7 367.5 L813.6 367.2 L814.7 367.6 L815.9 368.4 L817.3 369.3 L818.7 370 L819.5 370.3 L820.4 370.7 L821.3 371.1 L822.3 371.5 L823.3 372 L824.3 372.5 L825.3 373 L826.3 373.5 L827.3 374 L828.2 374.5 L829.1 375.1 L829.9 375.6 L830.8 376.3 L831.7 376.9 L832.6 377.6 L833.4 378.3 L834.2 379 L834.8 379.7 L835.5 380.5 L836 381.4 L836.5 382.3 L836.9 383.1 L837.2 384 L837.5 385 L837.7 386 L837.8 387.1 L837.9 388.1 L838 389.2 L838.1 390.2 L838.2 391.3 L838.2 392.3 L838.2 393.3 L838.2 394.4 L838.2 395.6 L838.1 396.8 L838 397.9 L837.9 399 L837.8 400 L837.8 400.9 L837.7 401.7 L837.7 402.3" stroke="#444" stroke-width="0.9" fill="none" stroke-linejoin="round"/>
<path d="M814.3 371.1 L814.9 371.3 L815.7 371.5 L816.6 371.7 L817.6 372 L818.7 372.3 L819.9 372.6 L821 373 L822.2 373.4 L823.2 373.9 L824.1 374.4 L825.1 374.9 L826 375.5 L827 376.1 L828 376.7 L828.9 377.4 L829.8 378.1 L830.7 378.7 L831.4 379.4 L832.1 380 L832.9 381 L833.5 381.9 L834.1 382.9 L834.5 383.9 L834.9 384.9 L835.2 385.8 L835.4 386.7 L835.7 388 L835.7 389.3 L835.7 390.5 L835.7 391.5 L835.6 392.3" stroke="#888" stroke-width="0.8" fill="none" stroke-linejoin="round"/>
<path d="M813 383.4 L813.6 383.6 L814.3 383.8 L815.2 384.1 L816.2 384.4 L817.2 384.8 L818.4 385.1 L819.6 385.5 L820.8 386 L822 386.4 L823.2 386.8 L824.3 387.3 L825.2 387.6 L826.2 388.1 L827.3 388.5 L828.4 389 L829.5 389.5 L830.6 390 L831.7 390.5 L832.8 390.9 L833.8 391.4 L834.8 391.8 L835.6 392.2 L836.4 392.6 L837.1 392.9 L837.7 393.2" stroke="#333" stroke-width="1" fill="none" stroke-linejoin="round"/>
<path d="M813 385.4 L813.6 385.6 L814.3 385.8 L815.2 386.1 L816.2 386.4 L817.2 386.7 L818.4 387.1 L819.6 387.5 L820.8 387.9 L822 388.3 L823.2 388.7 L824.3 389.2 L825.2 389.5 L826.2 389.9 L827.2 390.4 L828.3 390.9 L829.4 391.3 L830.5 391.8 L831.6 392.3 L832.6 392.8 L833.6 393.3 L834.6 393.7 L835.5 394.1 L836.2 394.5 L836.9 394.8 L837.4 395.1" stroke="#777" stroke-width="0.8" fill="none" stroke-linejoin="round"/>
<path d="M830.1 361.3 L830.4 361.8 L830.8 362.4 L831.3 363 L831.8 363.8 L832.4 364.6 L833.1 365.4 L833.7 366.3 L834.4 367.3 L835.1 368.3 L835.8 369.2 L836.5 370.2 L837.1 371.2 L837.8 372.1 L838.4 373.1 L838.9 374 L839.4 374.8 L839.9 375.6 L840.5 376.7 L841 377.8 L841.5 378.8 L841.9 379.8 L842.2 380.8 L842.6 381.8 L842.8 382.7 L843.1 383.7 L843.3 384.7 L843.6 385.7 L843.8 386.7 L843.9 387.7 L844.1 388.8 L844.2 390 L844.2 391.2 L844.3 392.3 L844.3 393.5 L844.3 394.7 L844.3 395.7 L844.3 396.7 L844.3 397.6 L844.3 398.3 L844.3 398.9" stroke="#666" stroke-width="0.8" fill="none" stroke-linejoin="round"/>
<line x1="808.2" y1="364.5" x2="812.1" y2="368.9" stroke="#555" stroke-width="0.8" />
<line x1="812.1" y1="367.8" x2="816" y2="366.7" stroke="#222" stroke-width="1.3" />
<line x1="821" y1="373.9" x2="824.9" y2="375" stroke="#222" stroke-width="1.3" />
<path d="M820.1 358.9 L825.9 358.9 L826.3 366.7 L819.6 366.7 Z" stroke="#333" stroke-width="0.9" fill="#f0f0f0" stroke-linejoin="round" />
<ellipse cx="823" cy="358.9" rx="2.9" ry="1.5" transform="rotate(0 823 358.9)" stroke="#333" stroke-width="0.9" fill="#fff"/>
<path d="M818.5 366.7 L819.1 367.4 L819.9 368.4 L821 369.1 L821.8 369.3 L822.9 369.5 L824 369.5 L825.1 369.4 L826 369.1 L826.9 368.5 L827.8 367.6 L828.5 366.5 L829 365.6 L829.1 364.3 L828.9 363.1 L828.8 362.2" stroke="#333" stroke-width="0.9" fill="none" stroke-linejoin="round"/>
<path d="M818.7 368.4 L819.4 369.1 L820.3 370 L821.5 370.7 L822.4 370.9 L823.5 371 L824.7 370.9 L825.8 370.8 L826.7 370.5 L827.7 369.7 L828.6 368.6 L829.4 367.4 L829.9 366.7" stroke="#555" stroke-width="0.8" fill="none" stroke-linejoin="round"/>
<path d="M812.6 395.6 L818.7 396.7 L819.3 400.1 L816 401.4 L813 399.5 Z" stroke="#333" stroke-width="0.9" fill="#ddd" stroke-linejoin="round" />
<line x1="812.6" y1="398.1" x2="819.2" y2="398.9" stroke="#222" stroke-width="1" />
<path d="M829.9 397.8 L833.2 398.9 L833.2 401.7 L829.9 400.6 Z" stroke="#222" stroke-width="0.9" fill="#888" stroke-linejoin="round" />
<path d="M840.4 397.3 L847.7 398.1 L849.9 399.5 L849.7 402.8 L846.5 403.6 L840.4 401.7 Z" stroke="#333" stroke-width="0.9" fill="#f2f2f2" stroke-linejoin="round" />
<ellipse cx="841" cy="399.5" rx="1.3" ry="2.3" transform="rotate(-10 841 399.5)" stroke="#333" stroke-width="0.9" fill="#ddd"/>
<ellipse cx="849" cy="401.2" rx="1.3" ry="2.1" transform="rotate(-10 849 401.2)" stroke="#333" stroke-width="0.9" fill="#ddd"/>
<rect x="764.8" y="447.5" width="2" height="9.8" rx="0.5" fill="#aaa" stroke="#333" stroke-width="0.8"/>
<rect x="764.1" y="456.8" width="3.4" height="2.4" rx="0.8" fill="#666" stroke="#2a2a2a" stroke-width="0.8"/>
<rect x="778.9" y="444.5" width="2" height="8.2" rx="0.5" fill="#aaa" stroke="#333" stroke-width="0.8"/>
<rect x="778.2" y="452.2" width="3.4" height="2.4" rx="0.8" fill="#666" stroke="#2a2a2a" stroke-width="0.8"/>
<ellipse cx="741.3" cy="444" rx="1.7" ry="1.5" transform="rotate(0 741.3 444)" stroke="#333" stroke-width="0.9" fill="#999"/>
<line x1="742.5" y1="443.2" x2="744.9" y2="441.8" stroke="#333" stroke-width="1.3" />
<ellipse cx="749" cy="448" rx="1.7" ry="1.5" transform="rotate(0 749 448)" stroke="#333" stroke-width="0.9" fill="#999"/>
<line x1="750.2" y1="447.2" x2="752.6" y2="445.8" stroke="#333" stroke-width="1.3" />
<line x1="709.1" y1="451.1" x2="709.1" y2="456.3" stroke="#333" stroke-width="1.5" />
<rect x="706.5" y="456.1" width="5.5" height="14.5" rx="1.8" fill="#fff" stroke="#444" stroke-width="0.9"/>
<rect x="706" y="469.6" width="8.8" height="19.6" rx="2.4" fill="#fff" stroke="#444" stroke-width="0.9"/>
<path d="M706.2 478.9 L706.9 479.3 L708 479.8 L709.2 480.3 L710.4 480.5 L711.6 480.3 L712.8 479.8 L714 479.3 L714.8 478.9" stroke="#333" stroke-width="1" fill="none" stroke-linejoin="round"/>
<path d="M706.2 480.9 L706.9 481.3 L708 481.8 L709.2 482.3 L710.4 482.5 L711.6 482.3 L712.8 481.8 L714 481.3 L714.8 480.9" stroke="#666" stroke-width="0.8" fill="none" stroke-linejoin="round"/>
<path d="M706.2 487.1 L706.9 487.4 L708 487.9 L709.2 488.4 L710.4 488.6 L711.6 488.4 L712.8 487.9 L714 487.4 L714.8 487.1" stroke="#333" stroke-width="1" fill="none" stroke-linejoin="round"/>
<line x1="701.6" y1="460.5" x2="701.6" y2="464.9" stroke="#333" stroke-width="1.5" />
<rect x="698.8" y="464.3" width="6.1" height="9.5" rx="1.8" fill="#fff" stroke="#444" stroke-width="0.9"/>
<rect x="696.1" y="472.4" width="11.5" height="20.2" rx="2.8" fill="#fff" stroke="#444" stroke-width="0.9"/>
<path d="M696.3 477 L697 477.2 L698 477.5 L699.2 477.9 L700.4 478.2 L701.6 478.3 L702.8 478.2 L704.2 477.9 L705.5 477.5 L706.6 477.2 L707.4 477" stroke="#999" stroke-width="0.8" fill="none" stroke-linejoin="round"/>
<path d="M696.3 484.2 L697 484.5 L698 485 L699.2 485.4 L700.4 485.8 L701.6 486 L702.6 485.9 L703.7 485.6 L704.8 485.2 L705.9 484.8 L706.8 484.5 L707.4 484.2" stroke="#2a2a2a" stroke-width="1.1" fill="none" stroke-linejoin="round"/>
<path d="M696.3 486.2 L697 486.5 L698 486.9 L699.2 487.4 L700.4 487.8 L701.6 488 L702.6 487.8 L703.7 487.6 L704.8 487.2 L705.9 486.8 L706.8 486.4 L707.4 486.2" stroke="#666" stroke-width="0.8" fill="none" stroke-linejoin="round"/>
<ellipse cx="708.4" cy="474.2" rx="1.3" ry="1.8" transform="rotate(0 708.4 474.2)" stroke="#222" stroke-width="0.8" fill="#555"/>
<path d="M694.4 486.3 L694.5 487.1 L694.5 488.3 L694.6 489.6 L695 490.7 L695.7 491.6 L696.6 492.5 L697.7 493.2 L698.8 493.7 L699.9 493.9 L701 494 L702.2 494 L703.3 493.9 L704.3 493.7 L705.4 493.2 L706.3 492.5 L707.1 491.7 L707.6 491.3" stroke="#333" stroke-width="1" fill="none" stroke-linejoin="round"/>
<path d="M707.6 491.5 L708.4 491.2 L709.6 490.8 L710.9 490.4 L712 489.9 L713 489.5 L714 489.1 L714.8 488.6 L715.4 487.7 L715.7 486.8 L715.8 485.7 L715.9 484.4 L715.9 483.2 L715.9 482.1 L715.9 481.4" stroke="#333" stroke-width="1" fill="none" stroke-linejoin="round"/>
<path d="M694.4 486.3 L695.2 487.1 L696.1 487.7 L697 487.5 L697.7 487.1" stroke="#333" stroke-width="0.9" fill="none" stroke-linejoin="round"/>
<line x1="714.8" y1="477.5" x2="716.5" y2="476.7" stroke="#333" stroke-width="1" />
<path d="M695.8 511.5 L696.4 511.2 L697.4 510.8 L698.5 510.3 L699.7 509.8 L700.9 509.4 L702 509.3 L703.1 509.5 L704.2 509.9 L705.2 510.5 L706.3 510.9 L707.5 511.1 L708.6 511 L709.8 510.6 L711.1 510.1 L712.3 509.6 L713.3 509.2 L714.1 508.9" stroke="#333" stroke-width="1" fill="none" stroke-linejoin="round"/>
<path d="M695 514.8 L695.7 514.6 L696.6 514.4 L697.7 514.1 L698.9 513.9 L700.2 513.9 L701.1 514 L702.1 514.2 L703.1 514.4 L704.2 514.7 L705.3 515 L706.4 515.1 L707.5 515.1 L708.5 515 L709.6 514.8 L710.7 514.5 L711.8 514.1 L712.8 513.8 L713.8 513.4 L714.6 513.1 L715.2 513" stroke="#333" stroke-width="1" fill="none" stroke-linejoin="round"/>
<path d="M695.4 518.1 L696.1 518.5 L697 519.1 L698.1 519.8 L699.3 520.3 L700.5 520.6 L701.4 520.7 L702.4 520.6 L703.4 520.4 L704.4 520.2 L705.4 519.9 L706.5 519.7 L707.5 519.4 L708.6 519 L709.8 518.6 L711 518.1 L712.2 517.7 L713.2 517.2 L714.1 516.9 L714.8 516.6" stroke="#333" stroke-width="1" fill="none" stroke-linejoin="round"/>
<path d="M695.8 511.5 L695.6 512.2 L695.2 513.2 L694.9 514.3 L694.7 515.5 L694.7 516.6 L694.8 517.7 L695.1 518.9 L695.5 520 L696.1 521 L696.9 521.7 L697.8 522.1 L698.9 522.3 L700.2 522.4 L701.5 522.4 L702.8 522.3 L703.8 522.1 L705.1 521.6 L706.3 520.8 L707.2 519.9 L707.8 519.4" stroke="#444" stroke-width="0.9" fill="none" stroke-linejoin="round"/>
<path d="M714.1 508.9 L714.5 509.6 L715.1 510.6 L715.7 511.8 L715.9 513 L715.7 514.2 L715.1 515.5 L714.5 516.7 L714.1 517.5" stroke="#444" stroke-width="0.9" fill="none" stroke-linejoin="round"/>
<path d="M703.5 508.4 L703.4 509.1 L703.3 510.1 L703.2 511.2 L703.1 512.4 L703 513.7 L703.1 514.8 L703.2 515.9 L703.5 517 L703.8 518.1 L704.1 519.1 L704.4 520 L704.6 520.6" stroke="#333" stroke-width="1.1" fill="none" stroke-linejoin="round"/>
<path d="M707.5 507.1 L707.4 507.9 L707.3 509 L707.1 510.4 L707.1 511.7 L707.1 513 L707.3 514.2 L707.6 515.4 L708 516.7 L708.4 517.7 L708.6 518.4" stroke="#333" stroke-width="1.1" fill="none" stroke-linejoin="round"/>
<path d="M703.5 508.4 L704.4 507.3 L705.7 506.4 L706.7 506.6 L707.5 507.1" stroke="#444" stroke-width="0.9" fill="none" stroke-linejoin="round"/>
<line x1="698.3" y1="515.9" x2="699.1" y2="521.4" stroke="#444" stroke-width="0.9" />
<line x1="711.1" y1="509.7" x2="711.5" y2="517.5" stroke="#555" stroke-width="0.8" />
<line x1="700.2" y1="520.6" x2="707.1" y2="520.3" stroke="#222" stroke-width="1.2" />
<path d="M693.7 544.5 L694 543.8 L694.3 542.8 L694.7 541.6 L695.3 540.5 L696.1 539.5 L696.8 539 L697.6 538.5 L698.6 538.1 L699.5 537.7 L700.6 537.3 L701.7 536.9 L702.7 536.6 L703.8 536.4 L704.8 536.3 L705.8 536.1 L706.9 536.1 L707.9 536 L709 536.1 L710.1 536.1 L711.1 536.2 L712.1 536.3 L713 536.4 L714.3 536.7 L715.6 537.2 L716.8 537.7 L717.8 538.2 L718.7 538.7 L719.4 539" stroke="#3a3a3a" stroke-width="1" fill="none" stroke-linejoin="round"/>
<path d="M719.4 539 L725.8 538.6 L726.2 550.5 L719.8 553.6 Z" stroke="#3a3a3a" stroke-width="0.9" fill="#fff" stroke-linejoin="round" />
<path d="M693.7 544.5 L693.7 560.6 L698.3 561.3 L719.8 553.6 L719.4 539 L713 543.2 L703.8 545.6 L698.3 545.6 Z" stroke="#3a3a3a" stroke-width="0.9" fill="#fff" stroke-linejoin="round" />
<path d="M693.7 544.5 L694.5 544.7 L695.7 545 L697 545.3 L698.3 545.6 L699.3 545.7 L700.3 545.8 L701.3 545.8 L702.5 545.7 L703.8 545.6 L704.7 545.4 L705.7 545.2 L706.7 545 L707.8 544.8 L708.9 544.5 L710 544.2 L711.1 543.9 L712.1 543.5 L713 543.2 L714.1 542.6 L715.2 542 L716.3 541.3 L717.2 540.6 L718.1 539.9 L718.8 539.4 L719.4 539" stroke="#555" stroke-width="0.8" fill="none" stroke-linejoin="round"/>
<line x1="698.3" y1="545.9" x2="698.3" y2="561" stroke="#666" stroke-width="0.8" />
<line x1="702" y1="545.9" x2="702" y2="559.9" stroke="#bbb" stroke-width="0.7" />
<line x1="707.5" y1="544.8" x2="707.5" y2="558" stroke="#888" stroke-width="0.7" />
<path d="M709.3 547.4 L713.9 545.9 L714.8 550" stroke="#444" stroke-width="0.8" fill="none" stroke-linejoin="round" />
<ellipse cx="723.6" cy="542.3" rx="0.8" ry="1.2" transform="rotate(0 723.6 542.3)" stroke="#333" stroke-width="0.8" fill="#777"/>
<ellipse cx="723.6" cy="548.1" rx="0.8" ry="1.2" transform="rotate(0 723.6 548.1)" stroke="#333" stroke-width="0.8" fill="#777"/>
<line x1="696.1" y1="550.5" x2="696.1" y2="556" stroke="#555" stroke-width="0.8" />
<line x1="733" y1="535.6" x2="737.5" y2="537.7" stroke="#333" stroke-width="2.2" />
<line x1="733" y1="535.6" x2="737.5" y2="537.7" stroke="#999" stroke-width="0.8" />
<line x1="732.5" y1="535.3" x2="734" y2="536.1" stroke="#2a2a2a" stroke-width="3.4" />
<line x1="732.8" y1="535.5" x2="733.6" y2="535.9" stroke="#8a8a8a" stroke-width="1.8" />
<line x1="733" y1="541.3" x2="737.5" y2="543.4" stroke="#333" stroke-width="2.2" />
<line x1="733" y1="541.3" x2="737.5" y2="543.4" stroke="#999" stroke-width="0.8" />
<line x1="732.5" y1="541" x2="734" y2="541.8" stroke="#2a2a2a" stroke-width="3.4" />
<line x1="732.8" y1="541.2" x2="733.6" y2="541.6" stroke="#8a8a8a" stroke-width="1.8" />
<line x1="687.2" y1="562" x2="690.7" y2="563.9" stroke="#333" stroke-width="2.2" />
<line x1="687.2" y1="562" x2="690.7" y2="563.9" stroke="#999" stroke-width="0.8" />
<line x1="686.7" y1="561.7" x2="688.2" y2="562.5" stroke="#2a2a2a" stroke-width="3.4" />
<line x1="687" y1="561.9" x2="687.8" y2="562.3" stroke="#8a8a8a" stroke-width="1.8" />
<line x1="731.3" y1="557.8" x2="751.6" y2="567.6" stroke="#2e2e2e" stroke-width="1.9" />
<line x1="731.8" y1="557.7" x2="751.2" y2="567" stroke="#999" stroke-width="0.5" />
<path d="M386.4 582.9 L386.6 583.5 L386.8 584.3 L387.1 585.3 L387.5 586.4 L387.9 587.6 L388.4 588.7 L389 589.7 L389.5 590.5 L390.2 591.4 L390.8 592.3 L391.6 593.2 L392.4 594 L393.2 594.8 L394 595.5 L394.8 596.2 L395.7 596.7 L396.6 597.3 L397.6 597.7 L398.5 598.2 L399.5 598.5 L400.5 598.7 L401.5 598.9 L402.5 598.9 L403.5 598.8 L404.6 598.5 L405.7 598.2 L406.8 597.8 L407.9 597.2 L408.9 596.7 L409.9 596 L410.8 595.4 L411.5 594.6 L412.3 593.7 L413 592.8 L413.6 591.8 L414.2 590.8 L414.7 589.8 L415.1 588.8 L415.5 587.9 L415.8 586.6 L415.9 585.4 L415.8 584.2 L415.5 583.1 L415.1 582 L414.6 581.1 L414 580.3 L413.2 579.5 L412.1 578.8 L410.8 578.2 L410 577.8 L409.1 577.5 L408.2 577.2 L407.2 576.9 L406.1 576.6 L405 576.3 L403.9 576 L402.8 575.8 L401.7 575.7 L400.6 575.6 L399.6 575.6 L398.5 575.6 L397.5 575.7 L396.4 575.9 L395.3 576.2 L394.2 576.4 L393.2 576.8 L392.2 577.1 L391.3 577.5 L390.4 577.8 L389.6 578.2 L389 578.5 L387.9 579.4 L387.2 580.4 L386.8 581.4 L386.6 582.2 L386.4 582.9 Z" stroke="#444" stroke-width="0.9" fill="#fff" stroke-linejoin="round"/>
<path d="M393.7 592.1 L394.2 592.5 L394.9 593.1 L395.7 593.9 L396.6 594.6 L397.5 595.3 L398.5 595.9 L399.6 596.2 L400.5 596.2 L401.5 596.1 L402.6 595.9 L403.8 595.7 L404.9 595.3 L405.9 594.8 L406.9 594.4 L407.8 593.8 L408.6 593.2 L409.3 592.3 L410 591.4 L410.7 590.4 L411.3 589.5 L411.8 588.6 L412.2 587.9 L412.5 587.3" stroke="#bbb" stroke-width="0.7" fill="none" stroke-linejoin="round"/>
<path d="M386.4 583.8 L388.7 577.2 L399.3 571.4 L407.8 572.7 L410.4 579.3 L410.4 586.2 L404.5 591.1 L394.8 591.1 Z" stroke="#1e1e1e" stroke-width="1.2" fill="#8c8c8c" stroke-linejoin="round" />
<path d="M387.8 583.6 L389.9 578.5 L399.3 573.8 L406.4 574.6 L408.5 580 L404.3 588.8 L395.4 588.8 Z" stroke="#222" stroke-width="0.9" fill="#c9c9c9" stroke-linejoin="round" />
<ellipse cx="397.8" cy="582.9" rx="6.4" ry="4.6" transform="rotate(-15 397.8 582.9)" stroke="#1e1e1e" stroke-width="1.1" fill="#efefef"/>
<ellipse cx="397.8" cy="582.9" rx="3.6" ry="2.5" transform="rotate(-15 397.8 582.9)" stroke="#444" stroke-width="0.8" fill="#fff"/>
<line x1="386.8" y1="584.4" x2="394.8" y2="591.5" stroke="#1e1e1e" stroke-width="1.8" />
<line x1="394.8" y1="591.2" x2="404.5" y2="591.2" stroke="#1e1e1e" stroke-width="1.4" />
<line x1="404.5" y1="591.1" x2="410.4" y2="586.2" stroke="#333" stroke-width="1.2" />
<ellipse cx="396.6" cy="592.6" rx="1.2" ry="1.6" transform="rotate(0 396.6 592.6)" stroke="#444" stroke-width="0.8" fill="#fff"/>
<line x1="404.3" y1="577.9" x2="406.9" y2="586.2" stroke="#555" stroke-width="0.8" />
<path d="M391.3 572.6 L397.8 572 L398.4 578.5 L391.9 579.3 Z" stroke="#1e1e1e" stroke-width="1" fill="#3a3a3a" stroke-linejoin="round" />
<ellipse cx="394.5" cy="572.3" rx="3.3" ry="1.9" transform="rotate(-5 394.5 572.3)" stroke="#1e1e1e" stroke-width="1" fill="#cfcfcf"/>
<ellipse cx="394.8" cy="576.1" rx="1.6" ry="1.3" transform="rotate(0 394.8 576.1)" stroke="#111" stroke-width="0.8" fill="#111"/>
<path d="M402.5 572 L410.2 569.9 L410.4 575.6 L404.3 577.3 Z" stroke="#333" stroke-width="0.9" fill="#f0f0f0" stroke-linejoin="round" />
<path d="M409.6 569.9 L416.6 569.7 L416.8 575.3 L409.8 575.8 Z" stroke="#1e1e1e" stroke-width="1" fill="#4a4a4a" stroke-linejoin="round" />
<line x1="411.9" y1="569.9" x2="412" y2="575.6" stroke="#999" stroke-width="0.7" />
<line x1="414.3" y1="569.8" x2="414.4" y2="575.4" stroke="#999" stroke-width="0.7" />
<path d="M410.8 607.4 L413.7 606.4 L421 609.7 L423.8 618 L425 625 L426.9 625.7 L425 628.8 L421.4 627.6 L420.8 625.9 L415.5 627 L414.3 622.7 L416.1 618 L413.7 610.9 Z" stroke="#444" stroke-width="0.9" fill="#fff" stroke-linejoin="round" />
<path d="M413.7 606.4 L414 607 L414.5 607.9 L415 608.9 L415.6 610 L416.2 611.1 L416.7 612.2 L417.2 613.3 L417.7 614.3 L418.1 615.3 L418.5 616.3 L418.9 617.4 L419.2 618.4 L419.5 619.4 L419.8 620.3 L420.1 621.6 L420.4 622.9 L420.5 624.1 L420.7 625.1 L420.8 625.9" stroke="#666" stroke-width="0.8" fill="none" stroke-linejoin="round"/>
<path d="M415.5 609.7 L415.7 610.4 L416.1 611.2 L416.5 612.2 L416.9 613.3 L417.4 614.5 L417.8 615.7 L418.1 616.9 L418.4 618 L418.6 619.1 L418.7 620.2 L418.7 621.4 L418.7 622.6 L418.7 623.7 L418.7 624.7 L418.6 625.6 L418.6 626.2" stroke="#999" stroke-width="0.7" fill="none" stroke-linejoin="round"/>
<line x1="416.1" y1="618" x2="418.4" y2="619.1" stroke="#666" stroke-width="0.8" />
<line x1="415.5" y1="627" x2="416.1" y2="624.4" stroke="#444" stroke-width="0.9" />
<line x1="400" y1="632.8" x2="404.2" y2="630.9" stroke="#333" stroke-width="2.9" />
<line x1="400" y1="632.8" x2="404.2" y2="630.9" stroke="#999" stroke-width="1.1" />
<line x1="399.5" y1="633" x2="401" y2="632.4" stroke="#2a2a2a" stroke-width="4.2" />
<line x1="399.8" y1="632.9" x2="400.6" y2="632.5" stroke="#8a8a8a" stroke-width="2.6" />
<path d="M479.6 675.7 L480.3 675.7 L481.3 675.6 L482.6 675.5 L483.9 675.4 L485.2 675.4 L486.4 675.5 L487.4 675.7 L488.5 675.9 L489.6 676.2 L490.6 676.6 L491.6 677.1 L492.6 677.6 L493.5 678.1 L494.4 678.7 L495.3 679.4 L496.2 680.1 L497 680.9 L497.8 681.7 L498.4 682.5 L499 683.4 L499.5 684.3 L499.9 685.3 L500.2 686.3 L500.5 687.3 L500.7 688.3 L500.8 689.3 L500.8 690.4 L500.8 691.4 L500.7 692.6 L500.5 693.7 L500.2 694.7 L499.8 695.7 L499.5 696.6 L498.9 697.7 L498.3 698.6 L497.6 699.5 L496.8 700.3 L495.9 701 L495 701.5 L494 701.8 L493 702 L491.9 702.1 L490.7 702.1 L489.6 702.1 L488.5 701.9 L487.4 701.7 L486.4 701.3 L485.4 700.8 L484.5 700.2 L483.5 699.6 L482.6 698.9 L481.8 698.3 L481.1 697.7 L480.1 696.9 L479.3 696.2 L478.6 695.4 L478.2 694 L478.1 693.2 L478 692.2 L478 691.1 L478.1 690 L478.1 688.7 L478.2 687.5 L478.3 686.3 L478.4 685.2 L478.5 684.1 L478.6 682.9 L478.7 681.7 L478.9 680.5 L479.1 679.3 L479.2 678.2 L479.4 677.2 L479.5 676.3 L479.6 675.7 Z" stroke="#444" stroke-width="0.9" fill="#fff" stroke-linejoin="round"/>
<ellipse cx="492.1" cy="690.4" rx="7.6" ry="11" transform="rotate(22 492.1 690.4)" stroke="#444" stroke-width="0.9" fill="#fff"/>
<ellipse cx="492.3" cy="690.6" rx="5.6" ry="8.6" transform="rotate(22 492.3 690.6)" stroke="#888" stroke-width="0.8" fill="#fff"/>
<path d="M487.4 691.4 L490.6 688.3 L492.6 689.8 L490 694.6 Z" stroke="#222" stroke-width="0.9" fill="#555" stroke-linejoin="round" />
<ellipse cx="494.7" cy="691.4" rx="2.2" ry="2.6" transform="rotate(0 494.7 691.4)" stroke="#333" stroke-width="0.9" fill="#ddd"/>
<ellipse cx="492.1" cy="693.5" rx="1.6" ry="1.8" transform="rotate(0 492.1 693.5)" stroke="#333" stroke-width="0.9" fill="#999"/>
<line x1="490.6" y1="686.2" x2="496.3" y2="684.6" stroke="#666" stroke-width="0.8" />
<line x1="487.4" y1="696.6" x2="493.2" y2="697.7" stroke="#666" stroke-width="0.8" />
<path d="M474.3 674.7 L478.5 672.4 L481.7 673.4 L480.6 680.9 L479.6 693.5 L475.9 693.3 L471.7 690.9 L473.3 684.1 Z" stroke="#2a2a2a" stroke-width="1" fill="#e2e2e2" stroke-linejoin="round" />
<line x1="475.9" y1="675.7" x2="475.1" y2="691.4" stroke="#333" stroke-width="1" />
<line x1="478.2" y1="674.1" x2="477.5" y2="693.3" stroke="#555" stroke-width="0.8" />
<path d="M473.3 683.6 L476.9 684.3 L476.7 688.3 L472.8 687.4 Z" stroke="#333" stroke-width="0.8" fill="#999" stroke-linejoin="round" />
<line x1="479" y1="673.1" x2="487.4" y2="674.7" stroke="#333" stroke-width="1.1" />
<path d="M466.5 676.8 L470.7 674.7 L474.6 675.7 L474.6 680.7 L470.7 681.5 L467 680.7 Z" stroke="#1e1e1e" stroke-width="1" fill="#555" stroke-linejoin="round" />
<ellipse cx="467.7" cy="678.6" rx="1.8" ry="2.6" transform="rotate(10 467.7 678.6)" stroke="#1e1e1e" stroke-width="1" fill="#ddd"/>
<path d="M470.7 675.2 L474.3 675.9 L474.3 680.4 L470.9 680.9 Z" stroke="#111" stroke-width="0.8" fill="#222" stroke-linejoin="round" />
<path d="M502.6 705 L505.2 704.5 L509.9 698.2 L512.5 699.6 L520.1 706.1 L522.2 710.5 L520.4 712.9 L514.6 714.7 L507.5 710.5 Z" stroke="#444" stroke-width="0.9" fill="#fff" stroke-linejoin="round" />
<line x1="505.2" y1="704.5" x2="513.1" y2="712.4" stroke="#444" stroke-width="0.9" />
<line x1="508.4" y1="701.9" x2="516.2" y2="710.3" stroke="#555" stroke-width="0.8" />
<line x1="511.5" y1="700.3" x2="519.9" y2="709.2" stroke="#666" stroke-width="0.8" />
<line x1="509.9" y1="698.2" x2="509.6" y2="701.9" stroke="#555" stroke-width="0.8" />
<line x1="513.1" y1="712.4" x2="520.4" y2="709.2" stroke="#555" stroke-width="0.8" />
<line x1="507.5" y1="710.5" x2="510.5" y2="708.4" stroke="#444" stroke-width="0.9" />
<line x1="514.6" y1="714.7" x2="514.8" y2="711.8" stroke="#555" stroke-width="0.8" />
<ellipse cx="517.8" cy="709.2" rx="1.6" ry="2.4" transform="rotate(30 517.8 709.2)" stroke="#777" stroke-width="0.8" fill="#fff"/>
<rect x="508.8" y="720.4" width="1.9" height="6.4" rx="0.6" fill="#999" stroke="#333" stroke-width="0.8"/>
<rect x="508.2" y="719.3" width="3" height="2.2" rx="0.8" fill="#666" stroke="#2a2a2a" stroke-width="0.8"/>
<circle cx="869.5" cy="719" r="4.6" fill="#ee3e33"/>
<circle cx="869.5" cy="732.5" r="4.6" fill="#fce23a"/>
<circle cx="869.5" cy="746" r="4.6" fill="#3fa846"/>
<circle cx="369.5" cy="87" r="8.8" fill="#fff" stroke="#e6e6e6" stroke-width="0.9"/>
<text x="369.5" y="91.5" text-anchor="middle">1</text>
<circle cx="369.7" cy="123.8" r="8.8" fill="#fff" stroke="#e6e6e6" stroke-width="0.9"/>
<text x="369.7" y="128.3" text-anchor="middle">2</text>
<circle cx="605" cy="162.5" r="8.8" fill="#fff" stroke="#e6e6e6" stroke-width="0.9"/>
<text x="605" y="167" text-anchor="middle">3</text>
<circle cx="645.5" cy="180.5" r="8.8" fill="#fff" stroke="#e6e6e6" stroke-width="0.9"/>
<text x="645.5" y="185" text-anchor="middle">4</text>
<circle cx="645" cy="156.5" r="8.8" fill="#fff" stroke="#e6e6e6" stroke-width="0.9"/>
<text x="645" y="161" text-anchor="middle">5</text>
<circle cx="644" cy="132.5" r="8.8" fill="#fff" stroke="#e6e6e6" stroke-width="0.9"/>
<text x="644" y="137" text-anchor="middle">6</text>
<circle cx="830" cy="190.7" r="8.8" fill="#fff" stroke="#e6e6e6" stroke-width="0.9"/>
<text x="830" y="195.2" text-anchor="middle">7</text>
<circle cx="932" cy="233.8" r="8.8" fill="#fff" stroke="#e6e6e6" stroke-width="0.9"/>
<text x="932" y="238.3" text-anchor="middle">8</text>
<circle cx="877" cy="346" r="8.8" fill="#fff" stroke="#e6e6e6" stroke-width="0.9"/>
<text x="877" y="350.5" text-anchor="middle">9</text>
<circle cx="745.7" cy="274.7" r="8.8" fill="#fff" stroke="#e6e6e6" stroke-width="0.9"/>
<text x="745.7" y="279.2" text-anchor="middle">10</text>
<circle cx="876.5" cy="380.8" r="8.8" fill="#fff" stroke="#e6e6e6" stroke-width="0.9"/>
<text x="876.5" y="385.3" text-anchor="middle">11</text>
<circle cx="741" cy="408" r="8.8" fill="#fff" stroke="#e6e6e6" stroke-width="0.9"/>
<text x="741" y="412.5" text-anchor="middle">12</text>
<circle cx="741" cy="372.5" r="8.8" fill="#fff" stroke="#e6e6e6" stroke-width="0.9"/>
<text x="741" y="377" text-anchor="middle">13</text>
<circle cx="773.5" cy="482.5" r="8.8" fill="#fff" stroke="#e6e6e6" stroke-width="0.9"/>
<text x="773.5" y="487" text-anchor="middle">13</text>
<circle cx="742" cy="470.5" r="8.8" fill="#fff" stroke="#e6e6e6" stroke-width="0.9"/>
<text x="742" y="475" text-anchor="middle">14</text>
<circle cx="934.5" cy="428" r="8.8" fill="#fff" stroke="#e6e6e6" stroke-width="0.9"/>
<text x="934.5" y="432.5" text-anchor="middle">15</text>
<circle cx="716" cy="371" r="8.8" fill="#fff" stroke="#e6e6e6" stroke-width="0.9"/>
<text x="716" y="375.5" text-anchor="middle">16</text>
<circle cx="659.5" cy="481" r="8.8" fill="#fff" stroke="#e6e6e6" stroke-width="0.9"/>
<text x="659.5" y="485.5" text-anchor="middle">17</text>
<circle cx="660" cy="517" r="8.8" fill="#fff" stroke="#e6e6e6" stroke-width="0.9"/>
<text x="660" y="521.5" text-anchor="middle">18</text>
<circle cx="660" cy="546.7" r="8.8" fill="#fff" stroke="#e6e6e6" stroke-width="0.9"/>
<text x="660" y="551.2" text-anchor="middle">19</text>
<circle cx="660" cy="568" r="8.8" fill="#fff" stroke="#e6e6e6" stroke-width="0.9"/>
<text x="660" y="572.5" text-anchor="middle">6</text>
<circle cx="757" cy="539.5" r="8.8" fill="#fff" stroke="#e6e6e6" stroke-width="0.9"/>
<text x="757" y="544" text-anchor="middle">6</text>
<circle cx="777" cy="557.5" r="8.8" fill="#fff" stroke="#e6e6e6" stroke-width="0.9"/>
<text x="777" y="562" text-anchor="middle">20</text>
<circle cx="587" cy="333.7" r="8.8" fill="#fff" stroke="#e6e6e6" stroke-width="0.9"/>
<text x="587" y="338.2" text-anchor="middle">21</text>
<circle cx="455" cy="345" r="8.8" fill="#fff" stroke="#e6e6e6" stroke-width="0.9"/>
<text x="455" y="349.5" text-anchor="middle">22</text>
<circle cx="601.7" cy="364" r="8.8" fill="#fff" stroke="#e6e6e6" stroke-width="0.9"/>
<text x="601.7" y="368.5" text-anchor="middle">23</text>
<circle cx="455" cy="381" r="8.8" fill="#fff" stroke="#e6e6e6" stroke-width="0.9"/>
<text x="455" y="385.5" text-anchor="middle">24</text>
<circle cx="603" cy="402.5" r="8.8" fill="#fff" stroke="#e6e6e6" stroke-width="0.9"/>
<text x="603" y="407" text-anchor="middle">24</text>
<circle cx="486" cy="458.7" r="8.8" fill="#fff" stroke="#e6e6e6" stroke-width="0.9"/>
<text x="486" y="463.2" text-anchor="middle">25</text>
<circle cx="496" cy="509.5" r="8.8" fill="#fff" stroke="#e6e6e6" stroke-width="0.9"/>
<text x="496" y="514" text-anchor="middle">26</text>
<circle cx="550" cy="632" r="8.8" fill="#fff" stroke="#e6e6e6" stroke-width="0.9"/>
<text x="550" y="636.5" text-anchor="middle">27</text>
<circle cx="551" cy="684.3" r="8.8" fill="#fff" stroke="#e6e6e6" stroke-width="0.9"/>
<text x="551" y="688.8" text-anchor="middle">28</text>
<circle cx="551.3" cy="708.5" r="8.8" fill="#fff" stroke="#e6e6e6" stroke-width="0.9"/>
<text x="551.3" y="713" text-anchor="middle">29</text>
<circle cx="551.5" cy="729.2" r="8.8" fill="#fff" stroke="#e6e6e6" stroke-width="0.9"/>
<text x="551.5" y="733.7" text-anchor="middle">24</text>
<circle cx="394.5" cy="694.2" r="8.8" fill="#fff" stroke="#e6e6e6" stroke-width="0.9"/>
<text x="394.5" y="698.7" text-anchor="middle">30</text>
<circle cx="394.6" cy="663.2" r="8.8" fill="#fff" stroke="#e6e6e6" stroke-width="0.9"/>
<text x="394.6" y="667.7" text-anchor="middle">24</text>
<circle cx="480.7" cy="572.5" r="8.8" fill="#fff" stroke="#e6e6e6" stroke-width="0.9"/>
<text x="480.7" y="577" text-anchor="middle">31</text>
<circle cx="373" cy="643" r="8.8" fill="#fff" stroke="#e6e6e6" stroke-width="0.9"/>
<text x="373" y="647.5" text-anchor="middle">32</text>
<circle cx="448" cy="625.5" r="8.8" fill="#fff" stroke="#e6e6e6" stroke-width="0.9"/>
<text x="448" y="630" text-anchor="middle">33</text>
<circle cx="316" cy="629.5" r="8.8" fill="#fff" stroke="#e6e6e6" stroke-width="0.9"/>
<text x="316" y="634" text-anchor="middle">34</text>
<circle cx="129.5" cy="567" r="8.8" fill="#fff" stroke="#e6e6e6" stroke-width="0.9"/>
<text x="129.5" y="571.5" text-anchor="middle">35</text>
<circle cx="174" cy="394.2" r="8.8" fill="#fff" stroke="#e6e6e6" stroke-width="0.9"/>
<text x="174" y="398.7" text-anchor="middle">36</text>
<circle cx="270.6" cy="447" r="8.8" fill="#fff" stroke="#e6e6e6" stroke-width="0.9"/>
<text x="270.6" y="451.5" text-anchor="middle">37</text>
<circle cx="238" cy="289.5" r="8.8" fill="#fff" stroke="#e6e6e6" stroke-width="0.9"/>
<text x="238" y="294" text-anchor="middle">38</text>
<circle cx="233.8" cy="359.2" r="8.8" fill="#fff" stroke="#e6e6e6" stroke-width="0.9"/>
<text x="233.8" y="363.7" text-anchor="middle">24</text>
</svg>
</body></html>
